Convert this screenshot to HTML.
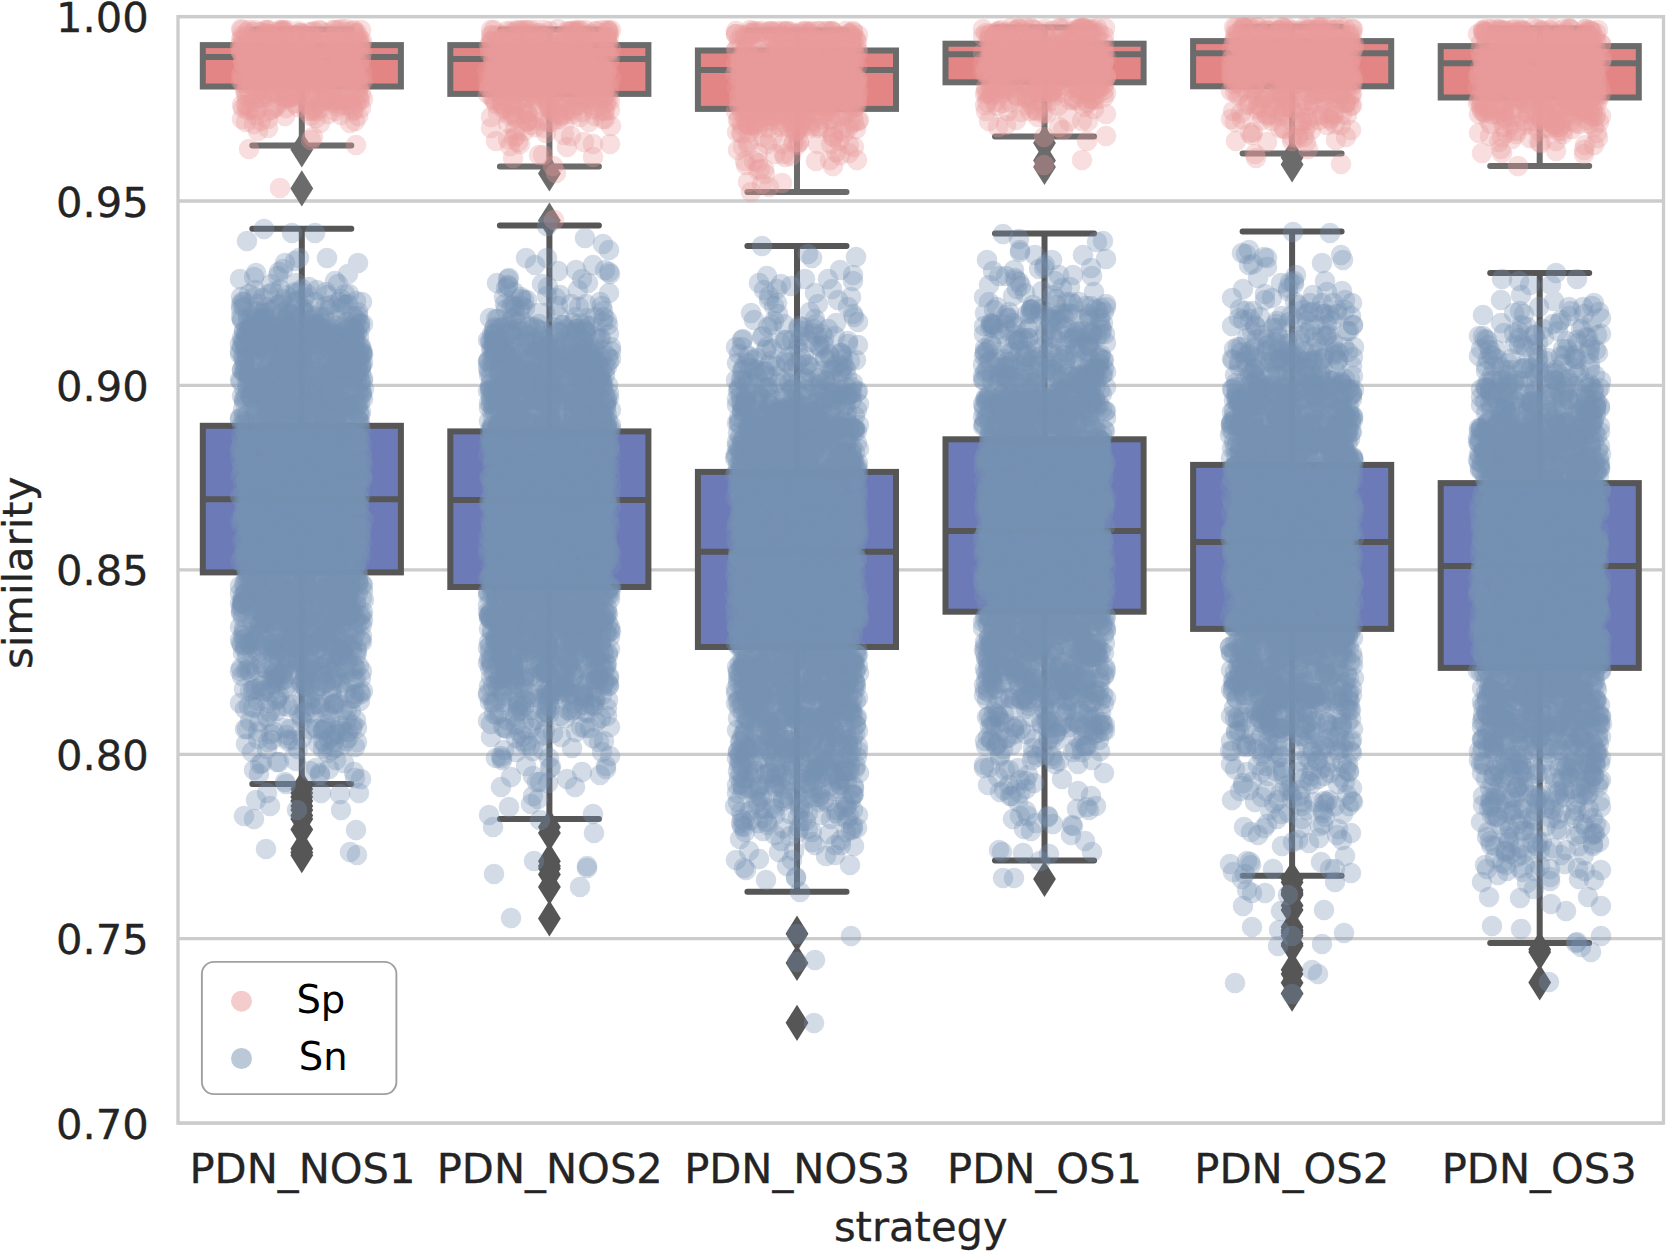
<!DOCTYPE html>
<html><head><meta charset="utf-8"><title>similarity by strategy</title>
<style>html,body{margin:0;padding:0;background:#fff;overflow:hidden}svg{display:block}text{font-family:"DejaVu Sans","Liberation Sans",sans-serif;stroke-width:.3px}</style></head><body>
<svg width="1666" height="1251" viewBox="0 0 1666 1251">
<rect width="1666" height="1251" fill="#fff"/>
<path d="M178.0 16.6H1663.5M178.0 201.0H1663.5M178.0 385.4H1663.5M178.0 569.9H1663.5M178.0 754.3H1663.5M178.0 938.7H1663.5M178.0 1123.1H1663.5" stroke="#cccccc" stroke-width="3.3" fill="none"/>
<rect x="178.0" y="16.6" width="1485.5" height="1106.5" fill="none" stroke="#cccccc" stroke-width="3.3"/>
<g stroke="#6b6b6b" stroke-width="6.00" fill="none" stroke-linecap="round"><path d="M301.8 45.1V29.4M301.8 86.5V145.6" stroke-linecap="butt"/><path d="M252.3 29.4H351.3M252.3 145.6H351.3"/><rect x="202.8" y="45.1" width="198.1" height="41.4" fill="#e38585" stroke-linejoin="miter"/><path d="M202.8 57.0H400.8" stroke-linecap="butt"/></g><path d="M301.8 131.4l11.4 18.1l-11.4 18.1l-11.4 -18.1z" fill="#6b6b6b"/><path d="M301.8 170.3l11.4 18.1l-11.4 18.1l-11.4 -18.1z" fill="#6b6b6b"/>
<g stroke="#6b6b6b" stroke-width="6.00" fill="none" stroke-linecap="round"><path d="M549.4 45.1V29.4M549.4 93.9V166.4" stroke-linecap="butt"/><path d="M499.9 29.4H598.9M499.9 166.4H598.9"/><rect x="450.3" y="45.1" width="198.1" height="48.8" fill="#e38585" stroke-linejoin="miter"/><path d="M450.3 59.0H648.4" stroke-linecap="butt"/></g><path d="M549.4 155.4l11.4 18.1l-11.4 18.1l-11.4 -18.1z" fill="#6b6b6b"/><path d="M549.4 202.4l11.4 18.1l-11.4 18.1l-11.4 -18.1z" fill="#6b6b6b"/>
<g stroke="#6b6b6b" stroke-width="6.00" fill="none" stroke-linecap="round"><path d="M797.0 50.5V30.4M797.0 108.9V192.0" stroke-linecap="butt"/><path d="M747.4 30.4H846.5M747.4 192.0H846.5"/><rect x="697.9" y="50.5" width="198.1" height="58.4" fill="#e38585" stroke-linejoin="miter"/><path d="M697.9 70.0H896.0" stroke-linecap="butt"/></g>
<g stroke="#6b6b6b" stroke-width="6.00" fill="none" stroke-linecap="round"><path d="M1044.5 43.7V27.4M1044.5 82.3V136.4" stroke-linecap="butt"/><path d="M995.0 27.4H1094.1M995.0 136.4H1094.1"/><rect x="945.5" y="43.7" width="198.1" height="38.6" fill="#e38585" stroke-linejoin="miter"/><path d="M945.5 54.2H1143.6" stroke-linecap="butt"/></g><path d="M1044.5 124.9l11.4 18.1l-11.4 18.1l-11.4 -18.1z" fill="#6b6b6b"/><path d="M1044.5 142.3l11.4 18.1l-11.4 18.1l-11.4 -18.1z" fill="#6b6b6b"/><path d="M1044.5 148.9l11.4 18.1l-11.4 18.1l-11.4 -18.1z" fill="#6b6b6b"/>
<g stroke="#6b6b6b" stroke-width="6.00" fill="none" stroke-linecap="round"><path d="M1292.1 41.1V26.8M1292.1 86.3V153.6" stroke-linecap="butt"/><path d="M1242.6 26.8H1341.6M1242.6 153.6H1341.6"/><rect x="1193.1" y="41.1" width="198.1" height="45.2" fill="#e38585" stroke-linejoin="miter"/><path d="M1193.1 53.2H1391.2" stroke-linecap="butt"/></g><path d="M1292.1 139.4l11.4 18.1l-11.4 18.1l-11.4 -18.1z" fill="#6b6b6b"/><path d="M1292.1 146.4l11.4 18.1l-11.4 18.1l-11.4 -18.1z" fill="#6b6b6b"/>
<g stroke="#6b6b6b" stroke-width="6.00" fill="none" stroke-linecap="round"><path d="M1539.7 46.1V28.4M1539.7 97.5V166.0" stroke-linecap="butt"/><path d="M1490.2 28.4H1589.2M1490.2 166.0H1589.2"/><rect x="1440.7" y="46.1" width="198.1" height="51.4" fill="#e38585" stroke-linejoin="miter"/><path d="M1440.7 63.2H1638.7" stroke-linecap="butt"/></g>
<g stroke="#565656" stroke-width="6.00" fill="none" stroke-linecap="round"><path d="M301.8 425.8V228.8M301.8 572.4V784.0" stroke-linecap="butt"/><path d="M252.3 228.8H351.3M252.3 784.0H351.3"/><rect x="202.8" y="425.8" width="198.1" height="146.6" fill="#6c7ab8" stroke-linejoin="miter"/><path d="M202.8 499.2H400.8" stroke-linecap="butt"/></g><path d="M301.8 770.9l11.4 18.1l-11.4 18.1l-11.4 -18.1z" fill="#565656"/><path d="M301.8 774.9l11.4 18.1l-11.4 18.1l-11.4 -18.1z" fill="#565656"/><path d="M301.8 778.9l11.4 18.1l-11.4 18.1l-11.4 -18.1z" fill="#565656"/><path d="M301.8 782.9l11.4 18.1l-11.4 18.1l-11.4 -18.1z" fill="#565656"/><path d="M301.8 787.9l11.4 18.1l-11.4 18.1l-11.4 -18.1z" fill="#565656"/><path d="M301.8 791.9l11.4 18.1l-11.4 18.1l-11.4 -18.1z" fill="#565656"/><path d="M301.8 797.5l11.4 18.1l-11.4 18.1l-11.4 -18.1z" fill="#565656"/><path d="M301.8 800.9l11.4 18.1l-11.4 18.1l-11.4 -18.1z" fill="#565656"/><path d="M301.8 811.4l11.4 18.1l-11.4 18.1l-11.4 -18.1z" fill="#565656"/><path d="M301.8 830.7l11.4 18.1l-11.4 18.1l-11.4 -18.1z" fill="#565656"/><path d="M301.8 834.3l11.4 18.1l-11.4 18.1l-11.4 -18.1z" fill="#565656"/><path d="M301.8 837.1l11.4 18.1l-11.4 18.1l-11.4 -18.1z" fill="#565656"/>
<g stroke="#565656" stroke-width="6.00" fill="none" stroke-linecap="round"><path d="M549.4 431.4V225.5M549.4 587.0V819.0" stroke-linecap="butt"/><path d="M499.9 225.5H598.9M499.9 819.0H598.9"/><rect x="450.3" y="431.4" width="198.1" height="155.6" fill="#6c7ab8" stroke-linejoin="miter"/><path d="M450.3 500.1H648.4" stroke-linecap="butt"/></g><path d="M549.4 809.0l11.4 18.1l-11.4 18.1l-11.4 -18.1z" fill="#565656"/><path d="M549.4 814.8l11.4 18.1l-11.4 18.1l-11.4 -18.1z" fill="#565656"/><path d="M549.4 843.1l11.4 18.1l-11.4 18.1l-11.4 -18.1z" fill="#565656"/><path d="M549.4 847.9l11.4 18.1l-11.4 18.1l-11.4 -18.1z" fill="#565656"/><path d="M549.4 850.4l11.4 18.1l-11.4 18.1l-11.4 -18.1z" fill="#565656"/><path d="M549.4 856.3l11.4 18.1l-11.4 18.1l-11.4 -18.1z" fill="#565656"/><path d="M549.4 868.8l11.4 18.1l-11.4 18.1l-11.4 -18.1z" fill="#565656"/><path d="M549.4 900.3l11.4 18.1l-11.4 18.1l-11.4 -18.1z" fill="#565656"/>
<g stroke="#565656" stroke-width="6.00" fill="none" stroke-linecap="round"><path d="M797.0 471.9V245.9M797.0 647.0V891.7" stroke-linecap="butt"/><path d="M747.4 245.9H846.5M747.4 891.7H846.5"/><rect x="697.9" y="471.9" width="198.1" height="175.1" fill="#6c7ab8" stroke-linejoin="miter"/><path d="M697.9 551.7H896.0" stroke-linecap="butt"/></g><path d="M797.0 915.6l11.4 18.1l-11.4 18.1l-11.4 -18.1z" fill="#565656"/><path d="M797.0 944.8l11.4 18.1l-11.4 18.1l-11.4 -18.1z" fill="#565656"/><path d="M797.0 1004.7l11.4 18.1l-11.4 18.1l-11.4 -18.1z" fill="#565656"/>
<g stroke="#565656" stroke-width="6.00" fill="none" stroke-linecap="round"><path d="M1044.5 439.3V233.6M1044.5 611.7V860.6" stroke-linecap="butt"/><path d="M995.0 233.6H1094.1M995.0 860.6H1094.1"/><rect x="945.5" y="439.3" width="198.1" height="172.4" fill="#6c7ab8" stroke-linejoin="miter"/><path d="M945.5 531.0H1143.6" stroke-linecap="butt"/></g><path d="M1044.5 860.9l11.4 18.1l-11.4 18.1l-11.4 -18.1z" fill="#565656"/>
<g stroke="#565656" stroke-width="6.00" fill="none" stroke-linecap="round"><path d="M1292.1 464.9V231.5M1292.1 628.9V875.7" stroke-linecap="butt"/><path d="M1242.6 231.5H1341.6M1242.6 875.7H1341.6"/><rect x="1193.1" y="464.9" width="198.1" height="164.0" fill="#6c7ab8" stroke-linejoin="miter"/><path d="M1193.1 542.1H1391.2" stroke-linecap="butt"/></g><path d="M1292.1 860.9l11.4 18.1l-11.4 18.1l-11.4 -18.1z" fill="#565656"/><path d="M1292.1 864.2l11.4 18.1l-11.4 18.1l-11.4 -18.1z" fill="#565656"/><path d="M1292.1 872.2l11.4 18.1l-11.4 18.1l-11.4 -18.1z" fill="#565656"/><path d="M1292.1 874.8l11.4 18.1l-11.4 18.1l-11.4 -18.1z" fill="#565656"/><path d="M1292.1 876.8l11.4 18.1l-11.4 18.1l-11.4 -18.1z" fill="#565656"/><path d="M1292.1 887.4l11.4 18.1l-11.4 18.1l-11.4 -18.1z" fill="#565656"/><path d="M1292.1 891.9l11.4 18.1l-11.4 18.1l-11.4 -18.1z" fill="#565656"/><path d="M1292.1 908.8l11.4 18.1l-11.4 18.1l-11.4 -18.1z" fill="#565656"/><path d="M1292.1 912.1l11.4 18.1l-11.4 18.1l-11.4 -18.1z" fill="#565656"/><path d="M1292.1 914.6l11.4 18.1l-11.4 18.1l-11.4 -18.1z" fill="#565656"/><path d="M1292.1 917.6l11.4 18.1l-11.4 18.1l-11.4 -18.1z" fill="#565656"/><path d="M1292.1 925.7l11.4 18.1l-11.4 18.1l-11.4 -18.1z" fill="#565656"/><path d="M1292.1 927.7l11.4 18.1l-11.4 18.1l-11.4 -18.1z" fill="#565656"/><path d="M1292.1 951.6l11.4 18.1l-11.4 18.1l-11.4 -18.1z" fill="#565656"/><path d="M1292.1 955.9l11.4 18.1l-11.4 18.1l-11.4 -18.1z" fill="#565656"/><path d="M1292.1 964.7l11.4 18.1l-11.4 18.1l-11.4 -18.1z" fill="#565656"/><path d="M1292.1 975.5l11.4 18.1l-11.4 18.1l-11.4 -18.1z" fill="#565656"/>
<g stroke="#565656" stroke-width="6.00" fill="none" stroke-linecap="round"><path d="M1539.7 483.1V273.0M1539.7 667.9V943.0" stroke-linecap="butt"/><path d="M1490.2 273.0H1589.2M1490.2 943.0H1589.2"/><rect x="1440.7" y="483.1" width="198.1" height="184.8" fill="#6c7ab8" stroke-linejoin="miter"/><path d="M1440.7 566.1H1638.7" stroke-linecap="butt"/></g><path d="M1539.7 931.4l11.4 18.1l-11.4 18.1l-11.4 -18.1z" fill="#565656"/><path d="M1539.7 934.0l11.4 18.1l-11.4 18.1l-11.4 -18.1z" fill="#565656"/><path d="M1539.7 964.3l11.4 18.1l-11.4 18.1l-11.4 -18.1z" fill="#565656"/>
<g fill="none" stroke-linecap="round" stroke-width="20.6" stroke="#e99a9a" stroke-opacity="0.33">
<path d="M350 123h0M283 87h0M246 105h0M335 101h0M353 68h0M292 46h0M362 52h0M516 118h0M552 97h0M510 93h0M592 90h0M604 90h0M543 57h0M590 62h0M531 45h0M770 140h0M773 136h0M756 76h0M770 88h0M806 55h0M842 67h0M839 71h0M790 53h0M839 88h0M837 99h0M1053 90h0M1008 111h0M1001 95h0M1094 89h0M1044 54h0M1068 73h0M1039 65h0M1072 51h0M1022 47h0M1061 81h0M997 32h0M1236 141h0M1281 112h0M1294 79h0M1279 64h0M1303 75h0M1247 74h0M1353 78h0M1351 43h0M1329 40h0M1341 46h0M1324 51h0M1317 63h0M1276 61h0M1250 60h0M1331 49h0M1543 111h0M1562 118h0M1517 101h0M1520 115h0M1505 85h0M1532 41h0M1493 38h0M1553 57h0M1601 44h0M1530 78h0M1497 83h0M1500 65h0M1542 30h0M1497 59h0"/>
<path d="M283 87h0M316 118h0M353 83h0M242 105h0M273 57h0M242 36h0M272 62h0M267 67h0M361 61h0M540 87h0M561 89h0M528 90h0M569 84h0M548 106h0M572 64h0M585 53h0M537 33h0M578 83h0M536 65h0M571 31h0M498 55h0M506 82h0M788 127h0M835 114h0M747 124h0M797 104h0M788 73h0M823 54h0M839 82h0M840 93h0M806 57h0M854 103h0M763 99h0M799 64h0M770 36h0M753 103h0M1089 86h0M1041 94h0M998 31h0M1000 41h0M999 46h0M1090 31h0M1000 43h0M1022 37h0M1311 95h0M1296 83h0M1327 71h0M1311 130h0M1280 128h0M1325 38h0M1341 36h0M1340 27h0M1245 59h0M1236 53h0M1557 120h0M1548 115h0M1568 102h0M1523 66h0M1571 35h0M1585 29h0M1573 62h0M1546 48h0M1578 88h0"/>
<path d="M264 90h0M325 89h0M314 81h0M350 81h0M353 99h0M285 67h0M349 67h0M265 58h0M350 46h0M520 98h0M506 108h0M504 96h0M515 75h0M567 31h0M542 67h0M581 63h0M607 37h0M806 111h0M750 125h0M831 89h0M791 59h0M754 71h0M854 43h0M778 45h0M803 50h0M799 45h0M824 41h0M785 64h0M856 39h0M833 70h0M761 31h0M1031 104h0M1043 113h0M1047 92h0M1081 30h0M1021 57h0M1074 37h0M1084 28h0M1041 62h0M1322 115h0M1240 77h0M1295 82h0M1305 130h0M1231 72h0M1333 79h0M1251 45h0M1337 39h0M1575 101h0M1512 125h0M1586 90h0M1508 93h0M1549 66h0M1505 30h0M1573 54h0M1492 68h0M1537 53h0M1531 53h0M1504 62h0M1533 82h0"/>
<path d="M254 102h0M265 86h0M286 99h0M303 47h0M316 58h0M241 52h0M258 79h0M288 38h0M288 68h0M362 72h0M610 101h0M549 100h0M512 86h0M550 101h0M543 39h0M537 54h0M555 54h0M494 82h0M583 71h0M532 79h0M498 34h0M588 78h0M501 38h0M511 64h0M491 30h0M756 126h0M833 136h0M787 113h0M808 112h0M768 128h0M807 60h0M761 66h0M760 55h0M820 75h0M829 72h0M771 86h0M1092 85h0M1041 102h0M1092 75h0M1042 46h0M1035 30h0M1036 39h0M1001 30h0M1083 78h0M1075 56h0M999 74h0M1016 81h0M1079 29h0M1323 68h0M1334 72h0M1341 93h0M1315 50h0M1324 40h0M1341 56h0M1279 57h0M1340 61h0M1324 54h0M1312 57h0M1250 27h0M1570 103h0M1535 94h0M1562 76h0M1534 49h0M1554 38h0M1596 93h0M1522 89h0M1502 52h0M1479 78h0M1508 93h0M1503 92h0M1522 72h0M1527 87h0"/>
<path d="M343 101h0M334 103h0M363 81h0M262 53h0M344 72h0M360 48h0M265 36h0M295 35h0M286 39h0M276 58h0M275 66h0M502 104h0M563 115h0M593 102h0M507 71h0M514 54h0M508 36h0M609 37h0M517 78h0M570 76h0M527 30h0M826 109h0M851 63h0M749 64h0M759 64h0M748 69h0M789 50h0M792 55h0M771 61h0M759 59h0M803 89h0M749 36h0M750 30h0M737 49h0M774 40h0M800 58h0M813 41h0M1030 96h0M1094 100h0M1076 60h0M1096 80h0M1032 54h0M1074 65h0M1022 62h0M983 53h0M1094 58h0M1079 56h0M1086 32h0M1096 35h0M1274 70h0M1328 74h0M1315 77h0M1307 55h0M1329 58h0M1335 47h0M1308 47h0M1315 37h0M1256 158h0M1554 124h0M1516 131h0M1558 74h0M1559 61h0M1602 58h0M1583 68h0M1560 55h0M1596 89h0M1589 89h0M1519 76h0M1529 49h0M1523 63h0M1564 46h0M1509 64h0M1513 40h0M1566 87h0M1512 71h0"/>
<path d="M312 81h0M247 57h0M253 54h0M322 42h0M294 50h0M315 52h0M262 44h0M361 46h0M309 32h0M280 188h0M356 145h0M538 86h0M495 100h0M569 53h0M556 38h0M574 75h0M576 33h0M514 80h0M509 72h0M522 42h0M516 69h0M546 60h0M763 137h0M756 123h0M832 105h0M746 107h0M771 121h0M834 82h0M756 31h0M777 69h0M754 68h0M1047 89h0M998 64h0M1051 59h0M1010 53h0M1008 50h0M1071 54h0M1027 72h0M989 64h0M1019 28h0M1309 106h0M1289 81h0M1297 63h0M1247 65h0M1249 55h0M1315 50h0M1597 96h0M1572 121h0M1501 109h0M1538 87h0M1529 65h0M1569 90h0M1562 71h0M1567 60h0M1539 91h0M1482 88h0M1538 29h0"/>
<path d="M338 107h0M277 46h0M243 63h0M308 45h0M306 59h0M502 105h0M534 100h0M516 136h0M526 90h0M551 97h0M605 111h0M499 43h0M522 31h0M581 44h0M591 74h0M555 64h0M538 57h0M589 57h0M606 72h0M540 33h0M814 106h0M789 117h0M786 115h0M844 114h0M849 36h0M767 101h0M778 94h0M798 90h0M807 53h0M757 69h0M802 69h0M739 97h0M780 69h0M783 75h0M814 97h0M755 101h0M766 85h0M840 155h0M1006 125h0M1025 87h0M1053 94h0M990 43h0M1075 40h0M992 56h0M1047 59h0M1017 47h0M1051 68h0M1087 42h0M1106 76h0M994 62h0M1254 85h0M1247 105h0M1277 98h0M1327 125h0M1297 71h0M1261 32h0M1270 53h0M1484 108h0M1515 109h0M1570 101h0M1568 104h0M1547 112h0M1547 53h0M1570 29h0M1501 71h0M1574 76h0M1525 89h0M1601 44h0M1509 51h0M1481 43h0M1582 52h0M1540 60h0M1555 58h0M1544 72h0M1545 61h0"/>
<path d="M295 87h0M324 81h0M333 52h0M257 48h0M259 72h0M489 88h0M578 84h0M533 120h0M503 70h0M501 55h0M511 31h0M509 82h0M523 39h0M583 43h0M495 75h0M589 76h0M513 158h0M737 132h0M755 109h0M799 142h0M742 35h0M845 43h0M854 83h0M774 56h0M852 73h0M802 59h0M836 60h0M781 35h0M742 62h0M1050 89h0M1051 92h0M1027 99h0M1100 86h0M1103 55h0M1016 51h0M1031 69h0M1000 76h0M1086 47h0M1081 28h0M1011 28h0M1298 138h0M1272 121h0M1329 81h0M1345 103h0M1252 66h0M1237 81h0M1319 49h0M1482 104h0M1593 111h0M1493 85h0M1516 80h0M1483 31h0"/>
<path d="M313 137h0M327 99h0M358 116h0M242 30h0M253 57h0M266 33h0M282 40h0M263 47h0M280 30h0M586 100h0M552 54h0M606 53h0M492 71h0M499 57h0M497 60h0M525 80h0M830 119h0M791 119h0M799 126h0M788 106h0M767 144h0M757 96h0M829 86h0M773 100h0M858 80h0M776 100h0M787 73h0M857 79h0M1037 111h0M1039 43h0M1078 42h0M1045 48h0M1099 77h0M1098 40h0M1060 78h0M997 56h0M1255 84h0M1266 65h0M1351 130h0M1319 120h0M1289 40h0M1332 48h0M1282 56h0M1253 44h0M1275 34h0M1336 49h0M1512 109h0M1516 134h0M1498 71h0M1500 40h0M1502 37h0M1495 68h0M1533 73h0M1513 48h0M1583 39h0M1592 41h0"/>
<path d="M273 90h0M294 82h0M260 86h0M354 110h0M293 54h0M293 60h0M338 70h0M281 61h0M249 56h0M298 31h0M246 33h0M272 44h0M287 72h0M287 30h0M587 85h0M600 111h0M600 37h0M493 75h0M536 53h0M609 63h0M562 79h0M850 124h0M797 145h0M853 115h0M857 42h0M753 33h0M741 89h0M765 98h0M1058 82h0M1038 117h0M1013 52h0M1073 36h0M1088 60h0M994 51h0M1030 39h0M1008 70h0M1012 46h0M997 34h0M998 127h0M1288 72h0M1334 114h0M1300 70h0M1243 78h0M1333 105h0M1292 81h0M1286 59h0M1331 30h0M1258 31h0M1265 46h0M1235 34h0M1537 113h0M1542 100h0M1554 125h0M1552 32h0M1520 67h0M1481 56h0M1573 65h0M1528 91h0M1546 66h0M1544 56h0M1518 45h0M1491 29h0"/>
<path d="M318 94h0M246 122h0M277 44h0M244 50h0M300 59h0M274 80h0M356 71h0M304 52h0M299 39h0M489 87h0M535 86h0M562 85h0M513 91h0M548 38h0M549 68h0M585 35h0M542 35h0M527 74h0M523 34h0M527 48h0M793 144h0M785 157h0M836 105h0M759 87h0M845 65h0M747 48h0M852 36h0M796 86h0M842 48h0M787 64h0M793 78h0M797 103h0M782 183h0M1078 101h0M1034 100h0M1051 92h0M1003 85h0M1097 58h0M1033 72h0M1009 70h0M1103 66h0M1330 120h0M1292 72h0M1341 94h0M1308 66h0M1286 100h0M1562 119h0M1572 103h0M1556 151h0M1575 123h0M1566 73h0M1601 60h0M1556 44h0M1550 58h0M1523 37h0M1487 43h0M1485 49h0"/>
<path d="M286 79h0M301 66h0M283 30h0M287 50h0M341 29h0M295 35h0M248 36h0M301 61h0M245 63h0M544 96h0M515 130h0M544 128h0M551 110h0M502 101h0M516 75h0M566 48h0M523 82h0M598 65h0M542 52h0M770 111h0M810 114h0M818 109h0M789 38h0M748 78h0M819 67h0M792 70h0M855 82h0M770 31h0M1006 63h0M1012 61h0M1104 43h0M991 69h0M1007 44h0M1314 104h0M1263 98h0M1243 80h0M1336 104h0M1352 94h0M1262 120h0M1232 76h0M1262 42h0M1307 43h0M1351 46h0M1347 50h0M1231 60h0M1592 116h0M1480 97h0M1566 35h0M1523 31h0"/>
<path d="M281 96h0M322 86h0M358 89h0M270 42h0M284 80h0M248 61h0M359 38h0M332 57h0M355 49h0M313 75h0M321 31h0M266 57h0M580 117h0M579 98h0M527 122h0M565 35h0M517 46h0M597 31h0M524 46h0M571 53h0M760 112h0M750 114h0M818 144h0M757 67h0M740 65h0M746 49h0M759 33h0M777 60h0M792 34h0M813 103h0M786 55h0M757 34h0M825 97h0M854 51h0M745 36h0M826 31h0M782 31h0M1063 130h0M1094 82h0M1022 82h0M1063 41h0M1084 79h0M1057 74h0M997 33h0M1096 48h0M1018 33h0M996 63h0M1342 72h0M1325 77h0M1238 95h0M1235 41h0M1298 49h0M1508 127h0M1506 133h0M1541 120h0M1515 98h0M1487 107h0M1547 45h0M1559 84h0M1554 79h0M1528 36h0M1562 75h0M1559 63h0M1594 86h0M1555 75h0M1512 30h0M1570 29h0M1584 154h0"/>
<path d="M330 80h0M300 59h0M254 32h0M317 58h0M270 34h0M269 38h0M266 30h0M346 60h0M542 84h0M510 116h0M600 87h0M608 43h0M608 31h0M526 40h0M502 79h0M556 76h0M577 32h0M551 66h0M828 106h0M856 129h0M751 106h0M804 103h0M767 83h0M762 101h0M777 98h0M796 35h0M799 73h0M796 34h0M747 48h0M851 49h0M811 37h0M849 69h0M1072 84h0M1039 89h0M1044 92h0M1081 86h0M1074 34h0M1071 74h0M1076 60h0M1289 101h0M1260 107h0M1261 105h0M1308 149h0M1259 78h0M1308 30h0M1249 37h0M1594 103h0M1504 110h0M1518 96h0M1567 108h0M1520 85h0M1596 87h0M1595 76h0M1549 81h0M1552 82h0"/>
<path d="M275 92h0M289 95h0M266 94h0M251 84h0M244 63h0M348 60h0M331 44h0M516 94h0M568 106h0M585 30h0M578 31h0M541 82h0M586 39h0M760 107h0M758 163h0M833 133h0M838 80h0M853 51h0M801 32h0M850 54h0M742 41h0M815 94h0M739 40h0M831 50h0M802 56h0M848 84h0M821 81h0M771 31h0M784 154h0M1093 86h0M988 93h0M1087 92h0M1021 38h0M1015 34h0M1080 45h0M1004 42h0M1018 29h0M996 39h0M1031 28h0M1290 107h0M1295 66h0M1270 115h0M1341 95h0M1288 38h0M1255 47h0M1564 92h0M1562 37h0M1525 71h0M1511 55h0M1507 38h0M1514 71h0"/>
<path d="M243 108h0M264 93h0M327 97h0M285 98h0M358 82h0M284 40h0M304 75h0M314 40h0M257 41h0M289 61h0M550 110h0M521 88h0M595 94h0M587 96h0M497 35h0M526 48h0M532 76h0M761 107h0M742 112h0M818 53h0M774 55h0M784 42h0M806 92h0M804 58h0M804 31h0M746 165h0M1005 34h0M1089 32h0M1070 41h0M1042 57h0M1049 49h0M1098 81h0M1104 36h0M1041 50h0M1011 51h0M1242 73h0M1346 102h0M1324 66h0M1253 70h0M1256 74h0M1301 60h0M1335 48h0M1291 51h0M1324 43h0M1349 35h0M1308 40h0M1519 97h0M1539 142h0M1553 58h0M1557 62h0M1567 33h0M1571 93h0M1504 40h0M1508 85h0M1572 83h0"/>
<path d="M325 100h0M254 124h0M332 81h0M281 68h0M312 36h0M353 53h0M280 32h0M328 49h0M299 53h0M350 40h0M523 104h0M602 97h0M589 122h0M599 72h0M514 80h0M558 53h0M522 46h0M577 52h0M769 187h0M740 107h0M839 141h0M815 89h0M1074 100h0M1000 55h0M1068 62h0M1023 36h0M1101 49h0M1307 117h0M1264 99h0M1231 91h0M1280 92h0M1308 120h0M1343 40h0M1339 30h0M1317 33h0M1258 36h0M1341 164h0M1528 96h0M1586 100h0M1536 36h0M1581 81h0M1589 57h0M1514 88h0M1502 153h0"/>
<path d="M268 90h0M252 85h0M307 84h0M344 42h0M331 76h0M281 75h0M358 42h0M315 66h0M346 29h0M586 85h0M508 139h0M537 87h0M497 71h0M561 47h0M534 81h0M541 36h0M499 75h0M602 82h0M584 81h0M549 78h0M545 48h0M816 161h0M781 105h0M763 97h0M793 82h0M745 39h0M810 60h0M840 48h0M801 56h0M773 93h0M751 60h0M791 156h0M1099 99h0M1070 100h0M1021 112h0M1104 97h0M1088 60h0M990 68h0M1059 28h0M1019 60h0M1056 58h0M1009 76h0M1029 57h0M1284 93h0M1325 79h0M1269 68h0M1317 89h0M1241 78h0M1234 84h0M1293 52h0M1554 98h0M1479 133h0M1492 114h0M1558 131h0M1479 100h0M1587 39h0M1480 68h0M1594 62h0M1600 87h0M1559 43h0M1523 41h0M1484 32h0"/>
<path d="M248 110h0M291 94h0M267 43h0M287 58h0M298 49h0M287 42h0M248 80h0M602 87h0M513 113h0M518 86h0M554 106h0M543 155h0M598 70h0M595 31h0M738 120h0M780 127h0M760 169h0M827 111h0M740 73h0M753 55h0M760 99h0M737 88h0M736 34h0M759 63h0M829 86h0M846 65h0M826 81h0M811 48h0M804 103h0M836 42h0M1069 121h0M991 88h0M1089 93h0M1067 113h0M994 63h0M999 78h0M1056 45h0M1026 49h0M1044 53h0M1267 142h0M1338 87h0M1265 64h0M1353 29h0M1297 31h0M1277 57h0M1584 111h0M1592 50h0M1550 42h0M1555 34h0M1487 55h0M1503 53h0"/>
<path d="M360 100h0M265 83h0M268 119h0M332 101h0M348 81h0M313 62h0M340 63h0M298 61h0M308 77h0M272 34h0M281 30h0M314 31h0M249 30h0M504 109h0M508 85h0M524 34h0M545 79h0M576 57h0M567 83h0M577 60h0M488 81h0M544 38h0M747 108h0M775 154h0M858 121h0M841 131h0M841 36h0M852 41h0M804 50h0M820 67h0M814 43h0M825 48h0M838 44h0M807 44h0M820 86h0M1078 88h0M1049 56h0M1082 36h0M996 48h0M1048 47h0M1041 53h0M1044 137h0M1268 71h0M1311 80h0M1263 76h0M1309 65h0M1262 69h0M1303 75h0M1281 70h0M1241 74h0M1260 67h0M1258 105h0M1266 83h0M1255 154h0M1290 44h0M1278 57h0M1246 28h0M1556 124h0M1556 141h0M1501 30h0M1573 65h0M1560 37h0M1506 94h0M1583 34h0M1540 37h0M1490 86h0M1573 61h0M1571 61h0M1509 55h0M1530 50h0M1569 28h0M1550 30h0M1589 87h0M1533 28h0M1500 29h0M1539 30h0"/>
<path d="M325 84h0M248 89h0M257 98h0M321 81h0M361 93h0M335 87h0M277 68h0M271 76h0M336 54h0M593 94h0M497 79h0M567 64h0M567 42h0M568 32h0M536 50h0M781 108h0M854 108h0M766 71h0M806 58h0M847 90h0M745 95h0M777 101h0M753 31h0M803 57h0M1052 91h0M1087 102h0M1061 37h0M992 63h0M1091 37h0M1029 56h0M1087 48h0M998 47h0M1056 45h0M1002 76h0M1041 59h0M1000 39h0M1301 121h0M1300 74h0M1305 101h0M1284 129h0M1313 86h0M1278 90h0M1263 76h0M1320 44h0M1315 59h0M1344 47h0M1286 59h0M1268 51h0M1334 48h0M1504 105h0M1541 97h0M1526 104h0M1482 111h0M1571 62h0M1547 72h0M1507 62h0M1587 39h0M1484 34h0M1553 28h0"/>
<path d="M307 95h0M311 100h0M313 97h0M299 82h0M347 78h0M321 75h0M347 55h0M557 91h0M543 74h0M541 34h0M521 80h0M589 67h0M550 77h0M565 59h0M549 42h0M544 30h0M536 30h0M803 104h0M799 142h0M769 120h0M838 65h0M813 100h0M765 74h0M1015 93h0M1039 34h0M1002 54h0M983 63h0M1044 42h0M990 35h0M1016 37h0M1036 42h0M1333 116h0M1307 70h0M1307 77h0M1281 55h0M1258 46h0M1282 38h0M1305 27h0M1478 103h0M1484 113h0M1566 96h0M1539 99h0M1518 166h0M1595 38h0M1510 66h0M1541 82h0M1495 60h0M1562 83h0M1595 59h0M1555 67h0M1541 35h0"/>
<path d="M273 92h0M241 81h0M255 67h0M272 52h0M300 33h0M275 77h0M341 51h0M539 90h0M610 110h0M593 91h0M572 114h0M520 64h0M568 76h0M490 53h0M500 71h0M523 38h0M739 105h0M782 144h0M775 109h0M764 117h0M749 119h0M757 88h0M824 57h0M783 93h0M745 87h0M741 58h0M816 61h0M851 49h0M833 166h0M1043 51h0M996 74h0M1062 45h0M1078 54h0M993 38h0M1105 28h0M1087 141h0M1336 140h0M1289 119h0M1345 41h0M1269 54h0M1322 53h0M1341 44h0M1236 36h0M1240 35h0M1534 101h0M1594 127h0M1542 105h0M1571 94h0M1525 102h0M1562 72h0M1541 81h0M1587 72h0M1492 90h0M1517 33h0M1584 54h0M1542 32h0"/>
<path d="M283 93h0M330 92h0M330 98h0M339 98h0M266 30h0M277 65h0M267 43h0M249 41h0M272 49h0M241 52h0M492 97h0M587 40h0M520 62h0M566 57h0M547 70h0M541 83h0M531 54h0M738 150h0M812 50h0M741 65h0M995 102h0M1014 59h0M1005 47h0M1029 33h0M1095 60h0M1063 49h0M1086 65h0M1104 53h0M1084 29h0M1310 67h0M1290 65h0M1322 83h0M1331 66h0M1337 46h0M1245 60h0M1302 44h0M1272 46h0M1239 46h0M1540 98h0M1588 110h0M1505 118h0M1571 85h0M1579 42h0M1586 68h0M1500 52h0M1566 42h0M1561 55h0M1542 91h0M1508 75h0M1517 38h0M1568 50h0M1478 88h0M1584 82h0M1574 39h0"/>
<path d="M313 111h0M260 94h0M318 74h0M314 44h0M359 44h0M300 48h0M350 67h0M539 92h0M553 88h0M535 111h0M544 84h0M525 113h0M579 105h0M575 32h0M502 62h0M555 55h0M511 60h0M609 31h0M506 76h0M509 70h0M574 58h0M490 48h0M556 173h0M748 142h0M742 125h0M817 112h0M768 116h0M831 120h0M767 77h0M736 64h0M781 49h0M790 80h0M821 80h0M832 31h0M854 38h0M853 92h0M777 99h0M1023 82h0M1064 93h0M1090 30h0M1098 54h0M1046 51h0M1038 62h0M1082 61h0M991 52h0M1025 51h0M986 68h0M1068 40h0M1293 89h0M1288 28h0M1246 51h0M1312 43h0M1244 28h0M1584 115h0M1587 120h0M1481 107h0M1515 91h0M1572 49h0M1483 65h0M1521 72h0M1553 80h0M1516 81h0"/>
<path d="M256 111h0M306 83h0M356 103h0M243 83h0M273 38h0M361 43h0M267 37h0M311 58h0M267 69h0M346 38h0M348 78h0M262 38h0M301 53h0M311 37h0M551 86h0M606 103h0M600 93h0M520 67h0M545 37h0M489 45h0M564 69h0M522 60h0M607 30h0M588 82h0M604 72h0M537 47h0M593 144h0M802 125h0M819 128h0M768 64h0M835 103h0M830 34h0M796 55h0M849 34h0M806 97h0M828 31h0M1097 86h0M998 85h0M1104 62h0M1085 30h0M1094 53h0M989 61h0M1081 73h0M1077 29h0M1082 160h0M1231 65h0M1281 87h0M1302 122h0M1351 73h0M1298 91h0M1338 68h0M1312 56h0M1555 97h0M1595 117h0M1578 92h0M1518 51h0M1566 89h0M1562 34h0M1541 143h0"/>
<path d="M321 108h0M332 81h0M337 90h0M247 105h0M340 97h0M284 95h0M254 65h0M277 60h0M338 67h0M335 37h0M292 56h0M358 78h0M260 32h0M539 155h0M572 111h0M610 144h0M538 65h0M586 65h0M502 39h0M525 74h0M521 30h0M749 133h0M801 120h0M760 80h0M784 54h0M820 56h0M776 67h0M757 101h0M820 62h0M840 83h0M1079 94h0M1072 69h0M1052 71h0M1044 50h0M1095 79h0M1059 127h0M1246 81h0M1300 113h0M1292 71h0M1298 69h0M1235 92h0M1257 27h0M1352 56h0M1282 60h0M1280 46h0M1273 46h0M1260 54h0M1565 94h0M1596 115h0M1548 120h0M1485 112h0M1483 100h0M1490 45h0M1520 58h0M1593 68h0M1515 72h0M1502 80h0M1570 94h0M1557 58h0"/>
<path d="M266 97h0M287 88h0M287 84h0M288 52h0M302 34h0M292 43h0M320 71h0M241 75h0M358 76h0M335 50h0M569 91h0M604 110h0M517 31h0M581 67h0M495 81h0M562 56h0M579 40h0M501 42h0M491 41h0M579 30h0M554 220h0M803 110h0M745 118h0M758 153h0M797 131h0M842 117h0M792 93h0M752 67h0M804 53h0M844 60h0M854 100h0M798 84h0M826 64h0M783 35h0M768 104h0M803 41h0M770 96h0M830 160h0M743 147h0M1082 87h0M1089 39h0M1021 72h0M1087 40h0M1026 56h0M1240 69h0M1283 72h0M1328 66h0M1342 114h0M1258 66h0M1322 87h0M1327 66h0M1267 97h0M1348 42h0M1281 31h0M1294 42h0M1336 29h0M1281 32h0M1489 121h0M1489 97h0M1490 136h0M1575 106h0M1524 56h0M1596 70h0M1509 57h0M1550 66h0M1559 46h0M1478 76h0M1587 74h0M1497 39h0"/>
<path d="M289 97h0M270 82h0M302 80h0M273 54h0M361 58h0M249 56h0M258 75h0M243 39h0M549 108h0M503 88h0M611 126h0M524 131h0M563 84h0M587 103h0M544 99h0M567 110h0M591 81h0M595 73h0M567 39h0M603 50h0M595 68h0M601 66h0M565 60h0M575 41h0M545 52h0M519 53h0M611 78h0M494 78h0M795 132h0M804 118h0M848 112h0M787 79h0M823 49h0M826 65h0M813 73h0M844 60h0M839 75h0M849 96h0M787 50h0M749 82h0M793 45h0M801 59h0M1048 84h0M1017 96h0M1106 77h0M1084 54h0M1014 72h0M1074 81h0M1062 70h0M1025 62h0M1057 60h0M1059 48h0M1080 28h0M1106 136h0M1331 86h0M1304 87h0M1233 111h0M1329 28h0M1289 59h0M1352 29h0M1253 55h0M1271 38h0M1291 32h0M1561 125h0M1533 47h0M1581 43h0M1526 59h0M1494 74h0M1525 32h0M1553 36h0M1548 70h0M1548 37h0M1505 40h0"/>
<path d="M249 92h0M341 100h0M341 86h0M317 111h0M334 53h0M265 75h0M350 80h0M303 36h0M288 59h0M268 73h0M353 31h0M558 115h0M550 48h0M553 166h0M752 111h0M797 69h0M749 84h0M762 88h0M755 92h0M830 93h0M762 83h0M760 71h0M784 88h0M774 97h0M790 62h0M757 60h0M835 36h0M741 63h0M796 94h0M776 51h0M853 31h0M836 152h0M762 184h0M1028 88h0M1005 75h0M1035 75h0M1073 64h0M1037 65h0M1014 31h0M1249 64h0M1351 95h0M1258 75h0M1268 62h0M1232 48h0M1264 52h0M1336 57h0M1547 118h0M1589 68h0M1587 91h0M1549 79h0M1584 150h0"/>
<path d="M310 97h0M329 43h0M286 60h0M296 37h0M514 138h0M526 97h0M531 125h0M503 63h0M560 68h0M592 63h0M492 41h0M527 76h0M849 153h0M848 128h0M793 121h0M761 105h0M739 78h0M748 80h0M751 100h0M758 81h0M789 52h0M856 81h0M737 72h0M797 103h0M756 47h0M1042 105h0M1078 38h0M1081 33h0M1077 40h0M1085 72h0M1071 77h0M1060 50h0M1283 83h0M1233 66h0M1250 133h0M1268 30h0M1293 33h0M1533 125h0M1546 108h0M1599 122h0M1492 107h0M1497 114h0M1519 66h0M1488 88h0M1538 86h0M1484 62h0M1498 81h0M1504 36h0M1568 39h0M1511 70h0M1520 29h0"/>
<path d="M361 108h0M323 101h0M319 87h0M261 44h0M270 67h0M342 67h0M292 45h0M240 46h0M335 52h0M318 63h0M347 52h0M534 104h0M573 97h0M545 61h0M507 75h0M596 70h0M526 82h0M839 116h0M773 115h0M840 113h0M756 122h0M855 88h0M845 54h0M850 81h0M775 60h0M788 84h0M810 37h0M809 79h0M804 96h0M845 93h0M795 38h0M842 40h0M824 59h0M1035 110h0M1086 84h0M997 87h0M996 70h0M1071 32h0M1347 88h0M1263 40h0M1558 111h0M1479 74h0M1541 57h0M1521 59h0M1486 74h0M1557 74h0M1593 75h0"/>
<path d="M309 77h0M317 73h0M333 37h0M242 73h0M315 56h0M269 34h0M259 72h0M488 94h0M510 92h0M584 98h0M524 107h0M494 89h0M501 51h0M583 50h0M548 50h0M495 79h0M600 80h0M577 72h0M496 60h0M560 63h0M772 116h0M825 106h0M792 106h0M798 109h0M844 57h0M857 103h0M756 96h0M757 93h0M805 79h0M1001 85h0M1014 88h0M1002 74h0M1070 45h0M996 40h0M1014 44h0M1007 32h0M1082 35h0M1032 29h0M1303 83h0M1339 92h0M1249 104h0M1279 63h0M1326 62h0M1242 51h0M1298 51h0M1334 62h0M1261 44h0M1571 103h0M1545 127h0M1524 121h0M1562 131h0M1565 107h0M1601 94h0M1597 77h0M1530 57h0M1486 91h0M1582 93h0M1592 42h0M1522 91h0M1525 67h0M1570 50h0M1524 79h0M1590 30h0"/>
<path d="M251 109h0M295 85h0M320 123h0M341 105h0M307 67h0M260 57h0M295 77h0M278 32h0M308 54h0M269 30h0M580 95h0M551 85h0M575 33h0M496 74h0M567 53h0M513 60h0M501 72h0M779 125h0M748 111h0M794 113h0M763 122h0M858 92h0M798 69h0M793 91h0M792 104h0M825 90h0M803 34h0M799 86h0M742 72h0M735 74h0M850 39h0M1026 94h0M996 63h0M1005 65h0M1316 94h0M1275 65h0M1238 83h0M1257 109h0M1241 80h0M1298 135h0M1329 113h0M1314 59h0M1287 31h0M1317 57h0M1288 35h0M1591 105h0M1549 116h0M1532 121h0M1581 95h0M1532 105h0M1500 83h0M1541 78h0M1562 51h0M1559 50h0M1581 92h0M1496 93h0"/>
<path d="M305 82h0M302 89h0M269 49h0M351 64h0M356 61h0M259 51h0M269 45h0M338 30h0M584 93h0M603 98h0M591 97h0M546 133h0M531 92h0M569 95h0M533 40h0M543 42h0M549 49h0M526 59h0M608 44h0M548 35h0M551 75h0M611 30h0M774 116h0M748 145h0M741 133h0M759 113h0M851 84h0M843 62h0M769 79h0M847 73h0M750 33h0M834 100h0M802 51h0M824 96h0M836 72h0M761 85h0M820 40h0M996 84h0M1082 51h0M1016 45h0M1097 28h0M1062 74h0M991 68h0M1005 58h0M1047 57h0M983 36h0M1068 40h0M1353 81h0M1295 85h0M1275 81h0M1293 50h0M1274 41h0M1257 57h0M1328 57h0M1294 59h0M1595 95h0M1540 102h0M1553 111h0M1588 111h0M1583 112h0M1541 108h0M1513 32h0M1567 62h0M1547 84h0M1567 58h0M1495 89h0M1504 60h0M1579 64h0M1587 36h0"/>
<path d="M259 88h0M325 96h0M357 33h0M349 51h0M334 48h0M296 79h0M491 86h0M539 85h0M520 144h0M527 113h0M523 52h0M573 83h0M501 39h0M515 77h0M516 43h0M548 64h0M753 111h0M844 133h0M819 65h0M835 98h0M794 89h0M752 76h0M774 52h0M794 75h0M821 86h0M752 102h0M740 61h0M793 101h0M992 93h0M992 54h0M1052 31h0M1001 74h0M1061 42h0M1049 44h0M1099 33h0M997 37h0M1245 89h0M1329 118h0M1278 31h0M1244 27h0M1323 40h0M1272 57h0M1323 60h0M1548 70h0M1560 69h0M1541 47h0M1552 54h0M1493 72h0M1526 36h0"/>
<path d="M277 48h0M300 66h0M309 60h0M313 74h0M354 34h0M339 74h0M285 31h0M584 87h0M512 103h0M505 93h0M491 35h0M592 41h0M584 77h0M543 82h0M608 33h0M516 58h0M497 67h0M745 161h0M849 145h0M806 123h0M809 125h0M736 34h0M777 44h0M779 37h0M768 98h0M786 81h0M741 72h0M744 68h0M745 57h0M798 100h0M987 102h0M1106 93h0M1100 68h0M1104 59h0M1023 68h0M1062 45h0M1059 70h0M997 52h0M1300 125h0M1241 93h0M1352 79h0M1243 47h0M1234 41h0M1337 53h0M1259 55h0M1269 31h0M1320 27h0M1539 131h0M1590 105h0M1527 113h0M1599 98h0M1568 116h0M1588 108h0M1601 116h0M1496 104h0M1497 106h0M1570 62h0M1591 31h0M1556 90h0M1486 39h0"/>
<path d="M310 86h0M287 86h0M302 89h0M268 128h0M276 107h0M285 76h0M255 50h0M244 44h0M339 75h0M246 59h0M310 55h0M300 33h0M277 49h0M241 29h0M244 30h0M588 90h0M582 112h0M570 85h0M567 35h0M509 83h0M542 63h0M500 79h0M602 30h0M746 117h0M788 113h0M782 110h0M800 129h0M853 66h0M849 80h0M856 79h0M767 82h0M773 51h0M777 31h0M746 71h0M819 82h0M816 40h0M782 94h0M828 88h0M799 65h0M997 90h0M1104 84h0M992 95h0M989 40h0M1079 30h0M995 62h0M1041 46h0M1038 49h0M989 53h0M1056 46h0M1104 74h0M1067 60h0M1026 51h0M1065 50h0M1032 38h0M1084 31h0M1352 85h0M1310 116h0M1250 101h0M1348 79h0M1278 109h0M1351 106h0M1341 80h0M1232 70h0M1272 58h0M1249 46h0M1504 127h0M1582 107h0M1547 73h0M1579 86h0M1585 145h0"/>
<path d="M299 94h0M278 82h0M361 30h0M274 69h0M292 77h0M339 42h0M252 78h0M353 62h0M267 35h0M299 60h0M253 65h0M530 91h0M528 86h0M538 88h0M549 122h0M609 84h0M500 45h0M577 78h0M492 43h0M819 126h0M823 107h0M739 97h0M834 97h0M819 31h0M765 53h0M810 32h0M809 101h0M853 77h0M1092 87h0M1015 95h0M992 82h0M1027 97h0M1026 35h0M991 50h0M1083 38h0M1021 58h0M1044 165h0M1284 79h0M1341 71h0M1286 72h0M1326 105h0M1284 106h0M1324 27h0M1318 27h0M1555 122h0M1498 109h0M1549 128h0M1494 106h0M1483 67h0M1541 57h0M1511 85h0M1589 35h0M1497 29h0"/>
<path d="M258 110h0M308 105h0M301 35h0M242 51h0M263 67h0M359 63h0M296 67h0M285 68h0M353 43h0M331 68h0M514 94h0M572 109h0M497 54h0M606 72h0M507 75h0M811 121h0M750 112h0M760 107h0M804 117h0M825 68h0M846 102h0M797 74h0M767 41h0M804 49h0M776 99h0M802 71h0M769 35h0M837 37h0M854 78h0M749 91h0M793 69h0M814 58h0M768 65h0M754 161h0M857 160h0M1029 82h0M1003 103h0M1029 86h0M1008 60h0M1101 70h0M1034 74h0M991 50h0M1021 32h0M1054 56h0M989 34h0M1009 66h0M1079 53h0M1267 116h0M1304 137h0M1318 115h0M1302 105h0M1313 88h0M1265 95h0M1316 51h0M1327 33h0M1242 43h0M1354 47h0M1301 61h0M1241 60h0M1320 30h0M1298 56h0M1564 96h0M1503 112h0M1584 103h0M1491 124h0M1485 69h0M1554 46h0M1523 93h0M1596 33h0"/>
<path d="M277 104h0M266 112h0M328 86h0M256 115h0M328 81h0M259 78h0M335 79h0M256 72h0M329 60h0M276 77h0M259 47h0M249 45h0M501 85h0M547 101h0M542 47h0M606 52h0M487 71h0M601 44h0M538 56h0M517 30h0M783 113h0M775 108h0M744 105h0M751 192h0M742 103h0M809 46h0M854 85h0M765 68h0M812 31h0M831 100h0M745 82h0M1016 120h0M1069 69h0M1044 65h0M986 73h0M1070 47h0M1030 39h0M1084 55h0M1284 107h0M1266 114h0M1340 68h0M1273 74h0M1278 67h0M1250 44h0M1343 57h0M1317 41h0M1291 60h0M1315 30h0M1282 27h0M1546 116h0M1541 100h0M1579 109h0M1524 42h0M1596 61h0M1500 68h0M1590 36h0M1551 43h0M1504 62h0M1486 29h0M1496 36h0M1518 34h0M1488 29h0M1494 55h0"/>
<path d="M332 87h0M319 30h0M274 50h0M264 75h0M291 55h0M607 94h0M609 90h0M553 112h0M511 91h0M508 102h0M582 80h0M548 45h0M588 66h0M573 35h0M512 36h0M584 71h0M854 122h0M801 71h0M759 93h0M822 91h0M771 74h0M796 50h0M745 80h0M848 59h0M759 94h0M1082 121h0M1083 81h0M1081 91h0M1016 50h0M1106 57h0M1090 29h0M1250 64h0M1309 123h0M1330 90h0M1238 46h0M1349 61h0M1315 33h0M1279 30h0M1575 96h0M1533 98h0M1589 96h0M1529 115h0M1513 76h0M1550 50h0M1582 51h0M1566 54h0M1545 86h0M1532 73h0"/>
<path d="M338 86h0M350 104h0M245 90h0M257 84h0M298 107h0M318 85h0M322 82h0M315 58h0M535 96h0M508 123h0M603 97h0M501 95h0M525 30h0M577 42h0M541 42h0M511 62h0M512 42h0M596 44h0M580 81h0M552 70h0M797 110h0M831 144h0M790 122h0M772 84h0M783 55h0M810 101h0M746 64h0M846 102h0M785 36h0M821 75h0M997 106h0M1011 86h0M1106 114h0M1047 113h0M1007 83h0M1019 40h0M1049 44h0M1343 73h0M1328 85h0M1253 132h0M1256 72h0M1296 45h0M1264 62h0M1302 32h0M1253 51h0M1572 129h0M1576 102h0M1589 124h0M1576 58h0M1586 73h0M1588 45h0M1557 86h0M1506 55h0"/>
<path d="M307 111h0M337 73h0M534 87h0M559 88h0M570 95h0M600 88h0M527 121h0M604 91h0M537 93h0M603 119h0M503 67h0M564 47h0M854 147h0M831 87h0M858 52h0M850 33h0M787 70h0M748 182h0M1072 84h0M1072 88h0M1058 86h0M1103 86h0M1084 107h0M1010 40h0M990 38h0M1023 57h0M1038 65h0M1347 86h0M1296 65h0M1298 107h0M1292 109h0M1330 93h0M1245 48h0M1354 44h0M1252 61h0M1235 61h0M1518 100h0M1541 117h0M1486 91h0M1540 85h0M1499 72h0M1507 53h0M1488 43h0M1494 34h0M1491 84h0"/>
<path d="M262 98h0M264 82h0M299 88h0M297 95h0M290 72h0M347 80h0M272 45h0M344 35h0M310 60h0M297 59h0M344 68h0M255 61h0M329 49h0M242 78h0M535 43h0M586 80h0M568 51h0M570 72h0M521 83h0M607 70h0M758 124h0M769 76h0M840 39h0M749 79h0M851 82h0M765 69h0M823 39h0M826 100h0M819 31h0M818 92h0M832 32h0M1030 111h0M1086 92h0M1058 106h0M1097 95h0M1088 73h0M1100 74h0M1104 50h0M1067 75h0M1051 36h0M1065 28h0M989 121h0M1288 95h0M1232 78h0M1320 91h0M1272 107h0M1350 64h0M1258 72h0M1257 96h0M1246 66h0M1331 35h0M1529 105h0M1597 80h0M1505 31h0M1510 33h0M1490 65h0M1586 29h0"/>
<path d="M361 82h0M294 103h0M283 31h0M275 65h0M345 50h0M287 68h0M338 67h0M313 32h0M313 67h0M347 68h0M535 127h0M593 109h0M528 115h0M605 84h0M517 92h0M584 95h0M553 78h0M512 33h0M503 58h0M510 56h0M574 76h0M561 50h0M534 55h0M549 67h0M558 29h0M765 108h0M742 133h0M822 119h0M850 104h0M763 116h0M812 97h0M831 65h0M788 31h0M857 84h0M849 62h0M841 63h0M758 170h0M764 169h0M1055 96h0M1063 83h0M1017 62h0M1046 34h0M1072 60h0M1026 64h0M986 33h0M1004 33h0M1306 142h0M1231 119h0M1325 72h0M1316 82h0M1569 105h0M1573 91h0M1496 93h0M1520 43h0M1515 82h0M1566 38h0M1587 31h0M1502 79h0M1553 45h0M1598 30h0"/>
<path d="M286 108h0M328 85h0M320 103h0M297 103h0M326 33h0M254 45h0M337 59h0M347 65h0M305 54h0M584 142h0M531 87h0M500 86h0M605 119h0M598 58h0M493 58h0M588 35h0M516 42h0M605 82h0M583 41h0M556 55h0M798 108h0M790 59h0M808 44h0M755 33h0M789 78h0M853 32h0M787 67h0M767 32h0M1095 89h0M1026 49h0M1020 66h0M1094 48h0M1042 34h0M993 53h0M1095 69h0M1045 53h0M1044 81h0M1045 29h0M1084 28h0M1252 135h0M1277 65h0M1300 53h0M1297 45h0M1283 63h0M1285 55h0M1542 96h0M1597 133h0M1597 103h0M1553 103h0M1594 72h0M1494 38h0M1541 88h0M1574 62h0M1507 50h0M1576 54h0M1584 43h0M1504 75h0M1523 30h0"/>
<path d="M247 97h0M271 110h0M246 91h0M355 121h0M318 42h0M283 62h0M243 61h0M321 50h0M282 59h0M351 73h0M302 67h0M346 59h0M494 90h0M608 99h0M607 100h0M496 141h0M559 108h0M588 86h0M511 45h0M572 71h0M558 71h0M516 42h0M824 114h0M821 104h0M802 113h0M830 40h0M774 103h0M821 100h0M764 37h0M800 81h0M741 73h0M765 64h0M759 86h0M846 62h0M842 62h0M1038 91h0M1053 84h0M1091 99h0M1004 89h0M1099 88h0M1010 56h0M1020 29h0M1083 28h0M1253 90h0M1324 101h0M1282 96h0M1353 49h0M1326 33h0M1331 44h0M1279 61h0M1310 34h0M1556 127h0M1574 107h0M1574 96h0M1506 33h0M1500 30h0M1495 63h0M1487 62h0M1520 49h0M1592 32h0"/>
<path d="M335 111h0M258 131h0M287 89h0M242 45h0M362 41h0M310 36h0M270 77h0M335 30h0M552 86h0M565 103h0M529 47h0M514 64h0M566 79h0M494 30h0M754 125h0M798 123h0M811 126h0M836 70h0M811 94h0M986 92h0M1092 99h0M1095 91h0M1046 63h0M1057 79h0M1070 72h0M1020 42h0M983 72h0M1044 66h0M1312 70h0M1292 137h0M1264 68h0M1343 86h0M1306 81h0M1285 88h0M1502 120h0M1589 100h0M1596 50h0M1558 85h0M1547 66h0M1542 67h0"/>
<path d="M320 82h0M341 115h0M308 50h0M576 97h0M590 105h0M606 37h0M602 69h0M517 74h0M497 42h0M493 63h0M589 69h0M859 120h0M803 122h0M846 31h0M776 68h0M830 35h0M744 90h0M842 68h0M784 72h0M842 83h0M827 102h0M985 94h0M1102 82h0M997 82h0M1104 90h0M1091 90h0M1051 101h0M997 66h0M1089 58h0M1061 28h0M1277 64h0M1288 81h0M1264 78h0M1323 68h0M1292 141h0M1245 33h0M1351 60h0M1344 42h0M1326 47h0M1315 48h0M1257 59h0M1273 61h0M1249 28h0M1269 27h0M1579 124h0M1533 78h0M1527 63h0M1487 84h0M1509 81h0M1587 90h0M1535 65h0M1589 41h0M1499 142h0"/>
<path d="M246 94h0M363 99h0M348 86h0M254 94h0M263 76h0M336 34h0M346 32h0M301 40h0M355 33h0M283 46h0M509 95h0M595 116h0M525 66h0M562 63h0M557 44h0M544 82h0M810 128h0M791 127h0M785 123h0M752 111h0M757 57h0M846 102h0M776 89h0M808 76h0M789 77h0M785 32h0M814 67h0M811 34h0M787 101h0M857 49h0M825 49h0M804 56h0M751 76h0M776 63h0M765 73h0M736 31h0M1003 87h0M1088 121h0M1048 64h0M1090 77h0M1032 66h0M1040 79h0M995 37h0M1000 61h0M1346 103h0M1315 95h0M1244 79h0M1341 84h0M1323 55h0M1285 61h0M1237 40h0M1238 62h0M1337 57h0M1258 27h0M1586 100h0M1557 107h0M1551 76h0M1523 53h0M1506 60h0M1501 75h0M1493 56h0M1513 91h0M1564 29h0"/>
<path d="M290 98h0M345 105h0M316 84h0M359 88h0M271 58h0M265 33h0M496 104h0M516 116h0M567 147h0M527 86h0M518 142h0M502 54h0M587 62h0M602 83h0M592 78h0M587 58h0M532 60h0M575 63h0M593 157h0M758 128h0M857 99h0M750 85h0M746 59h0M763 69h0M748 46h0M748 58h0M783 71h0M779 73h0M858 92h0M810 100h0M831 82h0M801 86h0M1002 41h0M1076 75h0M1034 76h0M1008 49h0M1012 44h0M1257 73h0M1318 90h0M1283 72h0M1335 124h0M1285 83h0M1256 64h0M1304 71h0M1261 37h0M1310 55h0M1340 47h0M1317 62h0M1243 28h0M1292 62h0M1527 95h0M1598 138h0M1567 113h0M1541 115h0M1505 117h0M1538 74h0M1584 51h0M1587 78h0M1497 37h0M1525 92h0"/>
<path d="M344 97h0M358 95h0M307 101h0M312 110h0M242 119h0M293 43h0M335 68h0M258 61h0M249 61h0M298 53h0M306 41h0M335 71h0M255 30h0M498 113h0M552 122h0M491 128h0M550 105h0M555 80h0M508 69h0M561 75h0M546 58h0M585 80h0M558 69h0M501 55h0M549 74h0M754 114h0M791 124h0M783 112h0M803 40h0M857 67h0M782 61h0M1003 93h0M1035 91h0M1041 84h0M1094 109h0M989 99h0M1027 105h0M986 111h0M1080 84h0M1020 38h0M1037 55h0M1103 63h0M1078 52h0M995 35h0M1022 39h0M1333 64h0M1254 88h0M1241 113h0M1325 43h0M1233 57h0M1340 51h0M1234 27h0M1268 31h0M1566 97h0M1495 72h0M1524 49h0M1575 42h0M1526 83h0"/>
<path d="M359 99h0M309 92h0M353 111h0M289 48h0M320 45h0M292 61h0M352 54h0M241 40h0M538 88h0M544 121h0M571 136h0M608 54h0M519 56h0M579 58h0M539 74h0M550 31h0M524 51h0M540 35h0M576 30h0M794 142h0M749 125h0M817 105h0M806 31h0M852 44h0M741 78h0M801 43h0M801 65h0M744 52h0M806 95h0M857 79h0M1074 98h0M1023 97h0M1036 90h0M1000 83h0M1037 87h0M1013 56h0M1030 39h0M1284 128h0M1279 119h0M1343 80h0M1245 65h0M1232 80h0M1346 137h0M1326 72h0M1282 99h0M1347 115h0M1328 95h0M1320 31h0M1305 31h0M1260 37h0M1251 59h0M1329 43h0M1283 28h0M1548 103h0M1577 115h0M1494 110h0M1502 137h0M1499 31h0M1522 53h0M1521 74h0M1482 58h0M1514 29h0M1530 78h0M1483 30h0M1592 61h0M1525 73h0"/>
<path d="M273 109h0M346 98h0M257 92h0M290 97h0M333 30h0M311 47h0M290 35h0M293 44h0M261 63h0M320 38h0M580 86h0M560 116h0M542 91h0M607 40h0M593 77h0M584 47h0M570 38h0M526 59h0M579 69h0M518 50h0M503 37h0M507 31h0M587 74h0M592 57h0M837 50h0M745 90h0M797 57h0M787 48h0M765 174h0M990 82h0M1043 72h0M1041 41h0M1076 64h0M1019 48h0M1077 77h0M1093 46h0M1290 72h0M1268 71h0M1263 68h0M1320 69h0M1292 101h0M1282 89h0M1269 93h0M1331 71h0M1286 74h0M1262 52h0M1280 37h0M1321 28h0M1338 38h0M1267 51h0M1345 28h0M1236 28h0M1531 100h0M1563 134h0M1512 139h0M1568 97h0M1525 125h0M1510 97h0M1479 114h0M1541 32h0M1578 64h0M1591 87h0M1478 34h0M1520 41h0M1510 64h0M1568 53h0M1527 88h0M1501 149h0"/>
<path d="M309 107h0M311 116h0M299 87h0M261 121h0M328 114h0M266 54h0M275 38h0M277 42h0M319 58h0M331 43h0M248 43h0M605 97h0M528 121h0M591 98h0M559 80h0M532 34h0M497 48h0M495 80h0M510 70h0M519 83h0M514 38h0M796 131h0M807 72h0M843 100h0M856 57h0M778 60h0M832 31h0M1007 89h0M985 105h0M983 29h0M1105 78h0M1043 55h0M1038 35h0M1025 40h0M1060 47h0M1004 54h0M1334 69h0M1343 75h0M1333 70h0M1352 105h0M1278 72h0M1323 92h0M1284 32h0M1284 28h0M1262 54h0M1241 41h0M1295 43h0M1350 36h0M1530 138h0M1552 97h0M1579 49h0M1592 79h0M1593 74h0M1561 68h0M1495 65h0M1480 51h0"/>
<path d="M314 108h0M253 74h0M274 77h0M351 80h0M342 68h0M335 67h0M354 75h0M515 106h0M559 119h0M581 96h0M589 51h0M578 78h0M504 67h0M611 49h0M577 36h0M529 42h0M510 80h0M492 36h0M535 64h0M533 71h0M540 73h0M572 31h0M790 105h0M846 77h0M834 77h0M758 85h0M779 55h0M797 103h0M790 76h0M786 31h0M809 32h0M1040 92h0M1063 85h0M1014 83h0M1072 60h0M1040 50h0M1036 72h0M1056 62h0M1256 81h0M1286 66h0M1327 83h0M1306 29h0M1295 47h0M1293 30h0M1350 40h0M1488 108h0M1543 107h0M1544 122h0M1485 32h0M1536 49h0M1587 51h0M1495 64h0M1560 71h0M1596 41h0M1572 72h0M1524 80h0M1544 59h0M1548 89h0M1483 75h0M1588 44h0M1521 31h0M1556 38h0M1578 52h0"/>
<path d="M285 116h0M292 97h0M311 140h0M350 59h0M349 57h0M252 40h0M494 100h0M515 89h0M564 125h0M577 105h0M562 107h0M564 135h0M567 84h0M543 89h0M531 59h0M588 44h0M494 57h0M595 52h0M546 53h0M513 52h0M794 108h0M827 127h0M792 110h0M838 48h0M854 65h0M853 61h0M857 96h0M779 97h0M796 55h0M835 46h0M792 32h0M1088 103h0M1070 59h0M1035 48h0M1003 44h0M1050 49h0M1035 44h0M1011 36h0M1045 32h0M1019 69h0M1082 63h0M1332 98h0M1235 122h0M1281 116h0M1346 65h0M1285 108h0M1313 101h0M1277 35h0M1281 50h0M1262 62h0M1342 61h0M1256 38h0M1286 45h0M1261 39h0M1280 42h0M1319 28h0M1512 116h0M1482 153h0M1514 100h0M1500 78h0M1549 90h0M1506 54h0M1582 37h0M1555 41h0M1563 65h0M1559 74h0M1536 47h0M1594 145h0"/>
<path d="M289 82h0M281 58h0M295 45h0M352 43h0M340 59h0M293 53h0M343 78h0M240 49h0M249 149h0M491 117h0M565 84h0M500 94h0M515 105h0M510 146h0M592 34h0M515 81h0M856 106h0M736 111h0M833 137h0M799 117h0M736 50h0M791 55h0M849 70h0M823 85h0M786 87h0M832 68h0M773 32h0M842 36h0M816 67h0M1089 82h0M1029 54h0M1093 29h0M1076 57h0M986 72h0M1106 76h0M1100 61h0M1260 113h0M1341 125h0M1351 80h0M1273 101h0M1351 88h0M1349 102h0M1242 119h0M1295 84h0M1313 47h0M1242 27h0M1328 35h0M1337 60h0M1310 29h0M1594 95h0M1493 81h0M1503 90h0M1557 67h0M1587 83h0M1579 44h0M1497 93h0M1595 92h0M1542 93h0M1531 41h0M1547 84h0M1596 57h0M1595 71h0M1524 45h0M1553 43h0M1539 90h0M1499 43h0M1538 79h0M1547 67h0M1551 69h0"/>
<path d="M321 81h0M305 82h0M352 107h0M247 58h0M304 44h0M271 38h0M354 30h0M516 93h0M600 92h0M512 115h0M532 94h0M552 95h0M557 113h0M610 58h0M569 57h0M568 49h0M530 30h0M581 31h0M739 119h0M848 98h0M858 35h0M837 50h0M749 66h0M841 43h0M831 42h0M799 46h0M986 87h0M1045 90h0M1010 102h0M1030 40h0M1070 77h0M1041 79h0M1103 63h0M1037 46h0M1002 43h0M1058 63h0M1073 71h0M1026 28h0M1295 85h0M1310 95h0M1327 86h0M1292 111h0M1338 98h0M1350 74h0M1287 53h0M1352 34h0M1302 50h0M1343 48h0M1283 42h0M1238 33h0M1590 114h0M1560 127h0M1487 32h0M1517 83h0M1496 78h0M1601 63h0M1513 78h0M1564 66h0M1504 43h0M1586 33h0M1512 69h0M1532 37h0"/>
</g>
<g fill="none" stroke-linecap="round" stroke-width="20.6" stroke="#7692b2" stroke-opacity="0.33">
<path d="M278 324h0M326 292h0M295 292h0M353 329h0M355 336h0M345 670h0M261 663h0M336 647h0M259 722h0M288 739h0M310 647h0M347 660h0M323 617h0M269 602h0M264 592h0M316 533h0M311 399h0M308 549h0M280 390h0M285 559h0M349 375h0M363 353h0M360 440h0M327 536h0M307 497h0M278 477h0M312 404h0M317 458h0M277 352h0M285 532h0M251 472h0M245 466h0M363 463h0M346 521h0M274 449h0M342 579h0M316 546h0M254 493h0M286 363h0M328 464h0M577 329h0M518 329h0M509 278h0M591 612h0M533 648h0M552 693h0M522 741h0M567 660h0M505 728h0M502 702h0M606 615h0M582 772h0M527 741h0M488 693h0M515 681h0M533 697h0M548 651h0M501 507h0M496 512h0M512 562h0M520 520h0M597 505h0M515 591h0M606 408h0M610 599h0M536 504h0M559 549h0M536 549h0M504 416h0M546 391h0M603 423h0M543 571h0M551 408h0M497 563h0M594 587h0M493 417h0M539 512h0M596 603h0M492 430h0M520 501h0M494 421h0M489 503h0M568 539h0M792 478h0M765 414h0M754 446h0M800 404h0M782 466h0M784 429h0M744 421h0M796 467h0M832 401h0M851 462h0M739 418h0M756 800h0M745 672h0M774 784h0M837 706h0M830 761h0M828 698h0M823 732h0M847 676h0M857 828h0M822 777h0M738 683h0M806 672h0M761 809h0M769 728h0M803 567h0M841 635h0M816 597h0M762 523h0M820 579h0M817 513h0M782 658h0M833 505h0M800 654h0M793 572h0M767 654h0M806 626h0M816 547h0M839 575h0M1016 434h0M1105 334h0M1021 286h0M1088 390h0M1060 447h0M1029 328h0M1097 242h0M1018 378h0M1036 411h0M1053 366h0M1022 377h0M996 689h0M1095 694h0M1041 723h0M1025 683h0M1032 663h0M1028 662h0M1054 616h0M1068 691h0M1084 666h0M1009 785h0M1096 579h0M1012 586h0M1026 550h0M1103 491h0M986 548h0M1055 478h0M1021 458h0M1075 530h0M1075 566h0M992 523h0M1040 537h0M1068 459h0M1079 486h0M1103 562h0M1075 566h0M1291 413h0M1311 387h0M1283 386h0M1239 398h0M1284 397h0M1261 388h0M1261 440h0M1258 278h0M1244 406h0M1334 426h0M1335 355h0M1267 267h0M1274 618h0M1244 646h0M1342 763h0M1307 647h0M1285 665h0M1324 628h0M1303 632h0M1295 636h0M1269 679h0M1285 614h0M1311 618h0M1326 615h0M1247 634h0M1256 686h0M1255 624h0M1324 746h0M1276 655h0M1249 670h0M1300 601h0M1256 595h0M1251 615h0M1329 623h0M1350 576h0M1255 482h0M1344 487h0M1251 593h0M1271 525h0M1271 539h0M1322 501h0M1290 556h0M1239 452h0M1275 506h0M1276 450h0M1347 560h0M1324 542h0M1263 521h0M1346 455h0M1270 463h0M1480 456h0M1553 443h0M1491 394h0M1539 447h0M1563 435h0M1501 430h0M1503 455h0M1517 669h0M1597 643h0M1533 686h0M1541 794h0M1513 727h0M1491 690h0M1563 647h0M1586 789h0M1518 744h0M1596 653h0M1571 727h0M1496 795h0M1505 655h0M1525 693h0M1481 822h0M1500 785h0M1516 616h0M1574 503h0M1512 478h0M1556 500h0M1519 550h0M1489 478h0M1568 582h0M1526 593h0M1488 461h0M1502 482h0M1498 506h0M1506 509h0"/>
<path d="M305 297h0M275 337h0M334 335h0M328 338h0M290 324h0M344 763h0M347 720h0M306 598h0M326 724h0M356 669h0M295 623h0M309 627h0M360 426h0M328 488h0M334 488h0M316 385h0M278 526h0M360 559h0M291 551h0M328 430h0M256 581h0M246 552h0M302 511h0M270 468h0M307 449h0M351 367h0M305 539h0M357 370h0M328 583h0M285 380h0M283 395h0M311 406h0M335 383h0M511 345h0M576 352h0M488 368h0M607 356h0M609 361h0M488 340h0M520 372h0M571 712h0M540 699h0M567 668h0M540 626h0M597 615h0M575 628h0M528 651h0M601 718h0M593 656h0M550 707h0M572 644h0M550 673h0M566 630h0M603 430h0M513 449h0M541 539h0M524 522h0M585 565h0M522 450h0M597 455h0M516 593h0M538 449h0M492 476h0M597 458h0M589 469h0M496 608h0M580 398h0M555 394h0M528 489h0M539 431h0M554 463h0M566 513h0M516 512h0M604 575h0M494 404h0M540 820h0M767 276h0M769 441h0M742 449h0M817 401h0M799 408h0M789 424h0M776 429h0M846 405h0M806 439h0M770 468h0M784 469h0M778 314h0M804 379h0M839 701h0M754 680h0M816 757h0M777 689h0M831 722h0M832 687h0M772 755h0M738 718h0M835 855h0M807 571h0M790 637h0M790 586h0M757 630h0M800 651h0M816 540h0M836 519h0M851 620h0M810 631h0M849 636h0M756 661h0M786 602h0M811 508h0M834 520h0M844 544h0M1052 370h0M1106 259h0M1003 435h0M1020 252h0M1063 416h0M998 381h0M988 350h0M1007 344h0M1011 376h0M1071 435h0M987 401h0M1082 592h0M1093 627h0M1016 605h0M1074 658h0M1092 719h0M1092 852h0M1045 576h0M1031 665h0M1021 699h0M1003 598h0M1016 586h0M1029 584h0M1040 688h0M1071 593h0M1032 760h0M1105 595h0M996 595h0M1002 634h0M1046 660h0M1073 667h0M1002 514h0M1079 481h0M1081 556h0M989 537h0M1046 458h0M1019 533h0M1248 400h0M1353 357h0M1257 339h0M1286 417h0M1257 439h0M1329 401h0M1283 362h0M1271 439h0M1239 366h0M1302 432h0M1237 620h0M1351 719h0M1327 624h0M1295 720h0M1328 725h0M1295 639h0M1331 701h0M1298 661h0M1278 727h0M1274 803h0M1302 623h0M1234 680h0M1318 779h0M1256 458h0M1308 576h0M1347 531h0M1263 526h0M1348 465h0M1265 493h0M1282 493h0M1339 558h0M1353 459h0M1300 593h0M1299 456h0M1324 515h0M1308 520h0M1329 512h0M1259 576h0M1332 529h0M1278 561h0M1278 946h0M1566 423h0M1587 443h0M1583 307h0M1566 387h0M1591 449h0M1559 674h0M1582 729h0M1565 665h0M1551 904h0M1516 656h0M1567 646h0M1590 784h0M1582 644h0M1559 726h0M1535 670h0M1528 727h0M1556 678h0M1594 676h0M1600 705h0M1510 663h0M1548 484h0M1536 625h0M1593 540h0M1519 470h0M1596 589h0M1521 520h0M1515 539h0M1565 589h0M1554 508h0M1533 522h0M1497 593h0M1557 611h0M1597 555h0M1520 530h0"/>
<path d="M242 302h0M303 310h0M291 299h0M296 283h0M323 328h0M295 312h0M313 697h0M350 592h0M328 628h0M273 648h0M264 602h0M303 643h0M300 625h0M276 711h0M303 592h0M285 598h0M334 678h0M364 389h0M347 509h0M248 574h0M359 505h0M334 417h0M303 486h0M289 371h0M259 450h0M301 434h0M255 469h0M255 379h0M267 446h0M303 350h0M311 394h0M283 486h0M344 461h0M324 537h0M259 509h0M275 463h0M345 552h0M356 357h0M296 450h0M244 365h0M332 428h0M264 388h0M268 407h0M363 585h0M291 455h0M340 480h0M317 494h0M341 514h0M273 388h0M290 564h0M270 526h0M310 562h0M280 565h0M255 573h0M297 810h0M495 337h0M525 359h0M528 327h0M498 319h0M509 807h0M491 663h0M514 666h0M589 679h0M489 618h0M526 766h0M588 630h0M609 686h0M549 659h0M529 628h0M548 701h0M526 652h0M500 618h0M528 529h0M524 515h0M491 400h0M599 537h0M561 547h0M579 519h0M537 413h0M535 405h0M590 468h0M555 588h0M599 523h0M504 470h0M495 389h0M538 458h0M513 505h0M548 383h0M537 473h0M580 487h0M490 430h0M579 575h0M578 517h0M565 423h0M513 585h0M489 552h0M532 562h0M529 485h0M598 546h0M533 463h0M555 539h0M838 432h0M814 403h0M793 398h0M818 475h0M800 450h0M750 432h0M796 436h0M743 370h0M772 468h0M744 410h0M805 444h0M819 770h0M742 819h0M767 672h0M856 725h0M801 773h0M847 678h0M847 782h0M741 496h0M782 666h0M737 564h0M764 491h0M737 525h0M757 637h0M857 480h0M815 629h0M803 551h0M759 647h0M838 484h0M817 572h0M745 590h0M833 523h0M764 527h0M740 558h0M824 480h0M816 599h0M774 604h0M777 528h0M840 538h0M850 590h0M794 534h0M1010 435h0M1104 360h0M999 367h0M1036 385h0M1044 337h0M1014 447h0M1039 314h0M1039 426h0M1049 325h0M1026 444h0M988 362h0M1059 358h0M1002 399h0M1068 333h0M1012 406h0M1034 684h0M987 606h0M1020 597h0M1035 649h0M1086 597h0M991 640h0M1066 689h0M1068 588h0M1046 576h0M997 714h0M1013 579h0M1055 592h0M1087 625h0M991 673h0M1087 689h0M1102 722h0M1054 650h0M992 465h0M1001 550h0M1021 501h0M1086 537h0M1020 486h0M1104 503h0M1047 507h0M1069 482h0M1009 550h0M1017 517h0M1038 477h0M1022 567h0M1026 464h0M984 482h0M1093 460h0M998 545h0M1103 467h0M1032 533h0M1083 559h0M991 507h0M1026 504h0M1312 437h0M1313 430h0M1345 310h0M1306 433h0M1345 379h0M1241 431h0M1309 312h0M1240 662h0M1250 691h0M1277 661h0M1263 753h0M1336 686h0M1285 786h0M1353 802h0M1339 675h0M1282 618h0M1295 692h0M1292 593h0M1279 700h0M1256 711h0M1308 622h0M1261 508h0M1324 494h0M1282 542h0M1238 583h0M1255 461h0M1354 511h0M1278 578h0M1345 451h0M1289 506h0M1327 507h0M1293 571h0M1295 529h0M1242 560h0M1233 481h0M1337 536h0M1242 879h0M1562 437h0M1487 340h0M1532 422h0M1508 446h0M1511 412h0M1556 370h0M1510 422h0M1529 402h0M1482 702h0M1571 722h0M1587 763h0M1495 683h0M1495 798h0M1598 739h0M1492 815h0M1579 690h0M1571 723h0M1522 855h0M1518 723h0M1564 793h0M1503 728h0M1553 635h0M1491 845h0M1592 654h0M1558 750h0M1511 732h0M1598 584h0M1573 570h0M1501 573h0M1563 586h0M1560 611h0M1556 489h0M1551 611h0M1503 462h0M1507 533h0M1565 617h0M1559 582h0M1554 478h0M1590 545h0M1556 489h0M1576 477h0M1517 502h0M1569 548h0M1588 553h0M1599 544h0M1581 947h0"/>
<path d="M330 327h0M337 319h0M338 284h0M241 297h0M337 332h0M256 331h0M352 614h0M346 607h0M277 679h0M314 655h0M289 625h0M314 634h0M245 593h0M345 615h0M306 700h0M292 705h0M247 729h0M301 598h0M326 615h0M330 596h0M321 425h0M309 507h0M341 491h0M274 575h0M292 521h0M336 569h0M324 390h0M248 496h0M251 557h0M320 339h0M245 344h0M260 360h0M348 512h0M349 578h0M300 407h0M360 415h0M342 504h0M278 555h0M349 353h0M286 531h0M264 537h0M290 385h0M303 475h0M320 459h0M294 579h0M309 491h0M311 432h0M358 582h0M291 350h0M282 407h0M303 540h0M267 380h0M293 493h0M315 233h0M535 327h0M596 373h0M527 370h0M562 655h0M564 621h0M523 700h0M513 652h0M545 641h0M600 679h0M546 674h0M602 640h0M498 562h0M553 447h0M507 406h0M510 578h0M515 425h0M550 483h0M600 486h0M576 588h0M587 385h0M609 398h0M592 398h0M548 574h0M560 447h0M520 541h0M491 529h0M516 432h0M554 486h0M531 496h0M546 438h0M542 395h0M536 600h0M835 424h0M852 447h0M737 442h0M830 356h0M737 472h0M770 453h0M793 428h0M833 400h0M738 391h0M825 729h0M802 747h0M817 757h0M814 691h0M777 784h0M779 678h0M771 738h0M771 722h0M798 713h0M759 653h0M824 618h0M838 492h0M736 627h0M778 508h0M858 666h0M812 567h0M851 598h0M801 614h0M772 615h0M857 649h0M835 570h0M743 497h0M738 598h0M832 499h0M797 561h0M806 571h0M851 591h0M742 627h0M808 509h0M813 530h0M1034 448h0M989 454h0M1011 394h0M1075 336h0M1090 423h0M1005 376h0M1096 429h0M1090 365h0M1056 305h0M1038 451h0M1012 450h0M1060 405h0M992 646h0M1005 600h0M1028 702h0M998 670h0M1031 690h0M1077 631h0M1040 603h0M1053 594h0M1069 588h0M1105 615h0M1043 657h0M997 578h0M1054 618h0M1029 618h0M1068 579h0M1087 717h0M1004 671h0M1097 649h0M1066 605h0M1090 657h0M1014 699h0M1006 652h0M999 460h0M1050 541h0M1035 541h0M1039 524h0M1080 566h0M1025 553h0M1085 564h0M1014 557h0M1032 465h0M992 534h0M1072 565h0M1101 553h0M988 496h0M1046 547h0M1268 428h0M1238 426h0M1276 436h0M1305 415h0M1277 333h0M1265 294h0M1253 413h0M1324 444h0M1277 328h0M1342 403h0M1275 423h0M1332 386h0M1323 358h0M1319 627h0M1312 692h0M1330 762h0M1302 802h0M1259 617h0M1325 817h0M1281 612h0M1308 645h0M1346 634h0M1247 861h0M1242 665h0M1325 665h0M1244 827h0M1266 766h0M1330 521h0M1335 516h0M1342 471h0M1248 565h0M1291 509h0M1264 478h0M1353 505h0M1256 554h0M1277 526h0M1241 591h0M1259 506h0M1291 574h0M1325 557h0M1256 518h0M1306 558h0M1286 460h0M1267 579h0M1255 537h0M1354 583h0M1350 578h0M1513 442h0M1601 381h0M1548 455h0M1493 450h0M1580 431h0M1574 415h0M1598 390h0M1573 445h0M1557 385h0M1535 436h0M1563 424h0M1547 749h0M1578 787h0M1484 658h0M1547 686h0M1575 780h0M1572 789h0M1561 750h0M1563 639h0M1503 720h0M1506 635h0M1511 690h0M1560 653h0M1570 673h0M1580 580h0M1510 517h0M1525 627h0M1490 501h0M1522 615h0M1517 580h0M1596 615h0M1565 590h0M1490 537h0M1566 524h0M1495 559h0M1566 629h0M1511 474h0M1551 534h0M1562 610h0M1591 571h0M1498 500h0M1536 499h0M1544 595h0M1486 495h0M1568 533h0M1481 524h0M1518 527h0M1486 501h0M1529 610h0M1514 548h0M1524 556h0M1541 479h0M1550 601h0"/>
<path d="M313 319h0M363 591h0M278 653h0M337 635h0M362 598h0M352 605h0M336 621h0M313 643h0M241 668h0M348 599h0M338 656h0M299 617h0M323 741h0M293 647h0M293 740h0M301 499h0M281 429h0M265 586h0M297 555h0M331 565h0M249 494h0M255 548h0M329 401h0M337 399h0M360 547h0M362 350h0M308 511h0M291 430h0M301 446h0M307 449h0M262 376h0M332 505h0M269 540h0M351 543h0M310 388h0M246 578h0M300 519h0M278 462h0M268 513h0M334 454h0M271 562h0M333 514h0M362 453h0M344 411h0M317 411h0M344 402h0M271 540h0M323 507h0M307 426h0M354 482h0M341 810h0M556 298h0M559 316h0M504 371h0M559 370h0M501 367h0M590 648h0M499 619h0M591 658h0M514 675h0M585 648h0M516 639h0M502 758h0M506 616h0M577 709h0M530 596h0M503 536h0M515 582h0M535 400h0M580 392h0M532 503h0M559 541h0M538 533h0M581 516h0M572 538h0M501 421h0M576 520h0M594 578h0M526 604h0M538 399h0M573 420h0M493 465h0M549 574h0M592 499h0M583 422h0M505 393h0M572 521h0M582 606h0M607 470h0M511 486h0M515 543h0M587 433h0M565 498h0M512 506h0M551 605h0M554 529h0M606 444h0M558 473h0M835 398h0M824 471h0M801 456h0M766 350h0M849 395h0M832 385h0M846 682h0M843 704h0M744 821h0M781 702h0M784 669h0M756 726h0M742 668h0M760 743h0M803 762h0M792 717h0M831 720h0M767 721h0M837 520h0M745 507h0M807 592h0M804 660h0M789 483h0M792 489h0M809 638h0M821 599h0M829 489h0M793 500h0M834 522h0M799 549h0M824 548h0M794 627h0M823 654h0M796 520h0M851 564h0M754 625h0M792 552h0M1106 418h0M1076 423h0M993 328h0M1030 396h0M1029 434h0M1092 403h0M1045 397h0M1089 334h0M1018 403h0M1035 383h0M1084 410h0M1062 437h0M1014 455h0M1053 587h0M1034 596h0M1061 726h0M1007 615h0M1105 580h0M1016 676h0M1065 603h0M1007 625h0M1099 740h0M1044 710h0M1066 713h0M994 712h0M1060 627h0M986 673h0M1083 609h0M1028 635h0M999 603h0M987 465h0M1084 489h0M1051 559h0M1091 465h0M1029 466h0M1069 464h0M1104 540h0M1058 504h0M1059 476h0M988 510h0M987 489h0M1030 518h0M1071 575h0M985 573h0M1343 441h0M1353 325h0M1289 443h0M1290 362h0M1240 400h0M1259 447h0M1312 385h0M1305 367h0M1318 696h0M1258 693h0M1245 680h0M1263 724h0M1353 665h0M1352 788h0M1342 671h0M1310 740h0M1341 727h0M1327 744h0M1258 835h0M1336 740h0M1319 692h0M1240 573h0M1255 453h0M1268 582h0M1238 569h0M1353 458h0M1270 481h0M1311 529h0M1351 591h0M1308 452h0M1324 910h0M1508 416h0M1580 446h0M1548 358h0M1526 364h0M1508 397h0M1555 426h0M1576 648h0M1601 671h0M1535 770h0M1502 639h0M1505 758h0M1509 776h0M1533 804h0M1551 809h0M1479 760h0M1582 649h0M1521 655h0M1482 752h0M1501 528h0M1491 616h0M1551 630h0M1577 486h0M1509 587h0M1502 494h0M1508 591h0M1489 490h0M1540 590h0M1523 622h0M1544 572h0M1591 542h0M1543 616h0M1560 597h0M1482 463h0M1535 577h0M1593 545h0M1532 563h0M1554 579h0M1556 501h0"/>
<path d="M263 298h0M265 328h0M354 337h0M360 323h0M350 609h0M274 597h0M284 728h0M339 657h0M270 722h0M279 696h0M295 599h0M257 618h0M302 683h0M332 736h0M293 611h0M357 649h0M312 607h0M282 674h0M283 604h0M258 582h0M331 471h0M312 452h0M346 442h0M340 475h0M258 481h0M315 494h0M305 531h0M305 542h0M352 560h0M311 360h0M353 378h0M361 528h0M327 394h0M349 438h0M356 390h0M260 489h0M295 502h0M324 471h0M317 445h0M251 514h0M310 391h0M273 435h0M248 486h0M310 453h0M297 487h0M310 500h0M285 457h0M242 346h0M335 484h0M353 371h0M357 556h0M262 471h0M575 339h0M576 375h0M579 342h0M596 379h0M538 346h0M497 341h0M586 332h0M502 647h0M573 659h0M531 728h0M599 742h0M498 687h0M513 636h0M563 624h0M525 729h0M524 649h0M514 386h0M508 414h0M576 403h0M581 604h0M493 494h0M509 443h0M540 386h0M597 380h0M489 593h0M581 500h0M535 574h0M521 420h0M557 492h0M586 424h0M574 414h0M572 446h0M492 426h0M500 476h0M611 425h0M506 451h0M592 462h0M567 474h0M594 520h0M609 588h0M572 455h0M757 432h0M766 450h0M793 368h0M850 426h0M759 418h0M779 454h0M779 411h0M807 441h0M742 411h0M857 717h0M786 688h0M785 680h0M754 704h0M816 716h0M811 760h0M827 745h0M855 682h0M789 496h0M756 488h0M747 665h0M770 603h0M738 579h0M786 483h0M825 565h0M764 570h0M795 621h0M855 511h0M773 530h0M741 539h0M818 550h0M837 547h0M828 613h0M752 586h0M855 513h0M844 663h0M839 619h0M836 570h0M827 638h0M837 593h0M1018 395h0M1069 383h0M1031 430h0M1001 410h0M1015 340h0M1036 436h0M1098 311h0M1039 356h0M1025 403h0M1061 586h0M1098 656h0M1088 623h0M1041 629h0M1033 598h0M1014 667h0M1054 650h0M1008 640h0M1078 791h0M1057 522h0M1077 537h0M988 494h0M1035 483h0M1071 531h0M1016 458h0M1058 569h0M1091 549h0M1101 488h0M1065 550h0M1040 566h0M1070 545h0M1032 475h0M991 521h0M1008 475h0M1043 556h0M1055 530h0M1092 473h0M1288 291h0M1250 437h0M1262 400h0M1255 429h0M1231 425h0M1268 344h0M1334 380h0M1311 399h0M1294 281h0M1255 653h0M1248 618h0M1262 797h0M1282 624h0M1264 639h0M1336 629h0M1242 648h0M1235 626h0M1253 636h0M1297 687h0M1302 736h0M1280 472h0M1241 591h0M1251 554h0M1312 493h0M1260 574h0M1322 527h0M1243 522h0M1325 525h0M1286 540h0M1245 474h0M1346 529h0M1311 490h0M1261 503h0M1334 557h0M1546 395h0M1523 381h0M1496 350h0M1578 398h0M1560 443h0M1600 388h0M1594 393h0M1556 397h0M1601 454h0M1583 794h0M1593 818h0M1583 695h0M1595 715h0M1478 671h0M1536 678h0M1506 678h0M1555 748h0M1594 641h0M1539 661h0M1601 870h0M1558 706h0M1551 631h0M1482 665h0M1592 514h0M1525 620h0M1483 529h0M1581 491h0M1513 606h0M1533 497h0M1488 614h0M1574 591h0M1484 614h0M1479 594h0M1594 584h0M1537 469h0M1529 587h0M1540 531h0M1510 603h0M1573 489h0M1487 535h0M1515 630h0M1549 496h0M1478 590h0M1545 518h0M1541 479h0M1495 465h0M1519 512h0M1571 311h0M1515 344h0"/>
<path d="M251 334h0M290 594h0M343 650h0M252 599h0M323 730h0M317 649h0M264 692h0M249 643h0M339 734h0M272 740h0M280 659h0M334 705h0M271 506h0M318 398h0M274 491h0M257 550h0M262 552h0M337 445h0M276 374h0M338 560h0M290 412h0M277 356h0M266 515h0M325 442h0M335 538h0M355 539h0M315 339h0M275 398h0M357 538h0M248 439h0M271 344h0M560 295h0M592 368h0M494 334h0M504 750h0M554 691h0M590 728h0M557 694h0M568 629h0M503 727h0M519 669h0M581 639h0M574 504h0M610 476h0M510 517h0M549 479h0M499 430h0M541 568h0M579 537h0M568 402h0M599 548h0M585 405h0M512 421h0M523 504h0M595 453h0M517 411h0M580 444h0M533 464h0M603 543h0M591 441h0M507 405h0M493 569h0M609 449h0M528 475h0M568 489h0M556 546h0M597 410h0M568 508h0M578 581h0M515 577h0M579 571h0M501 549h0M535 499h0M520 552h0M549 592h0M588 399h0M804 356h0M784 472h0M771 361h0M784 410h0M810 469h0M790 471h0M743 407h0M796 465h0M808 254h0M842 453h0M800 352h0M768 455h0M761 677h0M776 676h0M850 713h0M840 668h0M841 840h0M782 745h0M802 779h0M742 700h0M804 736h0M760 785h0M799 692h0M796 752h0M778 669h0M822 697h0M790 762h0M797 541h0M779 646h0M820 546h0M842 610h0M818 660h0M800 606h0M746 479h0M805 545h0M785 523h0M786 505h0M843 622h0M803 509h0M844 591h0M817 616h0M843 524h0M804 600h0M743 535h0M822 602h0M775 579h0M819 652h0M786 658h0M852 659h0M830 655h0M836 582h0M759 629h0M830 594h0M1062 397h0M1106 343h0M1068 405h0M1032 422h0M1032 441h0M1045 265h0M1059 407h0M1018 341h0M1105 431h0M1061 428h0M1011 597h0M1036 635h0M1040 692h0M1041 608h0M1048 590h0M1064 627h0M1042 585h0M1086 579h0M1031 653h0M1039 618h0M1066 704h0M1088 714h0M986 746h0M1075 722h0M1013 599h0M986 578h0M1002 507h0M1088 539h0M1046 543h0M1013 560h0M1077 513h0M1027 478h0M1071 488h0M1012 570h0M1031 523h0M1061 522h0M1074 499h0M1249 439h0M1280 423h0M1337 310h0M1296 275h0M1351 419h0M1292 419h0M1335 431h0M1250 351h0M1254 436h0M1322 303h0M1234 410h0M1327 335h0M1300 379h0M1320 380h0M1261 404h0M1282 316h0M1313 423h0M1295 302h0M1306 426h0M1283 768h0M1321 710h0M1315 699h0M1243 717h0M1268 723h0M1348 636h0M1289 677h0M1328 648h0M1250 657h0M1281 647h0M1350 710h0M1344 580h0M1340 476h0M1353 467h0M1300 555h0M1281 461h0M1307 559h0M1321 511h0M1319 460h0M1307 493h0M1274 541h0M1342 510h0M1249 509h0M1352 552h0M1283 532h0M1240 452h0M1348 481h0M1508 375h0M1512 430h0M1590 364h0M1509 438h0M1584 314h0M1546 453h0M1525 429h0M1528 411h0M1591 697h0M1581 646h0M1575 682h0M1563 710h0M1520 695h0M1581 682h0M1601 661h0M1525 771h0M1558 728h0M1572 676h0M1595 680h0M1483 635h0M1594 670h0M1600 645h0M1494 712h0M1565 677h0M1501 729h0M1535 651h0M1516 548h0M1559 605h0M1587 490h0M1585 481h0M1485 478h0M1546 472h0M1540 597h0M1541 603h0M1501 544h0M1574 543h0M1553 586h0M1504 511h0M1525 572h0M1560 574h0M1564 575h0M1510 606h0M1495 505h0M1593 607h0M1501 300h0"/>
<path d="M327 332h0M289 333h0M269 319h0M343 324h0M297 293h0M284 338h0M246 592h0M316 690h0M250 644h0M241 613h0M357 728h0M336 615h0M347 616h0M325 609h0M272 684h0M347 666h0M309 619h0M255 603h0M301 684h0M346 673h0M282 538h0M294 580h0M363 399h0M316 389h0M341 540h0M308 395h0M339 488h0M346 583h0M290 421h0M358 572h0M261 421h0M299 523h0M289 484h0M303 382h0M242 425h0M260 373h0M325 486h0M327 466h0M343 440h0M506 324h0M555 365h0M521 297h0M533 357h0M507 644h0M584 699h0M539 624h0M509 525h0M590 421h0M560 396h0M573 483h0M508 415h0M547 461h0M572 435h0M605 529h0M555 517h0M515 541h0M506 573h0M567 544h0M557 494h0M544 602h0M586 415h0M500 543h0M546 551h0M593 385h0M575 585h0M562 553h0M608 464h0M510 466h0M540 506h0M581 402h0M580 481h0M583 456h0M503 590h0M607 415h0M591 562h0M575 493h0M548 521h0M825 359h0M773 400h0M835 336h0M799 465h0M754 435h0M760 461h0M820 428h0M788 458h0M823 420h0M736 454h0M829 367h0M836 693h0M845 714h0M814 719h0M831 819h0M781 680h0M788 707h0M769 738h0M787 671h0M836 711h0M839 696h0M753 641h0M782 559h0M797 480h0M816 533h0M735 608h0M828 512h0M763 554h0M782 540h0M808 525h0M776 608h0M773 493h0M772 553h0M793 487h0M813 665h0M809 497h0M854 517h0M837 599h0M1078 425h0M1031 414h0M1023 406h0M1028 329h0M994 430h0M986 681h0M1049 603h0M1085 688h0M1033 678h0M1010 653h0M989 617h0M1079 677h0M1029 617h0M1071 835h0M1049 698h0M1106 670h0M1002 683h0M1087 682h0M990 646h0M1106 617h0M1047 585h0M1069 488h0M1025 502h0M1040 479h0M1067 575h0M1070 574h0M1101 501h0M1019 501h0M1087 532h0M1059 562h0M1059 481h0M1040 499h0M1017 548h0M1083 562h0M1102 491h0M1337 314h0M1330 398h0M1240 403h0M1313 348h0M1348 417h0M1316 401h0M1298 618h0M1295 713h0M1281 733h0M1270 668h0M1270 628h0M1253 633h0M1271 700h0M1281 647h0M1321 750h0M1235 628h0M1248 596h0M1281 695h0M1325 662h0M1282 726h0M1235 581h0M1242 569h0M1263 533h0M1300 582h0M1344 549h0M1273 535h0M1327 521h0M1260 540h0M1265 478h0M1311 573h0M1315 571h0M1332 481h0M1285 564h0M1243 593h0M1336 505h0M1243 552h0M1291 473h0M1348 519h0M1354 538h0M1335 882h0M1600 426h0M1508 460h0M1571 440h0M1567 349h0M1534 452h0M1585 457h0M1533 345h0M1575 678h0M1564 692h0M1483 762h0M1565 864h0M1554 703h0M1516 755h0M1509 842h0M1530 700h0M1487 732h0M1525 667h0M1589 564h0M1599 605h0M1558 585h0M1546 480h0M1570 567h0M1589 602h0M1482 597h0M1491 520h0M1500 495h0M1483 541h0M1592 519h0M1508 592h0M1510 487h0M1523 555h0M1503 571h0M1581 486h0M1590 557h0M1578 590h0M1498 574h0M1541 480h0"/>
<path d="M279 272h0M328 605h0M271 600h0M329 631h0M292 632h0M289 621h0M320 588h0M286 610h0M298 612h0M248 669h0M305 534h0M246 482h0M311 464h0M269 366h0M281 374h0M339 340h0M292 445h0M261 350h0M257 441h0M295 422h0M262 375h0M298 444h0M274 349h0M267 510h0M341 380h0M294 408h0M270 479h0M264 582h0M298 423h0M357 378h0M273 578h0M264 518h0M362 584h0M274 412h0M314 366h0M240 459h0M334 526h0M572 364h0M527 346h0M504 347h0M545 630h0M577 645h0M519 652h0M548 654h0M505 661h0M585 628h0M496 636h0M525 623h0M545 730h0M498 674h0M608 623h0M492 666h0M533 610h0M499 433h0M489 421h0M567 435h0M565 505h0M512 385h0M520 565h0M558 407h0M550 592h0M546 419h0M594 556h0M492 413h0M591 476h0M502 607h0M559 397h0M541 560h0M598 464h0M597 518h0M545 474h0M560 592h0M611 554h0M502 599h0M546 560h0M538 554h0M841 416h0M823 424h0M808 364h0M816 430h0M776 458h0M747 405h0M842 373h0M803 405h0M739 387h0M838 388h0M808 459h0M851 710h0M763 684h0M744 745h0M829 709h0M765 680h0M770 698h0M737 730h0M836 737h0M821 795h0M810 672h0M805 728h0M841 629h0M793 652h0M848 607h0M798 545h0M735 576h0M738 486h0M741 483h0M757 532h0M848 543h0M850 664h0M742 649h0M840 637h0M782 572h0M845 551h0M808 535h0M755 607h0M774 635h0M752 593h0M791 610h0M810 620h0M835 516h0M736 619h0M747 511h0M812 614h0M821 551h0M796 578h0M814 576h0M746 597h0M813 664h0M786 556h0M852 538h0M797 934h0M1102 409h0M985 348h0M1073 275h0M1015 442h0M1088 395h0M1098 404h0M999 329h0M1073 338h0M1098 438h0M1077 434h0M1034 446h0M1016 335h0M988 351h0M1100 411h0M1079 438h0M1038 592h0M1053 588h0M1053 605h0M1043 684h0M1005 632h0M1074 583h0M1025 696h0M1034 622h0M1102 626h0M1063 613h0M1057 740h0M1057 635h0M1062 532h0M1002 506h0M1004 507h0M1015 564h0M1064 458h0M1021 536h0M1043 507h0M1052 459h0M1106 502h0M987 465h0M1031 530h0M1072 471h0M1031 550h0M1015 481h0M1056 570h0M988 460h0M1053 572h0M1313 295h0M1352 399h0M1323 419h0M1283 392h0M1281 446h0M1307 361h0M1252 695h0M1345 856h0M1346 658h0M1290 616h0M1278 704h0M1240 600h0M1337 597h0M1312 599h0M1252 648h0M1325 602h0M1300 683h0M1245 695h0M1242 618h0M1260 485h0M1316 501h0M1346 525h0M1283 487h0M1294 532h0M1259 560h0M1339 539h0M1290 501h0M1290 487h0M1313 451h0M1299 516h0M1251 545h0M1295 452h0M1241 467h0M1240 459h0M1307 490h0M1599 458h0M1495 425h0M1513 424h0M1552 393h0M1481 349h0M1572 434h0M1592 421h0M1505 406h0M1559 434h0M1481 428h0M1565 456h0M1560 421h0M1590 457h0M1556 441h0M1537 352h0M1514 836h0M1554 735h0M1578 868h0M1601 716h0M1584 655h0M1500 774h0M1502 638h0M1554 810h0M1523 675h0M1535 697h0M1527 832h0M1596 663h0M1592 715h0M1545 747h0M1523 679h0M1538 841h0M1498 715h0M1561 660h0M1571 710h0M1547 760h0M1594 708h0M1521 667h0M1503 508h0M1581 538h0M1581 585h0M1488 515h0M1579 547h0M1532 615h0M1503 557h0M1560 534h0M1549 580h0M1490 521h0M1498 517h0M1521 513h0M1549 567h0M1545 500h0M1516 548h0M1601 615h0M1594 573h0M1499 524h0M1567 494h0M1490 490h0M1597 335h0"/>
<path d="M287 317h0M360 324h0M248 316h0M257 318h0M244 302h0M331 629h0M243 653h0M360 623h0M329 668h0M250 665h0M327 598h0M262 624h0M245 594h0M334 742h0M297 430h0M299 348h0M286 456h0M318 461h0M257 512h0M339 348h0M287 457h0M255 437h0M310 424h0M362 474h0M305 355h0M329 373h0M291 535h0M277 397h0M266 529h0M260 526h0M269 527h0M286 433h0M348 342h0M337 349h0M306 514h0M274 535h0M320 343h0M329 584h0M271 554h0M342 478h0M270 401h0M314 533h0M266 461h0M335 432h0M247 241h0M609 272h0M556 355h0M528 340h0M495 334h0M549 347h0M543 332h0M538 375h0M589 636h0M491 724h0M544 626h0M555 630h0M502 681h0M505 660h0M533 614h0M515 698h0M594 706h0M551 767h0M593 672h0M502 645h0M543 735h0M494 704h0M508 696h0M548 583h0M535 412h0M584 581h0M577 562h0M493 505h0M606 403h0M597 405h0M493 407h0M514 459h0M501 524h0M573 589h0M577 580h0M533 590h0M511 594h0M491 525h0M600 596h0M535 500h0M575 460h0M536 563h0M516 422h0M565 563h0M552 393h0M542 426h0M552 544h0M578 587h0M530 386h0M546 579h0M547 544h0M542 587h0M752 455h0M791 389h0M770 475h0M852 453h0M793 456h0M829 434h0M748 356h0M741 396h0M846 469h0M809 457h0M801 738h0M850 765h0M764 712h0M845 779h0M839 816h0M841 711h0M808 747h0M750 811h0M783 667h0M831 544h0M813 597h0M799 656h0M792 666h0M834 544h0M814 546h0M791 641h0M783 655h0M765 640h0M792 621h0M775 614h0M805 632h0M780 526h0M744 665h0M817 573h0M752 612h0M761 640h0M762 612h0M837 592h0M845 648h0M740 598h0M817 506h0M825 629h0M1048 405h0M1053 439h0M1061 406h0M1033 452h0M990 361h0M1007 426h0M1080 451h0M1034 446h0M1091 404h0M1010 411h0M1071 376h0M1023 338h0M1064 314h0M984 425h0M1061 387h0M1031 309h0M1106 387h0M1088 745h0M984 765h0M1083 641h0M1104 653h0M1058 698h0M1041 591h0M999 660h0M1098 598h0M1090 603h0M995 717h0M1040 634h0M1018 681h0M1077 682h0M989 716h0M998 618h0M1059 761h0M997 522h0M1021 546h0M1075 536h0M998 462h0M1006 550h0M1025 475h0M1089 503h0M1098 496h0M1036 570h0M1032 482h0M1008 562h0M1065 547h0M1106 497h0M1036 484h0M1065 525h0M1278 384h0M1257 397h0M1246 356h0M1276 416h0M1270 376h0M1232 421h0M1267 383h0M1353 417h0M1315 391h0M1292 379h0M1334 673h0M1332 608h0M1257 596h0M1294 597h0M1283 669h0M1295 626h0M1289 813h0M1275 638h0M1271 701h0M1261 712h0M1264 610h0M1305 730h0M1235 623h0M1338 697h0M1295 679h0M1277 745h0M1316 671h0M1350 605h0M1295 522h0M1336 558h0M1257 451h0M1341 535h0M1278 547h0M1351 573h0M1276 497h0M1252 537h0M1306 584h0M1347 485h0M1334 593h0M1351 533h0M1323 531h0M1292 592h0M1325 566h0M1277 529h0M1325 473h0M1324 529h0M1301 516h0M1524 457h0M1523 345h0M1528 441h0M1524 427h0M1594 303h0M1499 746h0M1531 697h0M1506 865h0M1500 657h0M1543 681h0M1535 650h0M1507 651h0M1540 866h0M1500 693h0M1582 681h0M1528 782h0M1513 802h0M1576 804h0M1601 758h0M1499 795h0M1486 680h0M1485 865h0M1515 487h0M1581 490h0M1510 527h0M1526 584h0M1534 570h0M1551 497h0M1521 508h0M1542 618h0"/>
<path d="M320 317h0M283 269h0M306 309h0M297 335h0M341 726h0M299 714h0M255 591h0M289 642h0M306 635h0M269 607h0M344 615h0M344 655h0M330 624h0M309 385h0M254 504h0M295 569h0M354 410h0M252 584h0M353 444h0M297 347h0M356 374h0M337 461h0M257 465h0M246 438h0M320 343h0M250 396h0M297 458h0M343 456h0M289 580h0M361 554h0M269 555h0M295 372h0M330 431h0M315 476h0M326 437h0M301 403h0M244 511h0M347 558h0M604 317h0M494 329h0M558 306h0M546 668h0M580 653h0M611 631h0M498 632h0M533 619h0M511 679h0M603 653h0M610 727h0M540 664h0M502 636h0M606 668h0M605 619h0M542 444h0M609 560h0M520 506h0M524 594h0M523 475h0M570 574h0M493 518h0M547 537h0M597 463h0M489 408h0M577 499h0M584 422h0M591 460h0M556 441h0M496 449h0M513 404h0M540 511h0M553 571h0M809 430h0M763 440h0M768 327h0M846 450h0M846 454h0M816 391h0M847 476h0M787 408h0M806 378h0M829 435h0M757 414h0M790 430h0M821 668h0M813 695h0M761 746h0M846 771h0M741 765h0M840 689h0M741 812h0M834 685h0M855 734h0M838 714h0M788 615h0M818 566h0M795 617h0M736 572h0M850 583h0M768 571h0M857 478h0M811 615h0M792 522h0M780 616h0M852 517h0M767 486h0M818 566h0M781 653h0M810 559h0M788 631h0M817 533h0M838 581h0M757 567h0M791 572h0M757 481h0M1017 425h0M1090 394h0M1013 424h0M1063 394h0M1042 453h0M1005 367h0M1026 351h0M1056 413h0M1069 378h0M1017 382h0M1051 352h0M1067 374h0M1093 377h0M1031 310h0M1006 635h0M1072 613h0M1050 724h0M1055 685h0M1050 620h0M1011 618h0M1046 632h0M1041 641h0M988 656h0M1012 658h0M1075 564h0M1037 512h0M1076 534h0M1077 543h0M1005 553h0M1024 568h0M1096 478h0M1059 549h0M1058 554h0M1091 554h0M1260 402h0M1275 419h0M1345 300h0M1320 439h0M1261 388h0M1341 397h0M1252 630h0M1267 824h0M1271 727h0M1316 646h0M1265 654h0M1259 649h0M1284 603h0M1339 647h0M1276 687h0M1245 655h0M1268 776h0M1312 771h0M1303 623h0M1305 528h0M1272 574h0M1347 518h0M1260 450h0M1322 592h0M1327 569h0M1249 518h0M1340 516h0M1334 593h0M1294 513h0M1301 582h0M1345 510h0M1287 573h0M1254 471h0M1326 575h0M1284 589h0M1284 525h0M1231 499h0M1307 492h0M1251 478h0M1282 460h0M1325 465h0M1499 442h0M1540 451h0M1600 406h0M1519 345h0M1564 407h0M1538 401h0M1542 842h0M1517 764h0M1520 868h0M1596 699h0M1509 760h0M1598 722h0M1523 723h0M1554 726h0M1591 729h0M1531 672h0M1525 865h0M1532 728h0M1494 650h0M1541 657h0M1505 768h0M1505 778h0M1562 720h0M1500 680h0M1504 731h0M1512 758h0M1497 723h0M1506 698h0M1599 476h0M1499 590h0M1504 622h0M1552 523h0M1534 506h0M1565 594h0M1560 501h0M1593 559h0M1504 519h0M1502 543h0M1499 616h0M1595 507h0M1586 486h0M1575 468h0"/>
<path d="M317 290h0M256 318h0M273 643h0M354 666h0M360 599h0M285 782h0M253 594h0M296 761h0M338 615h0M245 589h0M364 600h0M240 703h0M240 593h0M288 632h0M294 757h0M351 592h0M318 744h0M312 671h0M276 595h0M293 595h0M363 381h0M252 572h0M341 469h0M258 540h0M270 493h0M353 525h0M302 492h0M266 443h0M300 416h0M348 356h0M295 408h0M299 412h0M352 555h0M286 418h0M298 451h0M285 519h0M288 476h0M275 521h0M261 504h0M283 587h0M278 488h0M265 472h0M269 566h0M312 484h0M247 384h0M347 342h0M302 445h0M300 515h0M320 491h0M301 567h0M336 534h0M260 343h0M602 371h0M563 355h0M505 361h0M595 317h0M495 342h0M507 346h0M543 630h0M489 815h0M497 715h0M553 621h0M602 665h0M564 644h0M565 691h0M490 702h0M600 614h0M535 667h0M598 678h0M561 737h0M575 630h0M599 665h0M592 641h0M505 619h0M611 586h0M537 472h0M601 550h0M552 506h0M551 427h0M540 525h0M591 579h0M561 469h0M596 498h0M536 424h0M499 473h0M607 547h0M548 547h0M571 471h0M520 591h0M580 421h0M565 456h0M556 594h0M515 471h0M594 573h0M547 408h0M610 431h0M535 392h0M590 414h0M510 422h0M570 469h0M539 466h0M571 438h0M564 600h0M767 387h0M757 382h0M815 293h0M762 433h0M769 300h0M793 403h0M808 473h0M786 340h0M811 414h0M854 689h0M787 765h0M856 670h0M857 757h0M787 740h0M796 877h0M738 673h0M754 748h0M740 742h0M826 675h0M773 749h0M774 804h0M765 809h0M756 791h0M791 633h0M780 553h0M809 478h0M763 555h0M763 499h0M742 488h0M754 601h0M738 568h0M811 545h0M787 552h0M771 628h0M802 533h0M790 495h0M770 615h0M793 607h0M817 650h0M770 603h0M772 526h0M827 562h0M817 666h0M820 592h0M777 602h0M1042 402h0M993 325h0M1069 452h0M1005 413h0M1011 396h0M1060 333h0M984 356h0M1104 312h0M1008 446h0M993 435h0M1022 435h0M1093 378h0M1095 650h0M1103 695h0M1055 667h0M1000 757h0M1076 587h0M1058 579h0M1097 690h0M1012 745h0M992 677h0M1083 735h0M1087 695h0M1017 510h0M983 465h0M1055 476h0M1009 496h0M1039 538h0M1060 528h0M1093 571h0M1032 569h0M1034 494h0M1079 568h0M1085 551h0M998 552h0M1027 498h0M1008 539h0M1006 550h0M1250 375h0M1292 376h0M1286 386h0M1342 291h0M1280 359h0M1279 424h0M1329 436h0M1276 324h0M1299 441h0M1271 436h0M1296 358h0M1305 688h0M1251 655h0M1339 658h0M1320 741h0M1312 695h0M1354 678h0M1254 707h0M1275 702h0M1304 680h0M1254 610h0M1339 627h0M1330 553h0M1286 554h0M1349 555h0M1295 572h0M1330 528h0M1249 518h0M1353 457h0M1303 556h0M1307 528h0M1240 524h0M1298 465h0M1256 527h0M1283 515h0M1344 526h0M1490 403h0M1575 368h0M1502 441h0M1558 430h0M1487 423h0M1496 456h0M1514 447h0M1546 361h0M1585 414h0M1556 452h0M1524 386h0M1581 688h0M1528 698h0M1490 788h0M1499 741h0M1553 687h0M1597 657h0M1505 671h0M1526 661h0M1530 714h0M1572 649h0M1599 842h0M1562 779h0M1485 704h0M1495 704h0M1531 672h0M1500 825h0M1491 654h0M1483 748h0M1542 581h0M1533 461h0M1525 460h0M1507 546h0M1513 479h0M1519 541h0M1585 477h0M1557 485h0M1559 535h0M1506 609h0M1579 544h0M1580 573h0M1525 527h0M1520 531h0M1536 461h0M1493 515h0M1597 611h0M1532 609h0M1482 629h0M1488 615h0M1545 588h0"/>
<path d="M265 313h0M259 336h0M316 324h0M249 337h0M305 331h0M330 305h0M271 623h0M339 592h0M306 686h0M304 595h0M317 729h0M287 735h0M347 644h0M247 657h0M303 651h0M362 393h0M257 386h0M345 482h0M329 572h0M326 464h0M314 507h0M319 389h0M262 432h0M332 479h0M336 431h0M307 496h0M256 482h0M308 546h0M332 477h0M310 493h0M348 521h0M321 399h0M264 386h0M259 580h0M296 575h0M271 459h0M242 370h0M285 263h0M603 366h0M528 335h0M494 341h0M611 359h0M502 692h0M489 615h0M585 728h0M584 685h0M517 712h0M501 756h0M488 663h0M491 677h0M564 610h0M494 653h0M572 625h0M567 489h0M536 465h0M534 597h0M544 542h0M559 554h0M601 382h0M522 395h0M526 461h0M575 415h0M521 479h0M609 443h0M493 550h0M557 574h0M499 447h0M529 409h0M601 413h0M564 510h0M563 483h0M541 498h0M567 539h0M488 391h0M592 581h0M529 394h0M568 517h0M607 428h0M537 384h0M796 458h0M828 329h0M845 463h0M742 445h0M819 467h0M785 424h0M820 424h0M776 422h0M735 458h0M814 333h0M818 441h0M774 306h0M753 445h0M810 744h0M808 682h0M833 702h0M794 742h0M795 719h0M775 746h0M746 697h0M793 665h0M846 579h0M846 481h0M811 533h0M801 554h0M806 617h0M791 557h0M853 635h0M756 478h0M821 556h0M824 504h0M853 663h0M799 506h0M775 600h0M735 497h0M784 649h0M754 498h0M834 480h0M849 615h0M818 597h0M778 537h0M827 653h0M984 380h0M1013 361h0M984 406h0M1001 408h0M1048 330h0M1001 437h0M1094 292h0M1032 412h0M1080 454h0M1020 453h0M999 424h0M1103 323h0M998 421h0M1088 346h0M998 645h0M1095 717h0M1051 589h0M1019 583h0M1076 592h0M1091 613h0M1039 634h0M1032 651h0M1048 721h0M1093 657h0M1010 634h0M1031 691h0M1077 809h0M990 581h0M990 767h0M1099 599h0M1011 470h0M1057 501h0M989 530h0M1091 478h0M1044 546h0M1102 501h0M1057 561h0M1073 569h0M1105 508h0M1021 525h0M994 528h0M1045 560h0M1098 552h0M1007 475h0M1101 530h0M1022 555h0M1255 369h0M1252 434h0M1296 389h0M1267 401h0M1315 442h0M1305 384h0M1251 643h0M1270 705h0M1277 669h0M1330 614h0M1247 666h0M1307 810h0M1329 600h0M1281 622h0M1326 683h0M1245 599h0M1244 640h0M1340 743h0M1341 449h0M1256 477h0M1335 486h0M1294 533h0M1318 466h0M1289 555h0M1265 563h0M1314 528h0M1281 541h0M1292 574h0M1312 473h0M1351 590h0M1259 540h0M1310 522h0M1348 527h0M1331 536h0M1268 539h0M1328 524h0M1234 584h0M1312 544h0M1321 514h0M1277 481h0M1336 458h0M1501 454h0M1505 443h0M1497 449h0M1549 413h0M1560 440h0M1512 450h0M1526 347h0M1485 387h0M1530 636h0M1525 653h0M1515 668h0M1496 708h0M1495 858h0M1534 706h0M1541 713h0M1550 881h0M1540 739h0M1592 763h0M1594 650h0M1505 726h0M1548 683h0M1516 631h0M1514 810h0M1496 643h0M1515 636h0M1536 725h0M1507 720h0M1533 668h0M1579 613h0M1516 573h0M1492 499h0M1528 617h0M1533 461h0M1514 491h0M1601 587h0M1529 494h0M1537 549h0M1508 604h0M1588 593h0M1561 612h0M1591 564h0M1537 584h0M1553 591h0M1506 619h0M1559 535h0M1559 466h0M1547 585h0M1483 626h0M1562 501h0M1486 482h0M1576 462h0M1577 279h0M1527 327h0"/>
<path d="M242 319h0M353 316h0M275 334h0M244 322h0M321 686h0M305 598h0M265 632h0M301 717h0M303 668h0M303 656h0M288 688h0M323 730h0M320 707h0M323 658h0M242 607h0M244 628h0M328 592h0M306 568h0M298 345h0M286 473h0M271 360h0M275 546h0M280 395h0M325 470h0M351 443h0M324 565h0M321 347h0M339 421h0M307 385h0M314 345h0M271 361h0M308 558h0M275 560h0M272 487h0M272 366h0M259 397h0M313 537h0M311 409h0M269 479h0M350 440h0M300 367h0M340 539h0M321 405h0M252 518h0M584 329h0M500 343h0M553 373h0M607 367h0M554 327h0M533 373h0M528 359h0M488 695h0M546 642h0M552 615h0M570 640h0M584 616h0M568 636h0M497 640h0M493 617h0M593 628h0M557 668h0M606 766h0M491 619h0M501 627h0M534 457h0M523 379h0M512 420h0M594 407h0M542 501h0M596 544h0M599 551h0M546 396h0M505 386h0M536 527h0M522 473h0M531 591h0M566 581h0M531 488h0M543 400h0M531 572h0M594 404h0M494 386h0M555 512h0M495 590h0M591 526h0M513 470h0M516 550h0M571 427h0M548 493h0M515 599h0M564 402h0M827 476h0M802 419h0M830 467h0M739 354h0M788 456h0M842 421h0M754 320h0M841 475h0M856 360h0M805 431h0M858 463h0M748 720h0M846 783h0M804 710h0M759 676h0M826 766h0M798 817h0M859 673h0M736 703h0M777 725h0M852 746h0M745 754h0M854 786h0M840 710h0M794 851h0M746 659h0M850 515h0M842 654h0M761 544h0M756 500h0M838 578h0M859 599h0M779 578h0M754 549h0M800 571h0M822 560h0M830 591h0M764 601h0M758 612h0M828 610h0M769 541h0M746 573h0M831 604h0M783 606h0M781 665h0M841 531h0M826 635h0M825 634h0M853 535h0M1048 457h0M1088 342h0M986 397h0M1037 380h0M1089 410h0M994 310h0M1099 363h0M1016 418h0M999 368h0M1030 410h0M1083 390h0M1055 418h0M1095 733h0M1033 579h0M1073 681h0M984 695h0M1101 700h0M1019 585h0M1083 714h0M997 606h0M1084 672h0M1092 760h0M1076 615h0M1085 682h0M1033 748h0M1105 578h0M988 625h0M1082 660h0M1091 627h0M1007 577h0M1078 723h0M1074 648h0M1018 595h0M1022 571h0M993 567h0M984 536h0M1079 458h0M1024 564h0M999 478h0M1076 475h0M1087 556h0M1012 548h0M1057 505h0M1017 521h0M992 509h0M1088 563h0M1046 469h0M1077 505h0M1015 523h0M1102 537h0M1298 305h0M1267 424h0M1296 433h0M1230 435h0M1297 399h0M1337 422h0M1296 391h0M1353 325h0M1245 446h0M1288 352h0M1316 390h0M1305 351h0M1338 661h0M1268 742h0M1347 624h0M1327 802h0M1309 781h0M1250 619h0M1344 623h0M1289 699h0M1317 687h0M1345 620h0M1279 627h0M1231 653h0M1308 647h0M1278 639h0M1292 732h0M1354 603h0M1349 458h0M1340 477h0M1334 552h0M1237 488h0M1303 525h0M1274 476h0M1260 555h0M1327 592h0M1302 528h0M1242 498h0M1323 582h0M1328 483h0M1246 590h0M1350 534h0M1317 552h0M1255 563h0M1267 548h0M1310 535h0M1353 474h0M1312 485h0M1563 349h0M1499 421h0M1506 451h0M1501 323h0M1596 408h0M1556 273h0M1506 744h0M1520 687h0M1490 802h0M1596 752h0M1493 807h0M1579 748h0M1549 724h0M1499 803h0M1490 731h0M1512 718h0M1559 634h0M1518 736h0M1511 675h0M1518 690h0M1585 740h0M1559 768h0M1509 485h0M1589 548h0M1538 497h0M1491 543h0M1486 513h0M1596 556h0M1578 551h0M1559 565h0M1545 495h0M1479 621h0M1520 587h0M1598 502h0M1517 603h0M1528 484h0M1561 518h0M1489 534h0M1598 592h0M1550 544h0M1527 587h0M1486 468h0M1482 573h0M1561 475h0M1519 603h0"/>
<path d="M358 263h0M242 338h0M363 324h0M348 274h0M338 646h0M245 709h0M316 630h0M245 604h0M250 672h0M243 601h0M255 708h0M348 622h0M347 599h0M285 688h0M281 651h0M306 628h0M311 522h0M328 451h0M255 472h0M361 412h0M321 499h0M342 375h0M361 394h0M291 373h0M306 523h0M345 462h0M341 386h0M305 351h0M330 354h0M293 537h0M293 478h0M286 534h0M335 565h0M247 478h0M243 514h0M263 380h0M352 463h0M280 343h0M302 542h0M245 583h0M273 399h0M302 523h0M338 413h0M344 485h0M255 508h0M314 484h0M506 309h0M562 364h0M514 292h0M572 331h0M547 226h0M547 711h0M503 695h0M503 657h0M537 676h0M595 680h0M499 637h0M489 642h0M503 631h0M542 635h0M583 426h0M578 494h0M572 580h0M546 425h0M561 505h0M566 578h0M610 550h0M529 422h0M607 399h0M516 582h0M609 523h0M517 423h0M532 452h0M516 467h0M605 463h0M524 580h0M511 446h0M513 397h0M595 560h0M592 487h0M563 582h0M493 457h0M607 454h0M601 458h0M600 411h0M579 517h0M492 496h0M528 572h0M824 338h0M749 390h0M769 466h0M808 426h0M812 438h0M750 429h0M785 340h0M833 370h0M807 452h0M753 707h0M783 801h0M792 766h0M789 780h0M805 736h0M770 717h0M768 721h0M833 670h0M737 785h0M742 826h0M856 604h0M788 504h0M813 517h0M777 547h0M795 544h0M796 564h0M739 636h0M813 482h0M738 557h0M769 553h0M780 491h0M748 518h0M851 522h0M848 620h0M757 626h0M787 508h0M825 651h0M797 640h0M857 505h0M753 501h0M765 618h0M840 659h0M829 562h0M1090 424h0M1046 370h0M1087 352h0M1092 338h0M990 457h0M1057 426h0M1045 439h0M1100 323h0M1028 357h0M1085 374h0M1082 438h0M1068 445h0M1045 456h0M1025 354h0M1060 592h0M1030 641h0M1080 642h0M1010 796h0M1071 586h0M1049 704h0M1060 621h0M1063 662h0M995 726h0M1062 587h0M1007 613h0M1070 596h0M1063 712h0M1046 592h0M1099 600h0M1012 480h0M1031 501h0M986 493h0M1037 539h0M1047 501h0M1051 476h0M1074 541h0M1032 574h0M1094 492h0M1316 386h0M1311 443h0M1235 448h0M1295 364h0M1258 428h0M1344 444h0M1323 359h0M1352 303h0M1343 430h0M1249 409h0M1257 388h0M1342 442h0M1282 408h0M1300 389h0M1288 372h0M1244 396h0M1279 661h0M1323 824h0M1313 751h0M1314 633h0M1238 717h0M1279 685h0M1242 620h0M1325 648h0M1347 795h0M1291 641h0M1248 746h0M1236 698h0M1254 600h0M1314 596h0M1277 604h0M1344 605h0M1281 635h0M1301 828h0M1330 616h0M1253 548h0M1313 556h0M1242 532h0M1311 532h0M1297 495h0M1246 508h0M1273 569h0M1344 532h0M1321 546h0M1267 499h0M1294 506h0M1278 494h0M1345 484h0M1269 479h0M1307 478h0M1310 505h0M1568 429h0M1502 416h0M1556 381h0M1574 448h0M1484 454h0M1553 417h0M1529 434h0M1501 367h0M1514 460h0M1486 452h0M1534 392h0M1492 452h0M1555 778h0M1483 654h0M1587 707h0M1565 797h0M1593 844h0M1561 649h0M1531 680h0M1531 708h0M1529 818h0M1516 734h0M1567 658h0M1514 764h0M1562 668h0M1523 660h0M1565 710h0M1577 942h0M1590 705h0M1498 637h0M1595 762h0M1585 754h0M1491 806h0M1482 727h0M1499 731h0M1566 850h0M1506 549h0M1548 465h0M1522 627h0M1573 572h0M1531 537h0M1552 571h0M1570 554h0M1577 572h0M1593 517h0M1583 609h0M1577 621h0M1553 523h0M1492 499h0M1594 566h0M1488 483h0M1480 557h0M1479 462h0M1549 579h0M1587 596h0M1493 575h0M1493 471h0M1586 576h0M1597 607h0M1528 465h0M1593 482h0M1561 534h0M1488 345h0"/>
<path d="M297 332h0M249 294h0M243 617h0M349 659h0M284 669h0M362 615h0M252 621h0M274 732h0M337 612h0M341 596h0M271 645h0M325 637h0M323 749h0M253 600h0M275 631h0M342 667h0M259 774h0M296 545h0M255 416h0M349 451h0M341 358h0M309 477h0M256 405h0M304 373h0M310 524h0M345 519h0M360 550h0M306 524h0M316 565h0M317 503h0M330 431h0M287 534h0M342 455h0M305 576h0M280 533h0M259 561h0M289 548h0M302 340h0M327 580h0M331 380h0M311 519h0M313 436h0M291 353h0M357 481h0M488 361h0M595 337h0M556 345h0M582 279h0M492 349h0M574 354h0M587 369h0M535 341h0M591 378h0M567 362h0M607 634h0M565 718h0M548 783h0M567 618h0M536 623h0M507 729h0M496 758h0M515 655h0M489 615h0M516 752h0M585 620h0M572 748h0M555 440h0M555 485h0M502 400h0M533 442h0M544 608h0M604 443h0M571 434h0M563 590h0M491 485h0M591 539h0M605 417h0M507 536h0M601 474h0M538 574h0M586 427h0M599 495h0M515 608h0M518 500h0M587 438h0M550 458h0M562 501h0M510 391h0M503 420h0M492 540h0M506 498h0M822 441h0M742 411h0M769 436h0M820 425h0M778 449h0M813 772h0M787 742h0M842 674h0M776 695h0M741 755h0M808 813h0M752 764h0M744 677h0M766 537h0M818 581h0M781 612h0M809 496h0M831 520h0M756 529h0M739 526h0M803 478h0M784 482h0M821 613h0M767 601h0M796 545h0M830 574h0M829 525h0M758 593h0M843 513h0M838 638h0M739 554h0M801 558h0M820 562h0M788 519h0M796 625h0M1097 368h0M1048 411h0M1006 399h0M990 434h0M1040 416h0M1037 376h0M1002 446h0M1045 410h0M983 376h0M1039 269h0M1062 670h0M1030 646h0M1067 710h0M1058 667h0M1002 630h0M1099 725h0M1005 723h0M1015 604h0M1073 630h0M1100 682h0M1003 603h0M1056 618h0M1067 689h0M988 785h0M1018 511h0M1070 491h0M1093 518h0M1057 513h0M1000 512h0M1031 487h0M1056 485h0M1061 507h0M1095 464h0M1068 458h0M1100 475h0M1084 492h0M1023 523h0M996 494h0M1069 479h0M1023 574h0M1064 552h0M985 495h0M1296 322h0M1326 439h0M1352 394h0M1350 414h0M1332 412h0M1245 419h0M1326 336h0M1287 430h0M1323 441h0M1348 352h0M1347 388h0M1284 410h0M1326 390h0M1339 407h0M1313 360h0M1230 616h0M1230 864h0M1324 632h0M1315 653h0M1310 687h0M1311 692h0M1303 683h0M1239 731h0M1313 660h0M1240 613h0M1339 670h0M1352 695h0M1295 692h0M1250 678h0M1348 511h0M1233 588h0M1249 483h0M1290 564h0M1241 568h0M1304 562h0M1231 576h0M1287 543h0M1297 578h0M1305 535h0M1331 552h0M1236 537h0M1264 505h0M1290 527h0M1260 458h0M1327 492h0M1247 525h0M1350 553h0M1335 499h0M1570 383h0M1479 454h0M1517 431h0M1504 449h0M1513 445h0M1520 311h0M1571 442h0M1509 839h0M1545 656h0M1547 697h0M1568 774h0M1526 673h0M1567 687h0M1512 631h0M1577 692h0M1553 664h0M1576 836h0M1595 703h0M1558 714h0M1574 815h0M1517 719h0M1525 678h0M1497 697h0M1502 509h0M1496 485h0M1578 461h0M1596 577h0M1523 475h0M1541 530h0M1551 572h0M1495 512h0M1599 541h0M1524 501h0M1560 574h0M1496 563h0M1534 570h0M1570 492h0M1514 506h0M1537 476h0M1511 589h0M1590 509h0"/>
<path d="M272 337h0M252 323h0M322 323h0M310 325h0M261 325h0M336 326h0M280 304h0M332 328h0M354 772h0M327 622h0M346 692h0M304 645h0M311 639h0M324 632h0M352 650h0M322 613h0M310 729h0M257 492h0M283 407h0M323 465h0M357 528h0M341 501h0M342 563h0M335 527h0M270 444h0M275 370h0M318 564h0M337 542h0M339 544h0M329 452h0M260 346h0M354 496h0M283 396h0M304 340h0M333 400h0M283 382h0M297 503h0M299 353h0M262 381h0M246 454h0M341 573h0M316 399h0M339 469h0M303 496h0M498 351h0M532 359h0M600 379h0M562 325h0M517 322h0M555 609h0M533 751h0M495 640h0M518 629h0M596 680h0M533 618h0M538 738h0M511 659h0M516 738h0M495 484h0M570 470h0M559 482h0M605 507h0M545 485h0M595 446h0M585 458h0M577 408h0M601 583h0M526 571h0M600 461h0M597 462h0M512 536h0M582 398h0M572 407h0M497 399h0M544 413h0M595 584h0M599 493h0M518 601h0M585 393h0M526 400h0M495 588h0M543 421h0M526 258h0M587 866h0M764 372h0M745 441h0M775 410h0M782 413h0M846 387h0M849 475h0M759 395h0M804 331h0M757 467h0M829 450h0M839 667h0M812 842h0M746 717h0M768 785h0M826 705h0M788 677h0M849 705h0M846 732h0M844 765h0M775 809h0M752 575h0M754 513h0M747 643h0M833 581h0M798 546h0M855 664h0M751 480h0M822 517h0M763 631h0M834 631h0M804 480h0M859 617h0M836 498h0M750 559h0M777 607h0M776 488h0M765 579h0M743 610h0M856 571h0M824 535h0M759 570h0M766 490h0M773 629h0M801 645h0M851 936h0M797 962h0M998 424h0M1039 454h0M1041 407h0M1005 452h0M1045 398h0M1052 417h0M1009 312h0M1066 389h0M1094 442h0M1042 442h0M1045 444h0M1104 458h0M1103 374h0M1060 364h0M1019 621h0M1048 630h0M1008 625h0M1062 779h0M1068 616h0M1104 773h0M1089 607h0M998 777h0M1069 671h0M1006 613h0M1051 604h0M1060 634h0M1006 593h0M1036 648h0M1059 682h0M1093 726h0M1017 620h0M1009 507h0M991 533h0M1076 536h0M989 569h0M1073 558h0M1014 559h0M999 566h0M1056 490h0M1036 507h0M1104 544h0M1087 461h0M1315 362h0M1297 417h0M1256 327h0M1309 376h0M1234 349h0M1319 362h0M1349 429h0M1327 292h0M1256 408h0M1345 626h0M1252 782h0M1240 791h0M1268 600h0M1278 800h0M1348 764h0M1314 641h0M1239 617h0M1336 628h0M1302 600h0M1277 631h0M1238 648h0M1297 693h0M1288 454h0M1245 463h0M1248 588h0M1283 463h0M1348 469h0M1332 497h0M1254 520h0M1287 465h0M1241 481h0M1257 510h0M1339 555h0M1349 468h0M1252 502h0M1522 446h0M1494 444h0M1596 408h0M1567 441h0M1492 456h0M1573 357h0M1600 432h0M1518 719h0M1589 693h0M1579 693h0M1523 755h0M1531 734h0M1572 721h0M1547 774h0M1564 787h0M1500 699h0M1491 731h0M1542 656h0M1550 869h0M1597 690h0M1599 634h0M1495 537h0M1572 540h0M1560 481h0M1509 556h0M1532 532h0M1524 620h0M1485 619h0M1485 561h0M1540 606h0M1493 621h0M1584 465h0M1555 607h0M1576 545h0M1500 579h0M1513 486h0M1554 620h0M1502 588h0M1537 580h0M1568 498h0M1551 551h0M1563 481h0M1480 611h0M1491 559h0M1531 469h0M1575 530h0M1482 496h0M1527 491h0M1581 463h0M1550 556h0M1524 314h0M1538 343h0"/>
<path d="M278 331h0M278 590h0M341 645h0M279 658h0M258 594h0M291 608h0M288 741h0M306 668h0M344 637h0M291 658h0M348 738h0M277 648h0M269 612h0M264 592h0M290 601h0M262 631h0M338 677h0M281 533h0M265 470h0M305 498h0M276 516h0M328 512h0M247 456h0M275 471h0M314 523h0M321 435h0M300 571h0M315 578h0M306 501h0M276 431h0M249 556h0M261 396h0M273 503h0M317 346h0M345 466h0M265 575h0M282 585h0M329 455h0M289 410h0M275 557h0M245 541h0M288 351h0M332 468h0M314 506h0M587 375h0M518 377h0M492 334h0M489 360h0M592 356h0M548 643h0M493 702h0M510 635h0M574 703h0M501 630h0M540 664h0M492 630h0M563 621h0M545 611h0M564 627h0M572 671h0M508 621h0M604 683h0M501 655h0M555 391h0M573 402h0M538 599h0M559 606h0M515 457h0M570 494h0M602 441h0M603 387h0M510 450h0M524 508h0M537 594h0M597 607h0M549 545h0M544 492h0M566 502h0M496 439h0M508 531h0M596 471h0M508 577h0M564 589h0M505 435h0M545 599h0M516 597h0M575 539h0M605 480h0M522 604h0M551 562h0M835 455h0M780 464h0M847 456h0M855 428h0M746 399h0M854 317h0M772 423h0M800 460h0M753 432h0M747 456h0M752 453h0M799 463h0M761 454h0M792 769h0M848 754h0M775 787h0M835 769h0M762 673h0M757 722h0M749 749h0M788 608h0M745 484h0M813 513h0M816 541h0M766 657h0M780 554h0M749 643h0M834 593h0M820 545h0M836 527h0M822 542h0M746 500h0M835 521h0M751 519h0M842 654h0M773 513h0M984 424h0M990 441h0M1054 457h0M1055 281h0M1067 302h0M1010 437h0M1103 360h0M1048 352h0M1025 372h0M1043 648h0M1073 626h0M1008 652h0M1106 587h0M1006 584h0M1025 594h0M1068 595h0M1028 637h0M1017 648h0M1080 655h0M1031 471h0M1084 489h0M1071 474h0M1084 516h0M1014 469h0M1085 514h0M1013 458h0M1014 526h0M1066 553h0M1010 508h0M1063 519h0M1094 568h0M1098 462h0M990 537h0M1080 513h0M1071 473h0M1074 573h0M1345 418h0M1342 383h0M1352 395h0M1288 425h0M1252 356h0M1308 435h0M1260 317h0M1253 424h0M1289 322h0M1254 383h0M1254 421h0M1309 382h0M1282 386h0M1264 362h0M1263 626h0M1250 638h0M1300 761h0M1331 603h0M1267 711h0M1280 652h0M1303 551h0M1248 560h0M1353 556h0M1347 478h0M1283 517h0M1322 545h0M1321 482h0M1267 526h0M1345 505h0M1316 535h0M1308 523h0M1263 533h0M1247 570h0M1346 576h0M1271 480h0M1237 476h0M1577 403h0M1542 460h0M1532 401h0M1594 389h0M1498 426h0M1499 408h0M1576 375h0M1486 371h0M1600 446h0M1523 431h0M1508 665h0M1568 697h0M1584 692h0M1575 756h0M1594 684h0M1570 744h0M1503 779h0M1534 889h0M1508 659h0M1552 672h0M1529 743h0M1569 743h0M1497 816h0M1579 666h0M1581 787h0M1578 697h0M1486 693h0M1526 473h0M1591 544h0M1588 589h0M1490 547h0M1479 512h0M1593 536h0M1600 592h0M1577 547h0M1533 523h0M1504 584h0M1551 595h0M1543 581h0M1532 619h0M1537 550h0M1593 560h0M1489 465h0M1483 602h0M1583 545h0M1526 505h0M1596 579h0M1594 463h0M1514 553h0M1549 520h0"/>
<path d="M259 311h0M309 330h0M259 329h0M282 301h0M343 304h0M280 289h0M263 648h0M301 613h0M249 601h0M294 670h0M330 710h0M360 692h0M261 612h0M283 593h0M326 663h0M323 635h0M345 589h0M262 763h0M298 611h0M263 600h0M303 608h0M343 710h0M339 617h0M325 672h0M312 628h0M258 732h0M275 468h0M310 487h0M280 436h0M346 368h0M334 472h0M332 347h0M274 444h0M317 485h0M314 407h0M277 395h0M289 522h0M356 529h0M295 401h0M259 466h0M295 455h0M330 564h0M346 404h0M243 485h0M306 554h0M247 572h0M335 340h0M337 431h0M305 410h0M294 395h0M598 363h0M520 337h0M535 371h0M549 339h0M610 756h0M550 635h0M506 669h0M561 654h0M546 712h0M601 645h0M565 642h0M553 637h0M586 683h0M532 381h0M542 420h0M499 388h0M591 517h0M504 392h0M593 487h0M518 416h0M607 543h0M559 541h0M606 500h0M521 432h0M557 433h0M588 396h0M610 449h0M506 552h0M602 419h0M566 556h0M585 467h0M596 591h0M597 491h0M551 457h0M536 471h0M519 555h0M556 415h0M600 589h0M604 503h0M590 547h0M590 404h0M778 383h0M767 445h0M858 391h0M765 427h0M814 425h0M826 438h0M825 438h0M750 368h0M788 363h0M853 314h0M829 354h0M786 457h0M802 396h0M846 442h0M854 429h0M783 414h0M798 477h0M841 745h0M835 700h0M849 676h0M843 770h0M848 771h0M740 839h0M811 769h0M799 715h0M785 551h0M750 529h0M774 490h0M786 522h0M812 562h0M767 584h0M823 550h0M757 524h0M775 492h0M822 578h0M840 625h0M859 534h0M793 511h0M752 543h0M834 481h0M829 633h0M760 543h0M842 513h0M829 638h0M785 499h0M847 609h0M816 491h0M736 530h0M846 566h0M854 503h0M811 652h0M1065 428h0M1066 418h0M1087 449h0M1099 369h0M1015 400h0M1052 418h0M1070 339h0M1083 331h0M1033 402h0M1022 366h0M1018 802h0M1028 816h0M999 607h0M1019 675h0M1069 699h0M1016 789h0M997 667h0M1036 627h0M999 582h0M1018 615h0M986 658h0M991 526h0M1080 544h0M1052 565h0M1079 478h0M1065 545h0M1094 539h0M992 521h0M1074 527h0M1079 544h0M1057 514h0M1080 564h0M1059 476h0M1262 392h0M1327 442h0M1254 375h0M1271 354h0M1257 435h0M1247 338h0M1304 426h0M1264 386h0M1285 388h0M1280 398h0M1328 607h0M1332 602h0M1294 634h0M1302 598h0M1330 650h0M1339 643h0M1300 613h0M1245 600h0M1326 767h0M1275 649h0M1293 645h0M1307 621h0M1294 625h0M1290 702h0M1339 581h0M1246 459h0M1260 568h0M1266 458h0M1296 506h0M1260 582h0M1283 482h0M1350 575h0M1327 501h0M1269 457h0M1263 547h0M1333 475h0M1233 471h0M1270 565h0M1290 449h0M1247 458h0M1331 526h0M1286 498h0M1556 409h0M1490 390h0M1541 385h0M1501 415h0M1583 427h0M1534 421h0M1521 405h0M1496 444h0M1547 674h0M1511 797h0M1545 725h0M1572 702h0M1561 687h0M1587 656h0M1543 655h0M1594 880h0M1595 671h0M1549 635h0M1498 817h0M1491 718h0M1569 678h0M1515 647h0M1535 871h0M1576 722h0M1572 761h0M1579 644h0M1583 824h0M1551 647h0M1535 595h0M1501 461h0M1534 612h0M1594 500h0M1553 610h0M1482 471h0M1510 586h0M1528 599h0M1593 523h0M1531 528h0M1586 627h0M1594 564h0M1559 550h0M1510 505h0M1598 563h0M1561 520h0M1521 295h0"/>
<path d="M325 302h0M349 294h0M325 319h0M282 327h0M327 295h0M326 592h0M265 616h0M274 684h0M293 635h0M342 640h0M356 604h0M262 681h0M310 687h0M288 582h0M252 381h0M313 396h0M245 351h0M324 464h0M362 529h0M339 520h0M311 415h0M241 446h0M267 405h0M348 452h0M305 414h0M248 507h0M306 430h0M240 418h0M351 575h0M325 368h0M293 448h0M258 506h0M360 355h0M315 566h0M320 366h0M302 358h0M331 366h0M276 505h0M312 568h0M244 401h0M526 342h0M557 348h0M579 353h0M609 334h0M515 307h0M541 372h0M535 349h0M579 352h0M570 342h0M498 624h0M583 696h0M530 746h0M584 695h0M549 649h0M576 639h0M494 549h0M580 575h0M564 496h0M566 489h0M560 426h0M590 578h0M585 517h0M490 446h0M511 467h0M499 387h0M536 460h0M537 471h0M604 548h0M525 537h0M607 542h0M603 416h0M511 398h0M492 509h0M562 400h0M569 577h0M514 565h0M536 443h0M517 550h0M557 455h0M492 483h0M520 439h0M582 602h0M815 446h0M763 388h0M832 289h0M852 387h0M818 304h0M848 307h0M765 448h0M762 446h0M850 674h0M742 689h0M820 778h0M781 719h0M812 787h0M793 775h0M858 731h0M768 825h0M795 694h0M801 770h0M789 682h0M845 802h0M827 740h0M846 832h0M812 677h0M787 753h0M802 762h0M745 779h0M806 672h0M790 628h0M845 563h0M747 628h0M757 650h0M800 658h0M776 638h0M844 509h0M859 529h0M750 501h0M776 553h0M768 611h0M834 484h0M818 486h0M753 530h0M774 600h0M750 488h0M851 589h0M782 545h0M744 484h0M737 628h0M824 479h0M814 534h0M792 646h0M786 540h0M800 892h0M1027 420h0M1062 288h0M1061 422h0M1056 339h0M1013 454h0M1100 445h0M1101 334h0M1069 382h0M1089 317h0M1031 445h0M1056 587h0M1085 746h0M1076 649h0M1066 632h0M1014 729h0M1006 738h0M989 637h0M1091 703h0M1061 620h0M1004 620h0M1089 701h0M1054 647h0M1026 700h0M1034 645h0M1012 796h0M1082 556h0M1041 497h0M993 528h0M1019 470h0M1068 574h0M989 484h0M1102 509h0M1035 470h0M1063 538h0M995 510h0M999 458h0M997 552h0M993 511h0M1031 478h0M1084 552h0M1049 496h0M1351 432h0M1325 281h0M1317 392h0M1267 351h0M1243 320h0M1310 303h0M1309 427h0M1256 380h0M1342 409h0M1258 390h0M1268 696h0M1251 735h0M1279 611h0M1313 656h0M1300 657h0M1307 699h0M1341 715h0M1296 616h0M1342 652h0M1275 684h0M1238 682h0M1345 741h0M1238 721h0M1303 716h0M1243 524h0M1265 454h0M1315 527h0M1259 489h0M1255 519h0M1246 535h0M1300 480h0M1287 535h0M1304 570h0M1287 579h0M1318 534h0M1301 551h0M1245 548h0M1522 369h0M1596 415h0M1521 435h0M1542 423h0M1581 444h0M1547 410h0M1517 446h0M1594 442h0M1486 413h0M1584 445h0M1577 413h0M1546 442h0M1507 690h0M1491 742h0M1543 680h0M1560 681h0M1559 799h0M1510 642h0M1502 726h0M1573 763h0M1516 643h0M1556 649h0M1570 688h0M1598 716h0M1566 911h0M1528 638h0M1548 665h0M1496 542h0M1521 509h0M1503 468h0M1557 546h0M1568 536h0M1597 543h0M1547 615h0M1521 605h0M1556 596h0M1513 486h0M1598 602h0M1531 538h0M1563 544h0M1508 481h0M1522 556h0M1580 489h0M1564 629h0M1562 560h0M1536 510h0M1499 522h0"/>
<path d="M285 335h0M294 322h0M288 321h0M341 308h0M317 329h0M358 316h0M271 310h0M331 658h0M267 717h0M320 604h0M306 674h0M356 656h0M261 599h0M257 588h0M350 610h0M347 591h0M355 634h0M248 487h0M257 484h0M303 522h0M289 517h0M277 478h0M300 574h0M292 384h0M316 464h0M285 399h0M294 522h0M321 501h0M328 493h0M341 517h0M268 397h0M319 388h0M319 582h0M254 556h0M292 443h0M314 553h0M323 402h0M285 535h0M245 363h0M269 471h0M286 784h0M585 347h0M493 368h0M536 378h0M504 678h0M498 623h0M566 676h0M518 702h0M607 708h0M575 617h0M580 620h0M526 700h0M570 611h0M574 631h0M590 609h0M523 736h0M525 634h0M531 710h0M609 676h0M590 485h0M517 419h0M594 553h0M549 472h0M488 455h0M575 504h0M598 414h0M502 568h0M520 532h0M525 591h0M510 608h0M537 526h0M603 388h0M600 505h0M572 397h0M551 594h0M517 500h0M569 380h0M513 455h0M493 519h0M587 477h0M519 593h0M595 500h0M547 258h0M776 366h0M769 392h0M837 442h0M752 464h0M765 455h0M737 405h0M830 433h0M772 325h0M755 702h0M779 679h0M853 810h0M810 687h0M801 696h0M806 700h0M834 748h0M812 778h0M859 773h0M778 728h0M843 753h0M794 705h0M850 865h0M757 761h0M737 583h0M751 548h0M736 606h0M858 497h0M854 660h0M757 540h0M843 511h0M832 504h0M855 566h0M749 524h0M820 560h0M797 494h0M757 576h0M809 616h0M760 581h0M837 508h0M838 487h0M768 528h0M782 624h0M761 632h0M767 554h0M820 657h0M776 551h0M1032 383h0M1013 323h0M1020 350h0M1054 415h0M1037 433h0M1026 362h0M1105 411h0M1001 395h0M1097 450h0M1023 457h0M1014 270h0M1010 606h0M1045 755h0M984 595h0M1053 585h0M1086 600h0M999 656h0M1075 700h0M1041 642h0M1067 701h0M1080 670h0M1049 630h0M1103 582h0M1069 648h0M1009 614h0M1063 507h0M1082 556h0M1012 492h0M1046 519h0M1070 547h0M1083 517h0M1094 531h0M1009 487h0M1092 502h0M1044 478h0M1041 474h0M1077 522h0M989 512h0M1287 422h0M1290 282h0M1249 354h0M1276 368h0M1285 351h0M1272 396h0M1317 342h0M1257 406h0M1321 373h0M1271 385h0M1294 405h0M1305 429h0M1280 448h0M1252 410h0M1326 438h0M1344 637h0M1321 624h0M1300 796h0M1321 666h0M1315 666h0M1288 691h0M1269 641h0M1249 628h0M1239 624h0M1343 695h0M1294 659h0M1346 682h0M1256 449h0M1244 460h0M1299 591h0M1316 533h0M1238 516h0M1335 577h0M1239 581h0M1259 574h0M1271 510h0M1343 469h0M1317 556h0M1317 482h0M1353 518h0M1231 458h0M1269 451h0M1315 481h0M1276 530h0M1341 562h0M1319 559h0M1309 568h0M1238 560h0M1295 551h0M1275 471h0M1283 452h0M1265 893h0M1235 983h0M1545 443h0M1551 423h0M1507 387h0M1488 359h0M1591 434h0M1542 457h0M1519 650h0M1511 752h0M1540 737h0M1521 765h0M1533 717h0M1546 826h0M1546 659h0M1517 671h0M1580 738h0M1541 644h0M1525 830h0M1515 530h0M1567 562h0M1590 503h0M1568 527h0M1499 585h0M1515 502h0M1512 463h0M1548 576h0M1587 553h0M1582 615h0M1498 478h0M1519 281h0"/>
<path d="M311 319h0M327 335h0M315 302h0M272 628h0M338 703h0M324 641h0M298 749h0M250 691h0M316 704h0M283 597h0M331 645h0M242 604h0M291 634h0M317 596h0M267 448h0M286 478h0M264 464h0M326 534h0M335 368h0M305 493h0M259 349h0M246 565h0M245 372h0M290 542h0M350 366h0M330 441h0M264 375h0M345 485h0M322 380h0M285 583h0M274 384h0M334 559h0M297 374h0M245 558h0M322 379h0M244 342h0M359 793h0M547 296h0M504 341h0M501 345h0M594 376h0M588 371h0M602 695h0M583 609h0M545 630h0M573 677h0M530 677h0M548 667h0M581 495h0M528 483h0M598 511h0M539 560h0M488 554h0M548 594h0M593 521h0M508 469h0M488 605h0M550 563h0M557 451h0M563 431h0M504 428h0M566 495h0M516 415h0M537 526h0M511 414h0M588 389h0M848 460h0M819 476h0M858 470h0M835 432h0M781 379h0M760 430h0M786 477h0M844 429h0M758 468h0M762 246h0M816 696h0M744 680h0M799 796h0M814 716h0M835 732h0M745 691h0M825 760h0M827 720h0M745 832h0M769 690h0M822 724h0M794 748h0M803 809h0M788 608h0M742 502h0M840 527h0M789 508h0M827 479h0M852 601h0M858 610h0M855 579h0M857 655h0M812 610h0M776 528h0M849 581h0M810 569h0M801 525h0M832 505h0M804 530h0M990 327h0M1091 388h0M1089 376h0M986 452h0M1102 330h0M1066 353h0M1055 424h0M1044 346h0M1054 458h0M994 609h0M1035 691h0M1059 609h0M1004 790h0M1101 620h0M1029 706h0M990 614h0M1086 679h0M1087 594h0M1009 597h0M1027 639h0M1049 612h0M1020 617h0M999 582h0M1092 600h0M1086 746h0M993 626h0M1005 543h0M1015 570h0M994 468h0M1041 484h0M1091 479h0M1006 461h0M1007 564h0M1071 550h0M1096 516h0M1051 524h0M1026 570h0M1048 560h0M994 561h0M1018 515h0M1021 500h0M1287 442h0M1286 430h0M1251 383h0M1272 298h0M1347 331h0M1273 328h0M1238 347h0M1329 403h0M1279 418h0M1324 776h0M1281 728h0M1285 627h0M1230 751h0M1243 786h0M1312 699h0M1300 638h0M1350 613h0M1337 835h0M1270 681h0M1340 643h0M1349 629h0M1311 776h0M1295 648h0M1249 790h0M1254 531h0M1332 515h0M1285 572h0M1326 510h0M1271 451h0M1267 509h0M1293 521h0M1320 571h0M1276 562h0M1242 468h0M1351 462h0M1259 508h0M1284 591h0M1257 473h0M1299 453h0M1230 485h0M1344 473h0M1279 553h0M1334 461h0M1315 565h0M1329 536h0M1297 496h0M1271 548h0M1284 508h0M1535 335h0M1583 422h0M1579 437h0M1590 406h0M1555 389h0M1518 452h0M1576 434h0M1496 665h0M1579 879h0M1494 744h0M1506 692h0M1602 656h0M1584 686h0M1520 716h0M1564 651h0M1492 804h0M1572 778h0M1601 670h0M1586 828h0M1516 711h0M1560 662h0M1522 700h0M1565 662h0M1506 559h0M1517 544h0M1534 514h0M1538 539h0M1490 504h0M1584 485h0M1590 517h0M1520 564h0M1599 544h0M1495 509h0M1516 618h0M1487 512h0M1600 469h0M1496 474h0M1488 545h0M1502 624h0M1495 521h0"/>
<path d="M269 294h0M299 633h0M289 645h0M254 635h0M305 675h0M277 699h0M321 589h0M265 612h0M308 432h0M324 378h0M331 521h0M311 370h0M302 540h0M308 453h0M269 438h0M302 362h0M338 580h0M360 347h0M317 422h0M263 540h0M266 342h0M344 498h0M327 496h0M338 341h0M344 547h0M347 522h0M297 512h0M246 502h0M303 345h0M359 478h0M320 386h0M602 306h0M608 357h0M518 372h0M603 350h0M503 351h0M587 366h0M521 299h0M554 687h0M521 638h0M553 664h0M566 625h0M545 687h0M498 646h0M610 627h0M575 609h0M573 693h0M518 397h0M591 401h0M532 393h0M529 435h0M568 496h0M544 567h0M547 507h0M548 573h0M498 459h0M542 600h0M500 587h0M582 607h0M521 555h0M603 569h0M577 513h0M539 504h0M579 391h0M523 403h0M589 507h0M555 482h0M535 542h0M552 424h0M557 563h0M548 469h0M531 493h0M561 574h0M558 559h0M494 461h0M529 555h0M569 416h0M554 599h0M837 451h0M830 444h0M809 467h0M825 476h0M798 410h0M741 677h0M754 744h0M783 729h0M845 674h0M843 674h0M748 772h0M809 798h0M738 751h0M853 795h0M848 740h0M837 687h0M836 813h0M737 667h0M810 720h0M848 562h0M787 484h0M796 570h0M808 594h0M761 487h0M785 479h0M762 632h0M847 652h0M740 501h0M804 535h0M819 485h0M789 649h0M798 647h0M796 666h0M749 641h0M828 501h0M826 659h0M800 560h0M821 517h0M776 522h0M747 528h0M794 641h0M810 481h0M814 547h0M1023 445h0M1024 443h0M1076 352h0M983 404h0M992 403h0M1027 357h0M1081 411h0M985 457h0M1040 598h0M1001 651h0M1096 644h0M1072 726h0M1077 738h0M1085 841h0M1070 687h0M1070 674h0M993 631h0M1016 607h0M1051 709h0M1061 691h0M999 699h0M1005 544h0M1094 510h0M1096 471h0M1047 551h0M998 534h0M1047 466h0M1028 531h0M1023 518h0M1103 541h0M1038 494h0M1010 484h0M1245 361h0M1240 446h0M1292 411h0M1313 408h0M1313 415h0M1287 340h0M1256 400h0M1333 399h0M1261 421h0M1273 440h0M1349 415h0M1336 409h0M1300 601h0M1317 697h0M1289 790h0M1302 692h0M1303 615h0M1242 666h0M1352 740h0M1236 733h0M1302 806h0M1256 604h0M1245 627h0M1264 611h0M1234 685h0M1285 629h0M1332 577h0M1249 456h0M1247 495h0M1341 500h0M1247 497h0M1271 589h0M1258 592h0M1309 593h0M1283 458h0M1294 579h0M1299 467h0M1313 484h0M1329 513h0M1320 549h0M1339 576h0M1322 493h0M1248 581h0M1518 380h0M1481 397h0M1499 459h0M1580 417h0M1506 370h0M1504 449h0M1560 375h0M1539 369h0M1480 439h0M1518 450h0M1486 713h0M1581 737h0M1537 676h0M1563 706h0M1523 831h0M1487 869h0M1512 665h0M1523 684h0M1513 689h0M1590 720h0M1598 666h0M1601 737h0M1600 763h0M1533 728h0M1595 647h0M1586 745h0M1547 699h0M1589 576h0M1590 559h0M1550 627h0M1507 528h0M1489 621h0M1599 563h0M1556 477h0M1522 461h0M1509 466h0M1535 593h0M1568 587h0M1546 565h0M1514 585h0M1547 517h0M1532 598h0M1581 573h0M1504 516h0M1492 541h0M1586 337h0M1559 323h0"/>
<path d="M305 335h0M255 640h0M277 762h0M297 661h0M333 680h0M335 703h0M295 621h0M346 600h0M250 592h0M325 640h0M341 614h0M362 671h0M267 646h0M342 617h0M275 673h0M354 698h0M301 662h0M296 495h0M296 401h0M244 515h0M300 393h0M311 563h0M278 495h0M289 559h0M268 482h0M332 399h0M350 546h0M300 449h0M320 555h0M304 505h0M344 516h0M282 352h0M284 459h0M362 518h0M297 456h0M346 344h0M291 420h0M256 495h0M292 413h0M337 463h0M276 369h0M359 359h0M345 478h0M322 515h0M611 351h0M603 311h0M491 376h0M490 341h0M581 365h0M602 752h0M496 619h0M518 622h0M522 616h0M512 631h0M569 685h0M525 686h0M585 614h0M552 657h0M577 659h0M578 547h0M518 410h0M550 590h0M500 582h0M552 423h0M561 576h0M496 488h0M511 409h0M591 574h0M539 381h0M605 561h0M593 569h0M492 588h0M510 553h0M520 460h0M529 551h0M598 556h0M583 434h0M527 502h0M599 478h0M494 405h0M560 608h0M504 544h0M509 495h0M497 428h0M537 607h0M547 386h0M519 565h0M504 583h0M563 393h0M853 383h0M796 406h0M854 465h0M805 436h0M826 381h0M745 416h0M737 423h0M763 336h0M792 446h0M767 449h0M851 800h0M820 667h0M856 766h0M751 820h0M845 717h0M828 743h0M766 880h0M853 698h0M838 689h0M776 752h0M826 856h0M758 689h0M837 810h0M840 514h0M748 504h0M736 541h0M808 632h0M737 599h0M834 615h0M821 629h0M752 506h0M792 496h0M845 569h0M845 547h0M743 538h0M858 536h0M793 537h0M777 569h0M827 620h0M797 488h0M759 540h0M755 479h0M838 606h0M826 557h0M814 590h0M791 514h0M853 619h0M779 517h0M992 375h0M993 271h0M1034 446h0M1010 453h0M1009 318h0M1092 334h0M1056 416h0M1003 234h0M1082 646h0M1073 618h0M1056 614h0M985 646h0M989 616h0M998 716h0M1008 674h0M1017 665h0M1087 807h0M1055 734h0M1079 624h0M1014 554h0M1087 465h0M1004 546h0M1001 490h0M1001 565h0M1010 568h0M1098 537h0M1093 526h0M1291 430h0M1344 347h0M1313 312h0M1287 444h0M1270 420h0M1335 345h0M1327 425h0M1277 321h0M1316 384h0M1272 439h0M1239 435h0M1343 748h0M1242 615h0M1283 686h0M1324 635h0M1249 658h0M1346 626h0M1295 714h0M1255 667h0M1270 728h0M1324 605h0M1254 644h0M1339 736h0M1345 638h0M1320 638h0M1314 732h0M1246 572h0M1264 505h0M1312 530h0M1259 455h0M1249 575h0M1348 454h0M1235 466h0M1328 471h0M1279 475h0M1268 511h0M1242 482h0M1292 448h0M1247 505h0M1298 457h0M1300 513h0M1292 936h0M1564 390h0M1554 380h0M1531 403h0M1500 381h0M1587 413h0M1575 359h0M1562 384h0M1486 366h0M1596 350h0M1567 631h0M1483 706h0M1526 664h0M1524 788h0M1600 725h0M1487 698h0M1575 690h0M1510 739h0M1592 685h0M1483 796h0M1539 796h0M1506 720h0M1535 694h0M1489 717h0M1493 749h0M1518 523h0M1554 520h0M1543 477h0M1486 550h0M1509 527h0M1550 614h0M1572 545h0M1532 611h0M1586 485h0M1535 566h0M1559 528h0M1495 598h0M1538 491h0M1482 537h0M1504 470h0M1600 507h0M1508 540h0M1569 316h0"/>
<path d="M320 327h0M284 336h0M309 588h0M273 678h0M241 608h0M340 729h0M346 741h0M269 446h0M285 528h0M357 418h0M354 373h0M304 367h0M348 580h0M355 340h0M302 569h0M250 533h0M248 388h0M348 446h0M254 587h0M246 482h0M286 493h0M275 432h0M349 574h0M276 489h0M281 564h0M244 453h0M357 505h0M343 544h0M269 527h0M265 527h0M312 495h0M489 371h0M576 358h0M493 341h0M495 327h0M506 378h0M597 619h0M559 687h0M518 676h0M575 787h0M508 666h0M550 676h0M564 640h0M540 782h0M595 701h0M606 632h0M511 623h0M502 657h0M526 559h0M525 477h0M579 427h0M587 448h0M492 587h0M493 486h0M604 402h0M526 599h0M513 486h0M490 386h0M500 454h0M585 487h0M605 463h0M594 568h0M562 434h0M592 421h0M502 546h0M607 504h0M521 512h0M609 250h0M805 460h0M853 459h0M741 452h0M824 477h0M822 410h0M859 404h0M819 394h0M827 466h0M812 460h0M848 344h0M761 450h0M779 463h0M819 378h0M831 433h0M811 439h0M796 781h0M812 744h0M792 682h0M815 708h0M741 741h0M788 707h0M833 756h0M765 730h0M758 787h0M766 736h0M773 694h0M835 737h0M852 706h0M742 795h0M813 793h0M738 802h0M844 695h0M756 804h0M787 780h0M847 819h0M793 594h0M829 631h0M773 597h0M819 665h0M807 515h0M741 527h0M802 512h0M831 636h0M754 578h0M849 553h0M786 631h0M781 632h0M827 593h0M799 593h0M855 502h0M835 650h0M815 563h0M744 558h0M991 343h0M1053 295h0M1023 445h0M1069 404h0M1102 452h0M989 285h0M1101 327h0M1033 415h0M1083 255h0M1010 352h0M1005 438h0M1102 375h0M1096 309h0M1007 318h0M1077 422h0M1019 239h0M1016 430h0M984 297h0M1098 621h0M1053 824h0M1038 607h0M1052 721h0M1042 630h0M1104 676h0M1068 701h0M1099 678h0M989 651h0M992 640h0M1021 641h0M1019 472h0M1026 573h0M1056 569h0M1007 508h0M1012 495h0M1074 508h0M985 503h0M1016 574h0M1105 555h0M1062 498h0M1093 575h0M1065 525h0M1046 533h0M1018 523h0M1278 349h0M1248 443h0M1242 408h0M1306 413h0M1233 431h0M1265 441h0M1298 424h0M1248 392h0M1231 424h0M1348 722h0M1337 639h0M1253 599h0M1277 758h0M1322 705h0M1249 702h0M1269 667h0M1246 704h0M1291 631h0M1239 685h0M1319 661h0M1269 722h0M1333 455h0M1331 486h0M1273 494h0M1263 548h0M1298 568h0M1308 552h0M1244 589h0M1345 459h0M1331 453h0M1340 571h0M1287 590h0M1291 500h0M1315 558h0M1282 462h0M1301 517h0M1264 484h0M1275 485h0M1312 970h0M1538 453h0M1578 434h0M1490 455h0M1504 443h0M1547 400h0M1587 795h0M1492 684h0M1526 694h0M1504 667h0M1592 835h0M1531 685h0M1551 694h0M1577 663h0M1562 689h0M1558 725h0M1551 668h0M1490 680h0M1570 665h0M1559 511h0M1529 476h0M1594 474h0M1520 463h0M1480 518h0M1498 475h0M1520 560h0M1535 565h0M1571 629h0M1574 537h0M1526 617h0M1534 528h0M1500 498h0M1580 477h0M1560 547h0M1509 602h0M1525 613h0M1570 517h0M1561 566h0M1556 611h0M1481 552h0M1504 333h0"/>
<path d="M248 320h0M274 338h0M328 598h0M292 647h0M331 688h0M274 605h0M256 650h0M307 603h0M260 574h0M352 527h0M342 496h0M279 452h0M315 398h0M304 464h0M313 544h0M269 574h0M347 358h0M262 393h0M361 538h0M339 413h0M262 402h0M306 466h0M287 464h0M347 485h0M361 431h0M257 531h0M351 469h0M271 429h0M256 532h0M311 517h0M257 449h0M328 487h0M352 359h0M305 509h0M250 396h0M281 354h0M276 555h0M338 428h0M246 546h0M335 407h0M299 258h0M254 819h0M598 364h0M533 350h0M585 358h0M544 369h0M491 349h0M605 375h0M515 316h0M563 378h0M534 371h0M533 796h0M494 714h0M513 692h0M568 710h0M531 641h0M571 633h0M576 732h0M568 661h0M504 678h0M496 702h0M597 432h0M543 445h0M510 389h0M607 452h0M493 577h0M499 596h0M577 583h0M498 557h0M568 559h0M509 381h0M532 398h0M593 513h0M548 594h0M605 551h0M553 599h0M496 557h0M545 396h0M601 440h0M561 444h0M494 562h0M544 459h0M520 447h0M565 590h0M561 510h0M503 533h0M736 347h0M807 365h0M792 440h0M784 448h0M759 409h0M815 319h0M760 397h0M766 469h0M822 403h0M845 440h0M841 353h0M818 448h0M828 740h0M755 708h0M811 680h0M824 742h0M770 778h0M761 696h0M788 670h0M750 712h0M852 672h0M841 845h0M796 878h0M779 719h0M815 736h0M833 728h0M766 775h0M829 717h0M762 798h0M794 685h0M739 699h0M848 706h0M841 685h0M823 750h0M838 780h0M822 760h0M763 491h0M837 587h0M735 595h0M777 570h0M798 583h0M770 544h0M770 647h0M760 629h0M829 534h0M772 530h0M759 574h0M821 489h0M795 612h0M778 520h0M817 636h0M824 486h0M808 503h0M770 523h0M1088 362h0M1100 390h0M1102 447h0M1003 394h0M1085 375h0M1065 346h0M1029 387h0M995 450h0M1011 390h0M1011 430h0M1100 452h0M1006 315h0M1015 378h0M1012 594h0M1073 752h0M1004 698h0M1096 598h0M1060 688h0M1048 697h0M1019 646h0M1025 681h0M1075 720h0M1053 625h0M1040 649h0M1057 678h0M995 546h0M1102 499h0M1085 518h0M1046 477h0M1094 568h0M1043 546h0M1055 571h0M994 479h0M1091 554h0M1068 491h0M1033 494h0M1025 556h0M1008 485h0M1062 471h0M997 470h0M1283 394h0M1323 314h0M1281 358h0M1342 406h0M1294 448h0M1277 413h0M1352 393h0M1318 430h0M1306 314h0M1271 384h0M1330 594h0M1254 599h0M1329 676h0M1282 611h0M1351 751h0M1243 695h0M1301 661h0M1242 722h0M1246 747h0M1306 449h0M1277 528h0M1250 452h0M1231 533h0M1352 499h0M1279 578h0M1324 583h0M1272 591h0M1317 585h0M1232 468h0M1289 532h0M1309 510h0M1292 545h0M1301 468h0M1341 459h0M1560 431h0M1568 379h0M1497 394h0M1515 400h0M1562 398h0M1547 439h0M1580 442h0M1548 457h0M1565 389h0M1517 433h0M1595 400h0M1535 373h0M1508 426h0M1495 452h0M1590 349h0M1527 699h0M1592 777h0M1506 750h0M1488 748h0M1556 655h0M1550 745h0M1587 702h0M1530 645h0M1562 644h0M1600 651h0M1545 805h0M1549 638h0M1568 726h0M1573 768h0M1563 766h0M1571 645h0M1588 668h0M1518 733h0M1563 724h0M1517 578h0M1497 526h0M1499 628h0M1561 552h0M1598 580h0M1567 472h0M1535 578h0M1559 507h0M1585 578h0M1591 534h0M1540 474h0"/>
<path d="M284 321h0M307 313h0M247 333h0M263 331h0M278 305h0M247 330h0M288 624h0M334 589h0M265 627h0M258 652h0M321 666h0M348 606h0M244 631h0M255 603h0M354 537h0M357 503h0M357 355h0M294 385h0M244 399h0M294 504h0M265 418h0M293 498h0M316 437h0M265 403h0M297 484h0M307 470h0M342 359h0M320 526h0M285 542h0M272 379h0M328 432h0M271 395h0M336 425h0M282 424h0M293 484h0M341 431h0M268 557h0M310 468h0M327 428h0M240 419h0M272 547h0M350 584h0M281 498h0M244 503h0M290 351h0M357 571h0M246 463h0M343 373h0M244 539h0M569 353h0M545 350h0M540 330h0M510 358h0M558 360h0M506 342h0M543 654h0M537 677h0M511 777h0M583 629h0M586 665h0M574 632h0M591 692h0M508 637h0M595 657h0M488 612h0M506 675h0M549 599h0M594 495h0M557 519h0M550 414h0M586 544h0M569 469h0M505 444h0M582 452h0M513 524h0M488 579h0M504 485h0M586 532h0M600 569h0M570 550h0M592 432h0M581 399h0M552 518h0M575 404h0M510 559h0M512 498h0M598 393h0M504 531h0M524 553h0M517 547h0M534 510h0M608 421h0M530 509h0M558 271h0M768 409h0M824 405h0M787 440h0M814 387h0M831 392h0M809 432h0M848 423h0M793 455h0M850 361h0M796 416h0M825 434h0M852 400h0M855 431h0M786 432h0M844 810h0M778 721h0M739 755h0M762 749h0M843 771h0M760 679h0M806 667h0M795 718h0M819 802h0M742 706h0M858 815h0M749 684h0M753 732h0M743 786h0M845 709h0M758 730h0M799 828h0M784 709h0M787 691h0M758 516h0M775 507h0M749 514h0M740 663h0M739 489h0M737 488h0M759 605h0M853 595h0M780 504h0M807 652h0M778 526h0M769 489h0M755 488h0M829 565h0M784 529h0M763 481h0M745 516h0M791 550h0M1001 375h0M1008 368h0M1066 359h0M1092 332h0M1100 358h0M1043 415h0M1030 455h0M1008 366h0M1053 411h0M1020 424h0M1051 363h0M999 276h0M1034 401h0M1078 332h0M1015 414h0M1023 853h0M1091 643h0M1080 627h0M1060 635h0M988 617h0M1036 579h0M1014 637h0M993 683h0M1060 585h0M1080 620h0M1085 697h0M1077 594h0M1006 591h0M1026 734h0M1037 596h0M1081 663h0M1057 679h0M1084 501h0M1000 510h0M1060 564h0M1080 529h0M1074 523h0M1041 518h0M1068 517h0M1103 498h0M1083 541h0M1034 491h0M997 567h0M1087 563h0M1023 462h0M994 542h0M988 516h0M1072 498h0M1074 522h0M1065 464h0M1070 492h0M1099 567h0M1241 347h0M1307 446h0M1256 378h0M1288 288h0M1249 265h0M1299 438h0M1237 401h0M1241 399h0M1270 362h0M1326 386h0M1257 396h0M1243 289h0M1251 431h0M1339 435h0M1276 429h0M1261 736h0M1345 782h0M1281 660h0M1295 695h0M1307 681h0M1327 644h0M1329 800h0M1243 683h0M1291 783h0M1236 731h0M1311 605h0M1235 672h0M1345 637h0M1269 615h0M1298 772h0M1237 575h0M1344 449h0M1280 572h0M1334 516h0M1301 450h0M1233 501h0M1235 466h0M1288 485h0M1299 512h0M1266 566h0M1339 540h0M1329 582h0M1236 551h0M1254 469h0M1325 544h0M1336 590h0M1337 564h0M1231 579h0M1323 499h0M1597 402h0M1505 456h0M1584 435h0M1577 359h0M1498 387h0M1554 373h0M1506 411h0M1496 438h0M1598 353h0M1599 657h0M1554 689h0M1515 684h0M1541 712h0M1533 750h0M1526 645h0M1534 697h0M1520 898h0M1561 514h0M1511 573h0M1583 464h0M1500 516h0M1514 541h0M1586 463h0M1530 502h0M1590 604h0M1553 589h0M1554 604h0M1592 551h0M1585 574h0M1506 570h0M1582 508h0M1579 574h0M1527 538h0M1585 516h0M1564 606h0"/>
<path d="M244 331h0M254 311h0M260 314h0M348 304h0M265 609h0M297 616h0M353 615h0M290 603h0M275 643h0M254 640h0M277 672h0M362 625h0M286 641h0M290 623h0M325 625h0M308 397h0M244 495h0M323 380h0M303 442h0M250 544h0M331 414h0M362 456h0M359 505h0M354 372h0M242 468h0M343 533h0M343 429h0M272 498h0M262 479h0M345 369h0M283 570h0M293 409h0M244 585h0M328 558h0M345 365h0M354 462h0M291 372h0M305 345h0M333 529h0M331 395h0M317 349h0M324 488h0M326 478h0M300 406h0M320 428h0M350 455h0M290 496h0M343 407h0M523 352h0M593 350h0M566 368h0M577 629h0M540 633h0M528 656h0M495 622h0M583 692h0M562 683h0M593 614h0M530 407h0M611 589h0M591 576h0M559 532h0M497 513h0M497 490h0M553 392h0M528 523h0M551 440h0M596 557h0M522 587h0M575 486h0M510 403h0M495 524h0M583 522h0M571 509h0M546 529h0M575 512h0M604 514h0M591 430h0M576 475h0M846 445h0M820 437h0M801 464h0M778 444h0M841 353h0M805 407h0M764 290h0M831 420h0M742 463h0M823 425h0M824 463h0M825 428h0M748 427h0M745 405h0M754 426h0M823 431h0M769 686h0M790 679h0M760 700h0M754 677h0M748 700h0M783 798h0M820 789h0M772 714h0M848 745h0M760 796h0M736 860h0M760 710h0M770 647h0M840 597h0M854 578h0M773 635h0M795 504h0M779 589h0M768 492h0M759 646h0M779 509h0M810 524h0M828 643h0M788 516h0M796 619h0M803 534h0M820 499h0M805 611h0M800 512h0M842 598h0M852 662h0M858 511h0M815 960h0M1075 415h0M1024 449h0M994 435h0M1030 365h0M1101 440h0M1101 355h0M1043 438h0M998 375h0M1065 366h0M1059 320h0M1087 424h0M1087 448h0M1100 615h0M1096 585h0M1099 580h0M1098 696h0M1056 732h0M1008 738h0M1038 577h0M1024 697h0M992 726h0M1059 680h0M1103 603h0M1078 651h0M1032 717h0M1000 652h0M1048 740h0M1036 823h0M1088 587h0M998 566h0M1032 472h0M1103 515h0M1104 508h0M1055 516h0M1076 468h0M1010 528h0M1102 563h0M1069 551h0M1069 572h0M1058 537h0M1012 480h0M1287 447h0M1237 444h0M1327 441h0M1347 439h0M1301 360h0M1314 444h0M1326 422h0M1328 430h0M1253 311h0M1294 342h0M1271 435h0M1332 381h0M1273 447h0M1287 427h0M1281 345h0M1283 445h0M1318 443h0M1350 661h0M1267 627h0M1310 760h0M1284 629h0M1306 724h0M1264 627h0M1283 615h0M1304 614h0M1246 744h0M1260 719h0M1266 718h0M1299 668h0M1267 677h0M1303 601h0M1337 600h0M1289 639h0M1327 655h0M1344 617h0M1294 728h0M1291 725h0M1304 590h0M1269 449h0M1291 502h0M1334 565h0M1241 526h0M1314 483h0M1290 548h0M1297 547h0M1287 589h0M1280 558h0M1291 450h0M1322 504h0M1246 550h0M1336 523h0M1338 552h0M1252 893h0M1546 446h0M1591 387h0M1508 416h0M1558 444h0M1586 402h0M1524 447h0M1514 333h0M1595 433h0M1586 781h0M1518 645h0M1560 672h0M1550 638h0M1496 702h0M1571 737h0M1583 697h0M1490 652h0M1571 698h0M1574 818h0M1589 793h0M1521 820h0M1498 641h0M1578 657h0M1491 689h0M1537 749h0M1589 767h0M1561 698h0M1482 739h0M1526 684h0M1497 666h0M1596 585h0M1599 505h0M1542 516h0M1553 477h0M1576 482h0M1560 537h0M1564 486h0M1599 547h0M1573 619h0M1579 462h0M1564 560h0M1576 582h0M1591 489h0M1531 591h0M1533 504h0M1591 952h0"/>
<path d="M250 328h0M298 317h0M359 337h0M303 330h0M316 672h0M289 664h0M304 666h0M312 672h0M302 720h0M297 617h0M302 701h0M343 623h0M283 602h0M278 614h0M332 644h0M311 597h0M323 598h0M308 646h0M242 557h0M296 400h0M313 580h0M328 528h0M289 411h0M251 501h0M316 354h0M304 553h0M329 349h0M320 540h0M349 487h0M343 527h0M302 398h0M361 366h0M298 414h0M310 343h0M244 416h0M258 547h0M321 446h0M309 461h0M262 432h0M273 540h0M268 528h0M307 466h0M317 471h0M298 478h0M358 437h0M250 382h0M309 477h0M336 440h0M265 442h0M330 577h0M243 516h0M346 410h0M359 442h0M301 504h0M269 342h0M350 852h0M595 348h0M544 346h0M563 360h0M514 379h0M499 374h0M541 378h0M604 612h0M491 620h0M585 712h0M565 520h0M512 579h0M490 507h0M550 417h0M598 555h0M570 605h0M544 541h0M554 496h0M592 608h0M534 432h0M536 496h0M524 536h0M499 399h0M573 443h0M542 467h0M579 406h0M580 572h0M610 526h0M490 477h0M538 477h0M528 540h0M507 586h0M588 483h0M572 542h0M780 468h0M842 427h0M821 371h0M841 464h0M810 372h0M853 281h0M784 393h0M858 474h0M782 441h0M763 414h0M803 712h0M792 860h0M809 692h0M824 745h0M796 717h0M770 767h0M776 770h0M788 676h0M809 735h0M817 765h0M858 751h0M839 779h0M808 711h0M853 714h0M771 555h0M836 553h0M804 648h0M773 567h0M761 575h0M758 543h0M851 496h0M793 541h0M755 567h0M821 604h0M840 665h0M760 603h0M741 510h0M754 606h0M831 505h0M775 642h0M807 519h0M748 614h0M840 508h0M1102 435h0M995 425h0M993 324h0M1013 454h0M1034 423h0M1016 280h0M1097 379h0M1059 408h0M1013 296h0M1007 379h0M986 400h0M1097 337h0M996 640h0M1080 630h0M991 739h0M1105 643h0M1061 630h0M1036 667h0M1087 693h0M1017 644h0M1091 796h0M1106 629h0M998 616h0M1021 729h0M1012 621h0M1080 680h0M1052 462h0M1036 462h0M1016 541h0M1104 478h0M1069 483h0M1065 462h0M1041 561h0M1065 502h0M987 505h0M1004 557h0M1087 469h0M1003 569h0M1042 532h0M1057 495h0M1080 459h0M1057 521h0M1301 400h0M1251 430h0M1253 431h0M1285 410h0M1309 358h0M1255 433h0M1255 368h0M1253 264h0M1249 435h0M1349 407h0M1348 635h0M1325 691h0M1232 800h0M1327 658h0M1335 869h0M1261 718h0M1300 653h0M1340 644h0M1243 783h0M1250 605h0M1340 689h0M1233 626h0M1315 698h0M1309 843h0M1298 632h0M1326 703h0M1287 519h0M1231 530h0M1318 459h0M1335 458h0M1246 548h0M1286 577h0M1300 452h0M1242 462h0M1237 562h0M1261 457h0M1256 470h0M1324 493h0M1315 467h0M1322 944h0M1526 419h0M1500 455h0M1505 407h0M1566 446h0M1493 440h0M1533 438h0M1553 848h0M1582 639h0M1491 798h0M1494 752h0M1578 770h0M1519 664h0M1518 664h0M1516 700h0M1519 685h0M1601 664h0M1514 686h0M1528 708h0M1574 743h0M1572 487h0M1582 555h0M1528 630h0M1527 548h0M1492 571h0M1515 464h0M1497 521h0M1553 507h0M1500 542h0M1544 572h0M1481 540h0M1600 512h0M1560 542h0M1482 582h0M1560 465h0M1592 629h0M1549 628h0M1480 528h0M1590 497h0"/>
<path d="M255 297h0M327 336h0M297 337h0M349 629h0M353 672h0M240 640h0M276 653h0M363 620h0M283 674h0M244 689h0M257 634h0M309 668h0M306 596h0M348 629h0M273 653h0M293 345h0M259 435h0M256 553h0M271 429h0M321 550h0M250 474h0M362 365h0M340 554h0M302 525h0M257 574h0M333 574h0M268 463h0M298 506h0M360 497h0M268 487h0M298 474h0M240 451h0M325 423h0M334 492h0M299 430h0M281 527h0M257 506h0M283 348h0M260 387h0M250 369h0M287 531h0M280 554h0M360 422h0M315 579h0M313 575h0M327 434h0M256 800h0M571 304h0M599 367h0M584 374h0M513 358h0M601 377h0M582 349h0M589 326h0M503 353h0M539 629h0M585 618h0M523 628h0M594 632h0M586 615h0M550 697h0M549 704h0M610 631h0M578 461h0M507 589h0M579 439h0M552 582h0M610 446h0M590 390h0M490 576h0M528 431h0M578 585h0M531 470h0M519 543h0M570 388h0M603 601h0M541 534h0M603 577h0M598 581h0M517 455h0M597 474h0M585 432h0M590 415h0M494 461h0M591 417h0M593 543h0M517 579h0M523 587h0M516 390h0M561 393h0M510 510h0M780 408h0M848 478h0M744 381h0M744 439h0M748 431h0M775 477h0M809 465h0M747 401h0M747 408h0M740 450h0M767 347h0M838 457h0M849 475h0M824 761h0M744 827h0M769 750h0M845 671h0M743 714h0M738 679h0M834 791h0M784 789h0M744 751h0M776 731h0M824 726h0M848 695h0M824 705h0M853 737h0M784 480h0M738 557h0M818 635h0M825 487h0M787 576h0M747 563h0M757 665h0M852 570h0M796 513h0M827 525h0M798 653h0M827 500h0M850 607h0M811 588h0M755 490h0M748 638h0M825 571h0M765 640h0M757 548h0M738 491h0M788 656h0M839 657h0M739 518h0M1031 398h0M1067 421h0M1106 372h0M1009 392h0M1018 370h0M1085 382h0M1104 430h0M1099 448h0M1091 425h0M1087 430h0M1011 667h0M1094 578h0M1031 677h0M1086 656h0M1092 654h0M1084 635h0M1047 677h0M1010 645h0M1035 640h0M1088 735h0M1048 817h0M993 655h0M1041 687h0M1046 712h0M1033 636h0M1074 612h0M984 458h0M1089 516h0M1067 542h0M1039 465h0M1043 517h0M986 531h0M1072 508h0M1045 508h0M1050 551h0M1010 571h0M1306 333h0M1335 371h0M1314 442h0M1293 398h0M1304 367h0M1233 425h0M1310 734h0M1239 659h0M1346 770h0M1307 714h0M1341 615h0M1241 683h0M1309 601h0M1342 608h0M1261 647h0M1234 686h0M1308 641h0M1281 757h0M1235 769h0M1233 692h0M1344 633h0M1260 599h0M1307 514h0M1286 519h0M1338 531h0M1278 552h0M1305 522h0M1247 469h0M1236 456h0M1330 452h0M1525 368h0M1531 402h0M1532 406h0M1584 407h0M1526 433h0M1512 370h0M1582 655h0M1572 673h0M1584 719h0M1583 686h0M1594 833h0M1571 639h0M1556 638h0M1543 682h0M1538 660h0M1492 669h0M1506 633h0M1573 712h0M1537 800h0M1524 687h0M1493 776h0M1556 722h0M1491 652h0M1581 704h0M1531 627h0M1580 556h0M1600 466h0M1559 603h0M1562 463h0M1523 468h0M1547 553h0M1570 619h0M1504 476h0M1543 516h0M1579 600h0M1527 474h0M1513 465h0M1517 600h0M1526 627h0M1518 559h0M1559 514h0M1526 510h0M1538 487h0M1577 466h0M1550 490h0M1495 589h0M1505 534h0M1487 566h0M1519 620h0M1581 592h0"/>
<path d="M286 295h0M354 331h0M355 323h0M312 328h0M262 339h0M258 304h0M284 680h0M295 609h0M249 706h0M251 610h0M290 729h0M309 594h0M353 725h0M287 662h0M344 347h0M345 518h0M280 585h0M280 360h0M308 495h0M324 435h0M294 490h0M303 579h0M305 568h0M347 454h0M262 532h0M291 368h0M322 551h0M248 444h0M303 474h0M252 352h0M351 440h0M352 574h0M288 566h0M265 570h0M316 557h0M316 420h0M250 439h0M311 542h0M322 401h0M269 389h0M543 373h0M524 342h0M578 290h0M544 350h0M582 379h0M603 357h0M509 376h0M577 329h0M539 324h0M611 347h0M548 653h0M501 787h0M583 696h0M575 640h0M587 611h0M608 614h0M527 643h0M522 624h0M586 642h0M541 673h0M496 682h0M570 612h0M531 804h0M501 661h0M541 544h0M591 591h0M558 596h0M503 450h0M581 412h0M545 526h0M498 484h0M523 459h0M492 464h0M513 481h0M499 598h0M523 396h0M553 575h0M590 484h0M517 459h0M498 480h0M525 442h0M594 408h0M533 608h0M524 388h0M561 605h0M587 549h0M550 447h0M582 517h0M747 385h0M798 348h0M757 376h0M857 392h0M777 303h0M800 478h0M766 430h0M737 446h0M802 396h0M768 424h0M743 339h0M742 466h0M824 453h0M761 427h0M810 433h0M764 473h0M816 719h0M741 774h0M854 788h0M838 685h0M748 748h0M751 722h0M805 706h0M830 685h0M769 752h0M808 696h0M859 619h0M756 492h0M785 637h0M770 551h0M803 581h0M786 626h0M805 650h0M746 536h0M853 564h0M806 634h0M784 644h0M794 624h0M782 635h0M777 501h0M830 596h0M826 599h0M761 666h0M817 530h0M840 534h0M786 593h0M823 657h0M833 576h0M825 501h0M1047 388h0M1095 399h0M1103 241h0M1056 315h0M1039 423h0M1056 386h0M994 396h0M1082 380h0M1076 438h0M1012 352h0M999 384h0M1097 446h0M1047 373h0M1034 413h0M1101 441h0M1001 666h0M1020 793h0M988 688h0M1087 654h0M1059 666h0M1000 755h0M1068 691h0M1080 635h0M1026 642h0M1076 540h0M1043 532h0M1030 570h0M1084 548h0M1103 465h0M1048 550h0M1078 477h0M1039 545h0M1099 506h0M1013 562h0M1050 499h0M1300 391h0M1303 310h0M1279 395h0M1258 411h0M1267 389h0M1279 360h0M1237 397h0M1321 639h0M1349 647h0M1327 723h0M1262 714h0M1323 639h0M1307 744h0M1339 639h0M1306 617h0M1288 647h0M1322 616h0M1243 618h0M1291 595h0M1307 757h0M1287 631h0M1284 698h0M1260 633h0M1309 614h0M1339 600h0M1272 675h0M1266 791h0M1296 499h0M1347 460h0M1261 586h0M1257 578h0M1282 576h0M1257 530h0M1260 566h0M1340 497h0M1345 546h0M1266 481h0M1292 520h0M1310 593h0M1316 492h0M1242 574h0M1250 512h0M1325 541h0M1332 568h0M1251 496h0M1308 564h0M1329 522h0M1253 546h0M1291 588h0M1348 493h0M1345 523h0M1293 551h0M1351 873h0M1530 396h0M1517 390h0M1568 391h0M1557 424h0M1560 393h0M1528 412h0M1507 382h0M1479 428h0M1529 443h0M1553 639h0M1598 787h0M1527 661h0M1534 684h0M1523 735h0M1566 688h0M1522 740h0M1491 691h0M1537 694h0M1537 740h0M1535 652h0M1483 690h0M1521 741h0M1599 744h0M1508 729h0M1584 691h0M1571 706h0M1482 688h0M1534 705h0M1577 664h0M1532 843h0M1567 645h0M1562 652h0M1543 595h0M1575 483h0M1551 490h0M1556 566h0M1515 599h0M1587 586h0M1495 538h0M1546 504h0M1514 487h0M1557 536h0M1510 565h0M1575 464h0M1574 494h0M1590 629h0M1517 469h0M1592 620h0M1526 590h0M1505 607h0M1595 494h0M1503 606h0M1558 562h0M1516 486h0M1563 583h0"/>
<path d="M305 328h0M251 316h0M270 331h0M285 319h0M261 686h0M275 617h0M343 605h0M274 598h0M309 617h0M336 675h0M343 731h0M339 600h0M332 692h0M334 596h0M310 705h0M285 598h0M330 717h0M343 599h0M329 739h0M288 707h0M242 541h0M333 423h0M256 432h0M362 480h0M276 379h0M240 380h0M334 411h0M257 493h0M289 379h0M244 388h0M348 508h0M309 465h0M339 463h0M254 489h0M347 415h0M350 342h0M268 551h0M329 538h0M275 508h0M240 476h0M252 569h0M280 551h0M300 563h0M342 431h0M304 524h0M325 404h0M318 498h0M258 444h0M243 544h0M527 300h0M508 286h0M488 362h0M537 352h0M560 332h0M512 319h0M562 352h0M588 283h0M532 369h0M524 664h0M549 714h0M576 668h0M500 648h0M517 615h0M541 639h0M565 687h0M589 647h0M557 644h0M596 698h0M555 637h0M603 621h0M607 608h0M543 585h0M540 389h0M568 381h0M562 496h0M603 494h0M507 405h0M602 524h0M557 553h0M534 498h0M552 463h0M523 408h0M570 514h0M496 599h0M520 412h0M511 482h0M491 505h0M491 404h0M550 457h0M538 499h0M509 520h0M532 479h0M555 560h0M570 392h0M543 476h0M517 548h0M504 429h0M736 380h0M831 413h0M771 406h0M821 348h0M855 416h0M817 430h0M762 398h0M769 434h0M792 423h0M764 443h0M851 476h0M772 440h0M840 270h0M842 368h0M783 412h0M786 686h0M838 678h0M750 669h0M838 700h0M848 758h0M755 699h0M840 784h0M753 690h0M837 759h0M758 686h0M755 498h0M825 618h0M785 597h0M789 544h0M749 639h0M849 503h0M781 505h0M830 582h0M781 620h0M788 513h0M843 633h0M858 493h0M841 605h0M840 513h0M783 644h0M736 565h0M831 624h0M749 567h0M993 424h0M1077 404h0M1063 375h0M991 323h0M1074 380h0M1086 384h0M1082 449h0M1064 441h0M1074 372h0M1072 401h0M1067 410h0M993 404h0M1031 436h0M1069 609h0M1060 619h0M1059 641h0M1087 702h0M1035 581h0M996 746h0M995 585h0M1078 592h0M1042 686h0M1081 595h0M1016 552h0M1085 462h0M1092 496h0M1086 556h0M1100 574h0M1020 465h0M1076 511h0M1009 529h0M1017 506h0M1096 540h0M1322 263h0M1291 396h0M1304 423h0M1303 445h0M1273 411h0M1266 346h0M1308 439h0M1275 352h0M1313 395h0M1240 673h0M1312 624h0M1257 674h0M1321 769h0M1230 647h0M1231 716h0M1266 615h0M1268 747h0M1346 708h0M1234 718h0M1318 658h0M1296 632h0M1325 671h0M1263 667h0M1318 558h0M1247 539h0M1238 514h0M1346 487h0M1287 554h0M1253 469h0M1270 568h0M1297 485h0M1353 561h0M1266 482h0M1235 467h0M1280 536h0M1326 511h0M1279 930h0M1546 448h0M1547 380h0M1561 450h0M1506 431h0M1577 449h0M1509 450h0M1493 444h0M1507 442h0M1490 392h0M1557 639h0M1507 714h0M1566 670h0M1526 686h0M1547 851h0M1530 675h0M1519 644h0M1596 824h0M1534 735h0M1600 723h0M1574 637h0M1479 751h0M1599 782h0M1505 651h0M1510 655h0M1591 775h0M1561 855h0M1489 688h0M1491 635h0M1578 585h0M1498 554h0M1502 463h0M1525 598h0M1535 571h0M1581 476h0M1545 593h0M1527 577h0M1554 533h0M1500 549h0M1514 553h0M1561 575h0M1578 542h0M1485 568h0M1589 526h0M1482 528h0M1587 470h0M1545 519h0M1481 580h0M1585 509h0"/>
<path d="M298 301h0M250 721h0M344 620h0M299 622h0M335 626h0M292 615h0M334 438h0M272 463h0M296 410h0M272 419h0M264 395h0M345 485h0M313 473h0M293 586h0M343 480h0M332 401h0M259 569h0M307 575h0M248 441h0M297 412h0M273 577h0M309 433h0M359 583h0M267 347h0M294 439h0M310 557h0M279 434h0M254 357h0M243 447h0M275 388h0M242 441h0M296 473h0M244 565h0M242 370h0M501 361h0M609 293h0M561 361h0M587 318h0M507 357h0M576 317h0M510 614h0M491 737h0M546 639h0M574 657h0M520 733h0M524 723h0M552 694h0M490 652h0M600 675h0M553 624h0M488 721h0M575 653h0M518 484h0M528 462h0M589 461h0M508 388h0M549 457h0M496 561h0M578 582h0M571 606h0M610 595h0M525 388h0M601 500h0M517 508h0M540 594h0M568 392h0M578 496h0M497 396h0M600 413h0M488 592h0M512 580h0M563 547h0M500 583h0M794 409h0M854 461h0M764 428h0M751 313h0M788 451h0M852 466h0M785 467h0M799 342h0M818 345h0M769 296h0M847 396h0M762 442h0M755 771h0M813 683h0M835 688h0M788 740h0M816 667h0M855 769h0M776 565h0M828 485h0M745 643h0M783 524h0M816 586h0M793 600h0M845 507h0M844 545h0M838 617h0M740 645h0M817 637h0M820 600h0M814 649h0M812 553h0M811 516h0M802 483h0M1005 442h0M985 400h0M1092 276h0M991 324h0M1050 319h0M1078 375h0M1065 440h0M1075 388h0M1090 377h0M1016 424h0M991 720h0M1101 651h0M1045 605h0M1013 641h0M985 669h0M1017 634h0M1100 724h0M1020 780h0M1005 604h0M1020 816h0M1028 699h0M1026 612h0M1055 764h0M1064 678h0M1019 574h0M1084 508h0M1098 476h0M1048 462h0M1012 549h0M1101 535h0M1065 554h0M1041 538h0M986 528h0M1095 495h0M1052 553h0M1024 567h0M1001 557h0M1060 472h0M1045 474h0M1011 513h0M1034 503h0M1098 539h0M1040 861h0M1284 437h0M1285 371h0M1242 418h0M1278 421h0M1265 300h0M1240 309h0M1330 380h0M1311 448h0M1290 359h0M1294 707h0M1290 695h0M1351 833h0M1255 670h0M1298 618h0M1270 630h0M1325 674h0M1282 626h0M1276 606h0M1269 708h0M1258 765h0M1346 595h0M1250 862h0M1332 597h0M1250 452h0M1305 504h0M1338 531h0M1314 519h0M1352 577h0M1283 503h0M1244 531h0M1290 463h0M1245 538h0M1241 463h0M1264 555h0M1295 483h0M1234 529h0M1285 579h0M1295 475h0M1290 541h0M1591 456h0M1577 340h0M1493 380h0M1592 412h0M1531 444h0M1584 414h0M1587 457h0M1527 713h0M1478 631h0M1511 666h0M1576 698h0M1573 669h0M1596 700h0M1591 774h0M1556 633h0M1517 857h0M1594 633h0M1527 664h0M1571 634h0M1490 841h0M1506 799h0M1501 640h0M1531 703h0M1532 833h0M1535 508h0M1582 530h0M1528 614h0M1521 461h0M1586 478h0M1560 509h0M1481 566h0M1513 490h0M1492 467h0M1496 489h0M1595 566h0M1555 484h0M1528 620h0M1589 499h0M1546 621h0M1492 507h0M1563 564h0M1601 334h0"/>
<path d="M327 258h0M254 277h0M291 325h0M342 333h0M334 588h0M268 622h0M322 595h0M344 607h0M316 768h0M360 701h0M355 695h0M340 661h0M268 742h0M256 670h0M294 637h0M352 728h0M289 527h0M274 531h0M322 454h0M251 465h0M349 405h0M257 415h0M289 504h0M343 380h0M289 551h0M324 501h0M311 576h0M262 413h0M279 415h0M323 523h0M350 552h0M272 354h0M318 488h0M343 406h0M354 443h0M362 464h0M513 305h0M542 284h0M607 320h0M498 349h0M516 370h0M583 341h0M508 285h0M494 360h0M605 270h0M489 659h0M505 631h0M565 680h0M511 619h0M525 645h0M601 643h0M502 663h0M520 628h0M514 668h0M531 633h0M545 716h0M517 630h0M506 624h0M599 656h0M570 518h0M551 590h0M586 449h0M567 572h0M592 438h0M594 525h0M524 521h0M607 483h0M489 403h0M519 412h0M507 576h0M490 391h0M504 436h0M534 574h0M518 512h0M603 383h0M562 447h0M520 602h0M588 435h0M559 470h0M594 598h0M595 597h0M562 439h0M496 599h0M592 576h0M572 455h0M553 390h0M751 475h0M805 428h0M817 411h0M769 403h0M836 476h0M838 429h0M759 419h0M844 453h0M818 418h0M773 433h0M755 424h0M836 419h0M820 439h0M780 679h0M858 698h0M785 749h0M793 754h0M798 725h0M835 845h0M771 671h0M778 554h0M769 584h0M779 577h0M799 570h0M800 478h0M786 554h0M794 662h0M762 639h0M839 610h0M767 624h0M839 574h0M1030 313h0M1073 304h0M1049 424h0M1032 360h0M1099 404h0M1067 444h0M1025 457h0M1092 372h0M1052 260h0M1029 338h0M1062 620h0M1096 644h0M987 717h0M1000 664h0M1039 596h0M1032 656h0M1014 672h0M1056 652h0M1057 733h0M988 717h0M1089 716h0M1105 591h0M1052 739h0M1085 601h0M1065 684h0M1094 584h0M1085 477h0M1054 542h0M1105 526h0M999 488h0M1019 551h0M1049 569h0M1069 461h0M992 564h0M1084 489h0M1068 504h0M1060 531h0M1096 505h0M1327 439h0M1250 319h0M1305 388h0M1325 437h0M1285 403h0M1238 404h0M1348 442h0M1350 389h0M1274 414h0M1253 419h0M1278 408h0M1341 627h0M1275 606h0M1329 678h0M1247 772h0M1340 626h0M1292 798h0M1326 675h0M1270 608h0M1273 635h0M1320 695h0M1350 611h0M1272 709h0M1298 840h0M1245 874h0M1330 869h0M1317 761h0M1233 688h0M1242 608h0M1341 628h0M1255 601h0M1306 656h0M1327 544h0M1241 496h0M1319 468h0M1346 496h0M1345 535h0M1292 495h0M1343 520h0M1264 483h0M1302 464h0M1294 457h0M1303 520h0M1314 586h0M1258 489h0M1321 567h0M1255 581h0M1340 494h0M1269 562h0M1353 508h0M1277 538h0M1261 505h0M1585 383h0M1510 420h0M1569 399h0M1563 364h0M1488 421h0M1478 442h0M1481 405h0M1545 401h0M1594 636h0M1535 687h0M1489 897h0M1601 647h0M1575 743h0M1534 656h0M1505 821h0M1541 696h0M1515 666h0M1481 672h0M1495 817h0M1530 705h0M1541 670h0M1507 635h0M1589 469h0M1508 549h0M1524 622h0M1578 522h0M1543 612h0M1538 497h0M1553 594h0M1532 495h0M1500 599h0M1509 511h0M1578 597h0M1551 531h0M1597 607h0M1511 492h0M1557 561h0M1539 469h0M1592 572h0M1588 525h0M1502 569h0M1531 473h0M1540 494h0M1536 610h0"/>
<path d="M273 292h0M265 317h0M334 335h0M284 669h0M250 592h0M333 704h0M280 621h0M363 691h0M290 666h0M299 651h0M256 689h0M300 639h0M316 376h0M356 402h0M327 433h0M334 546h0M253 417h0M295 552h0M333 479h0M274 519h0M262 549h0M282 541h0M334 569h0M327 489h0M362 395h0M336 400h0M362 542h0M332 520h0M353 371h0M278 363h0M257 391h0M307 570h0M259 423h0M359 363h0M245 428h0M320 536h0M271 579h0M258 518h0M334 561h0M255 510h0M491 342h0M544 361h0M520 310h0M593 367h0M512 375h0M531 370h0M498 341h0M603 322h0M519 354h0M575 375h0M573 710h0M541 628h0M602 626h0M570 616h0M596 658h0M563 692h0M596 670h0M513 661h0M535 657h0M490 616h0M551 611h0M490 499h0M601 573h0M565 493h0M551 600h0M526 605h0M585 600h0M600 582h0M557 402h0M562 607h0M565 479h0M545 609h0M523 397h0M596 445h0M493 393h0M564 577h0M495 500h0M594 435h0M538 522h0M590 396h0M534 387h0M550 400h0M516 502h0M573 569h0M851 394h0M803 327h0M753 421h0M796 432h0M774 321h0M778 443h0M837 476h0M755 473h0M828 415h0M812 467h0M820 445h0M815 427h0M854 846h0M824 716h0M796 687h0M856 701h0M848 680h0M823 717h0M764 707h0M790 675h0M850 771h0M827 651h0M803 601h0M749 494h0M824 513h0M829 538h0M817 534h0M762 630h0M821 508h0M815 521h0M800 501h0M806 508h0M764 500h0M845 504h0M805 603h0M795 657h0M800 610h0M816 563h0M841 636h0M1001 376h0M1092 393h0M987 416h0M1024 357h0M1100 446h0M989 399h0M1004 359h0M1096 386h0M1009 405h0M1016 398h0M1066 427h0M1093 372h0M1089 314h0M1060 389h0M1066 327h0M984 326h0M1038 590h0M1101 713h0M1056 578h0M1019 608h0M1041 654h0M983 578h0M984 586h0M1004 666h0M1068 631h0M1000 684h0M998 637h0M1043 588h0M1005 770h0M1102 548h0M992 532h0M997 572h0M1019 558h0M1023 507h0M1038 537h0M1035 482h0M997 474h0M1041 561h0M1325 354h0M1341 255h0M1329 398h0M1341 381h0M1239 403h0M1307 444h0M1246 254h0M1257 436h0M1275 418h0M1293 406h0M1277 426h0M1337 427h0M1315 721h0M1260 626h0M1300 736h0M1282 606h0M1290 618h0M1243 681h0M1259 696h0M1283 617h0M1352 753h0M1299 611h0M1342 651h0M1273 869h0M1251 673h0M1327 624h0M1341 605h0M1267 706h0M1244 465h0M1290 577h0M1298 568h0M1337 532h0M1322 543h0M1277 514h0M1282 525h0M1290 543h0M1241 504h0M1297 472h0M1278 523h0M1319 520h0M1305 590h0M1247 890h0M1579 373h0M1506 428h0M1594 420h0M1479 336h0M1503 424h0M1566 733h0M1506 854h0M1497 751h0M1568 696h0M1492 705h0M1507 836h0M1568 760h0M1482 642h0M1498 635h0M1594 776h0M1482 740h0M1507 871h0M1543 653h0M1508 704h0M1540 726h0M1515 640h0M1573 744h0M1538 670h0M1593 846h0M1590 764h0M1524 548h0M1563 566h0M1576 536h0M1557 588h0M1561 613h0M1582 518h0M1523 468h0M1505 583h0M1569 623h0M1490 474h0M1525 476h0M1535 462h0M1574 598h0M1507 616h0M1582 620h0M1496 599h0M1580 560h0M1583 327h0"/>
<path d="M287 331h0M316 324h0M280 589h0M284 611h0M265 616h0M267 749h0M274 639h0M305 644h0M286 657h0M323 593h0M347 479h0M241 436h0M255 580h0M355 400h0M270 583h0M272 342h0M340 442h0M336 418h0M336 347h0M318 377h0M341 345h0M326 511h0M240 354h0M249 523h0M269 495h0M352 352h0M361 367h0M339 357h0M288 396h0M331 494h0M251 584h0M346 495h0M247 507h0M298 494h0M346 385h0M243 341h0M284 449h0M338 447h0M330 431h0M300 400h0M344 363h0M242 520h0M256 273h0M266 849h0M496 319h0M506 288h0M580 332h0M542 342h0M571 345h0M575 353h0M585 324h0M505 378h0M489 629h0M574 676h0M578 617h0M499 619h0M547 696h0M522 617h0M507 720h0M508 540h0M540 582h0M492 445h0M568 447h0M577 380h0M602 537h0M582 548h0M586 518h0M589 589h0M523 553h0M513 523h0M543 388h0M505 465h0M575 586h0M529 542h0M498 424h0M592 413h0M546 541h0M739 423h0M751 445h0M801 358h0M810 417h0M854 474h0M847 377h0M784 397h0M771 460h0M857 410h0M818 424h0M819 402h0M757 358h0M845 464h0M849 432h0M852 460h0M767 700h0M783 720h0M826 691h0M788 696h0M789 799h0M842 738h0M783 683h0M790 748h0M804 716h0M787 707h0M736 615h0M836 529h0M748 637h0M756 654h0M848 518h0M835 486h0M762 572h0M850 643h0M823 552h0M846 579h0M792 542h0M782 607h0M835 502h0M1034 408h0M1024 445h0M1057 422h0M1055 453h0M1008 433h0M1019 340h0M1025 340h0M1101 441h0M1034 399h0M1042 291h0M1051 440h0M1088 393h0M1092 402h0M1002 413h0M1061 644h0M1041 616h0M1004 667h0M985 619h0M1039 698h0M1069 727h0M1053 591h0M1046 721h0M1056 670h0M1022 666h0M1086 644h0M1024 640h0M1102 605h0M991 741h0M1009 460h0M987 484h0M993 463h0M1100 466h0M1013 552h0M1056 519h0M1049 561h0M1090 489h0M1022 536h0M999 466h0M1080 520h0M1065 468h0M1003 572h0M1070 473h0M1104 561h0M1106 464h0M1007 549h0M1246 438h0M1315 325h0M1347 433h0M1232 298h0M1270 413h0M1295 386h0M1317 437h0M1275 407h0M1277 434h0M1315 407h0M1232 326h0M1256 441h0M1231 653h0M1284 601h0M1264 828h0M1267 660h0M1325 600h0M1240 675h0M1262 649h0M1334 699h0M1327 597h0M1312 752h0M1313 717h0M1312 669h0M1320 826h0M1329 688h0M1281 675h0M1283 677h0M1261 711h0M1273 701h0M1307 621h0M1264 680h0M1263 611h0M1308 505h0M1337 460h0M1335 454h0M1293 549h0M1261 458h0M1351 520h0M1323 505h0M1279 539h0M1353 480h0M1267 483h0M1331 466h0M1236 576h0M1288 895h0M1547 414h0M1520 438h0M1580 440h0M1592 415h0M1505 452h0M1595 375h0M1565 719h0M1587 663h0M1559 679h0M1550 877h0M1526 852h0M1494 646h0M1485 724h0M1538 686h0M1565 740h0M1578 798h0M1576 718h0M1601 807h0M1551 818h0M1486 779h0M1483 719h0M1517 701h0M1482 542h0M1496 610h0M1587 489h0M1561 578h0M1554 505h0M1534 602h0M1491 506h0M1581 623h0M1510 612h0M1589 490h0M1580 592h0M1494 549h0M1542 624h0M1535 461h0M1566 604h0M1581 618h0M1500 584h0M1479 590h0M1565 496h0M1537 582h0M1534 502h0M1580 502h0M1537 592h0M1533 544h0M1482 607h0"/>
<path d="M355 332h0M272 325h0M240 603h0M260 764h0M357 623h0M325 744h0M241 611h0M326 675h0M320 773h0M353 641h0M276 650h0M283 599h0M268 613h0M358 583h0M331 538h0M356 348h0M360 403h0M337 536h0M320 389h0M267 373h0M244 358h0M263 394h0M252 398h0M261 344h0M259 484h0M357 468h0M321 366h0M331 585h0M329 433h0M277 569h0M277 450h0M244 816h0M600 339h0M511 356h0M587 348h0M496 348h0M581 727h0M557 684h0M547 625h0M521 627h0M571 624h0M572 610h0M554 631h0M548 646h0M494 615h0M596 722h0M549 758h0M591 629h0M501 570h0M580 536h0M554 520h0M549 448h0M517 494h0M524 461h0M577 435h0M567 480h0M561 471h0M513 511h0M514 462h0M557 608h0M600 574h0M495 591h0M515 590h0M575 561h0M584 525h0M523 516h0M507 423h0M495 500h0M570 542h0M535 465h0M551 386h0M547 479h0M600 494h0M847 397h0M824 345h0M742 440h0M851 468h0M775 417h0M767 433h0M780 412h0M846 369h0M792 414h0M781 476h0M769 365h0M796 477h0M771 458h0M810 367h0M782 444h0M847 413h0M805 279h0M818 420h0M839 718h0M812 774h0M770 773h0M764 696h0M834 704h0M786 696h0M813 668h0M792 746h0M813 675h0M773 728h0M775 670h0M840 690h0M786 706h0M816 728h0M760 675h0M832 637h0M759 588h0M789 515h0M816 598h0M737 522h0M812 510h0M831 592h0M788 621h0M825 538h0M755 582h0M747 660h0M823 659h0M779 494h0M766 552h0M835 631h0M806 550h0M749 594h0M747 551h0M1004 433h0M1057 423h0M1093 404h0M1085 391h0M1056 394h0M1061 426h0M1053 419h0M1069 454h0M1028 389h0M989 666h0M1005 601h0M1054 653h0M1067 586h0M1002 852h0M1090 643h0M1100 678h0M1062 570h0M1090 472h0M1071 569h0M1106 567h0M1002 569h0M983 572h0M1030 507h0M987 532h0M1042 484h0M1103 471h0M1043 467h0M1101 459h0M1086 531h0M997 568h0M1241 352h0M1352 432h0M1343 413h0M1256 391h0M1268 393h0M1302 645h0M1301 675h0M1324 629h0M1338 719h0M1307 724h0M1274 696h0M1294 626h0M1254 671h0M1312 696h0M1351 630h0M1276 611h0M1263 683h0M1296 636h0M1350 593h0M1311 574h0M1252 486h0M1343 478h0M1252 535h0M1263 478h0M1263 562h0M1313 572h0M1305 541h0M1344 541h0M1343 543h0M1315 545h0M1238 510h0M1351 464h0M1281 911h0M1318 974h0M1522 325h0M1591 444h0M1541 423h0M1557 647h0M1559 640h0M1497 766h0M1546 721h0M1521 639h0M1585 871h0M1546 693h0M1587 648h0M1591 755h0M1587 719h0M1520 770h0M1487 837h0M1599 714h0M1583 735h0M1523 872h0M1526 675h0M1494 683h0M1581 661h0M1511 670h0M1577 605h0M1509 570h0M1553 551h0M1581 527h0M1534 493h0M1513 521h0M1532 532h0M1575 463h0M1585 517h0M1601 491h0M1482 505h0M1575 466h0M1585 480h0M1527 567h0M1501 626h0M1539 307h0"/>
<path d="M272 329h0M240 279h0M295 261h0M315 334h0M314 326h0M305 687h0M271 734h0M275 679h0M335 668h0M256 641h0M241 643h0M284 614h0M289 481h0M317 395h0M325 360h0M332 387h0M339 395h0M275 510h0M270 539h0M324 448h0M362 353h0M348 354h0M316 493h0M357 407h0M296 544h0M269 499h0M338 494h0M281 545h0M302 456h0M289 400h0M351 374h0M246 369h0M341 494h0M299 538h0M287 438h0M344 539h0M357 855h0M608 325h0M584 375h0M549 356h0M579 307h0M549 352h0M527 372h0M587 371h0M500 328h0M550 624h0M568 655h0M518 711h0M598 644h0M512 639h0M518 611h0M608 653h0M526 745h0M591 650h0M550 589h0M506 415h0M553 424h0M548 466h0M563 467h0M592 550h0M531 443h0M574 403h0M488 537h0M535 544h0M588 497h0M508 490h0M536 569h0M591 604h0M573 432h0M606 406h0M607 504h0M589 429h0M531 571h0M573 465h0M560 515h0M497 580h0M572 538h0M552 385h0M530 602h0M811 342h0M749 451h0M788 421h0M791 468h0M826 431h0M764 414h0M840 372h0M830 469h0M819 425h0M829 446h0M801 444h0M833 390h0M851 453h0M740 437h0M746 396h0M852 712h0M802 821h0M741 748h0M833 697h0M828 777h0M821 815h0M755 685h0M813 679h0M751 742h0M801 692h0M842 679h0M829 672h0M800 745h0M783 676h0M821 766h0M776 560h0M839 578h0M804 554h0M764 558h0M802 634h0M748 509h0M800 540h0M773 603h0M781 582h0M791 641h0M788 570h0M846 571h0M853 561h0M771 589h0M837 558h0M748 610h0M745 547h0M1101 308h0M1071 302h0M992 346h0M1010 417h0M1027 314h0M1009 331h0M1059 380h0M1081 403h0M1040 455h0M1028 338h0M1031 310h0M1069 355h0M1067 659h0M1106 698h0M1025 581h0M1045 581h0M989 645h0M1029 636h0M1081 583h0M1007 635h0M1049 654h0M1102 586h0M1015 671h0M1079 698h0M1071 599h0M1059 669h0M1057 680h0M992 681h0M1091 560h0M1032 550h0M1058 492h0M1088 542h0M1003 481h0M1035 465h0M1039 562h0M1049 483h0M1036 473h0M1036 545h0M1095 523h0M1338 360h0M1284 437h0M1293 427h0M1251 384h0M1316 420h0M1314 337h0M1321 311h0M1242 406h0M1263 434h0M1341 623h0M1285 636h0M1353 598h0M1349 700h0M1302 711h0M1234 653h0M1244 678h0M1320 626h0M1292 705h0M1333 492h0M1297 476h0M1256 505h0M1272 478h0M1315 532h0M1317 577h0M1275 466h0M1345 537h0M1240 471h0M1297 544h0M1235 545h0M1258 560h0M1335 470h0M1342 536h0M1249 590h0M1285 558h0M1554 418h0M1497 359h0M1526 457h0M1593 422h0M1496 447h0M1562 418h0M1530 423h0M1553 324h0M1578 425h0M1558 422h0M1533 405h0M1479 356h0M1514 769h0M1516 650h0M1518 763h0M1544 715h0M1507 670h0M1492 661h0M1583 675h0M1484 765h0M1483 739h0M1545 656h0M1520 848h0M1483 493h0M1501 552h0M1557 527h0M1599 512h0M1537 474h0M1562 591h0M1544 592h0M1505 585h0M1588 505h0M1577 481h0M1573 552h0M1483 569h0M1501 515h0M1563 523h0M1567 526h0M1504 563h0M1593 496h0M1583 499h0M1576 589h0"/>
<path d="M253 330h0M303 337h0M353 328h0M309 287h0M278 276h0M345 294h0M252 623h0M357 652h0M321 660h0M298 659h0M274 649h0M305 596h0M311 680h0M240 671h0M245 649h0M325 683h0M325 572h0M296 474h0M245 432h0M285 433h0M307 476h0M292 463h0M277 359h0M270 479h0M334 461h0M269 497h0M318 408h0M358 478h0M335 344h0M340 532h0M303 535h0M273 409h0M256 390h0M298 539h0M313 512h0M323 446h0M346 425h0M247 415h0M248 473h0M266 571h0M266 359h0M332 426h0M287 521h0M296 477h0M247 356h0M255 442h0M285 560h0M340 794h0M570 333h0M544 363h0M522 306h0M600 302h0M558 367h0M542 642h0M493 686h0M544 611h0M561 638h0M547 692h0M554 667h0M601 635h0M544 622h0M604 669h0M554 477h0M584 409h0M510 414h0M585 388h0M529 486h0M488 595h0M581 546h0M559 605h0M502 545h0M499 425h0M560 449h0M496 597h0M573 519h0M570 454h0M491 389h0M502 588h0M554 570h0M570 395h0M557 600h0M508 442h0M601 542h0M557 521h0M552 602h0M514 608h0M750 437h0M789 448h0M751 406h0M749 462h0M790 383h0M758 469h0M742 371h0M763 427h0M776 376h0M778 426h0M751 446h0M739 389h0M817 336h0M744 420h0M757 370h0M743 789h0M790 836h0M839 679h0M848 713h0M787 866h0M745 697h0M755 678h0M827 667h0M856 718h0M781 760h0M772 808h0M745 736h0M847 806h0M768 570h0M821 514h0M824 627h0M770 508h0M744 501h0M794 646h0M804 501h0M772 657h0M798 656h0M790 590h0M855 479h0M783 551h0M815 586h0M810 635h0M852 582h0M779 591h0M736 643h0M820 546h0M858 522h0M767 560h0M817 561h0M820 479h0M820 555h0M810 652h0M751 526h0M799 577h0M738 501h0M807 528h0M789 663h0M774 484h0M1047 424h0M1080 396h0M1033 397h0M989 456h0M995 362h0M1038 429h0M1038 408h0M1056 445h0M1019 421h0M1028 402h0M983 365h0M997 414h0M988 661h0M1024 579h0M1000 721h0M1103 731h0M1026 789h0M1004 588h0M1015 696h0M1012 587h0M1103 624h0M1021 651h0M1092 583h0M1009 770h0M1045 613h0M1070 625h0M993 650h0M1047 597h0M1020 555h0M1065 528h0M1045 489h0M999 484h0M1095 561h0M1057 488h0M1237 391h0M1239 425h0M1267 258h0M1350 439h0M1342 384h0M1253 394h0M1242 396h0M1297 402h0M1231 423h0M1274 360h0M1289 663h0M1260 602h0M1344 645h0M1336 625h0M1312 730h0M1255 633h0M1314 802h0M1339 753h0M1286 643h0M1327 722h0M1287 619h0M1255 619h0M1261 620h0M1301 600h0M1237 699h0M1263 452h0M1307 545h0M1326 576h0M1272 512h0M1312 469h0M1304 497h0M1277 554h0M1350 500h0M1286 541h0M1336 564h0M1280 491h0M1527 418h0M1497 424h0M1559 456h0M1538 448h0M1507 391h0M1558 331h0M1483 452h0M1520 424h0M1588 388h0M1576 430h0M1487 642h0M1570 632h0M1589 809h0M1510 643h0M1572 660h0M1547 732h0M1516 787h0M1536 799h0M1493 690h0M1588 637h0M1551 635h0M1534 724h0M1544 734h0M1479 636h0M1528 750h0M1590 655h0M1497 699h0M1533 733h0M1488 631h0M1585 716h0M1502 863h0M1548 668h0M1488 832h0M1598 752h0M1518 765h0M1590 677h0M1520 516h0M1573 545h0M1489 622h0M1532 615h0M1557 540h0M1569 506h0M1490 536h0M1513 556h0M1516 582h0M1557 529h0M1538 540h0M1565 586h0M1502 603h0M1478 596h0M1587 548h0M1583 630h0M1573 463h0M1558 511h0M1594 555h0M1500 506h0M1576 943h0"/>
<path d="M266 320h0M324 317h0M264 229h0M312 684h0M246 744h0M361 694h0M312 642h0M288 635h0M274 675h0M328 640h0M243 596h0M320 704h0M340 643h0M317 637h0M343 649h0M305 592h0M309 639h0M250 570h0M277 563h0M291 552h0M265 516h0M325 549h0M343 395h0M352 445h0M288 561h0M280 384h0M340 456h0M241 381h0M315 526h0M284 423h0M343 522h0M343 473h0M317 558h0M291 346h0M360 489h0M330 401h0M320 410h0M308 368h0M331 496h0M332 461h0M322 375h0M264 436h0M284 509h0M271 341h0M240 351h0M537 329h0M594 358h0M594 649h0M513 666h0M539 652h0M600 655h0M523 689h0M505 664h0M565 669h0M593 814h0M544 670h0M539 426h0M586 585h0M520 588h0M549 425h0M567 445h0M602 593h0M571 432h0M568 453h0M555 470h0M555 482h0M600 445h0M564 567h0M600 597h0M494 477h0M594 392h0M535 465h0M592 399h0M540 385h0M495 447h0M608 385h0M589 490h0M563 505h0M587 425h0M495 535h0M494 578h0M504 384h0M611 410h0M501 517h0M491 383h0M589 386h0M489 578h0M535 265h0M773 472h0M814 448h0M818 427h0M810 312h0M817 466h0M829 457h0M775 452h0M789 383h0M854 476h0M756 442h0M796 452h0M764 431h0M758 378h0M794 435h0M752 467h0M847 473h0M809 415h0M800 695h0M851 754h0M743 778h0M833 771h0M767 774h0M814 718h0M822 724h0M840 785h0M785 716h0M826 673h0M817 691h0M796 686h0M754 690h0M821 494h0M758 619h0M753 625h0M829 657h0M743 514h0M759 530h0M739 493h0M764 589h0M845 614h0M755 509h0M758 516h0M812 641h0M762 553h0M764 644h0M776 638h0M840 577h0M819 580h0M837 587h0M784 526h0M833 489h0M752 493h0M760 594h0M1033 357h0M995 406h0M1030 439h0M997 415h0M1040 396h0M1055 423h0M1044 397h0M1106 411h0M1090 417h0M1106 304h0M1052 347h0M985 313h0M990 411h0M1094 439h0M989 302h0M1026 678h0M1086 640h0M1034 783h0M984 768h0M1000 631h0M1046 590h0M1039 611h0M1096 657h0M1097 615h0M1099 580h0M1041 629h0M1026 811h0M1026 563h0M1097 555h0M1003 489h0M1076 538h0M1082 573h0M1017 527h0M1059 486h0M1000 505h0M999 544h0M994 551h0M1048 560h0M1297 345h0M1252 444h0M1300 336h0M1347 428h0M1330 233h0M1239 362h0M1341 418h0M1282 405h0M1334 353h0M1352 366h0M1291 316h0M1350 379h0M1231 670h0M1235 718h0M1272 634h0M1297 624h0M1335 806h0M1328 730h0M1329 601h0M1240 669h0M1337 645h0M1294 648h0M1266 710h0M1249 639h0M1340 486h0M1309 475h0M1330 580h0M1311 517h0M1317 539h0M1251 513h0M1294 578h0M1248 581h0M1231 542h0M1242 459h0M1248 463h0M1291 547h0M1275 456h0M1268 537h0M1316 532h0M1322 509h0M1286 468h0M1481 428h0M1579 402h0M1487 445h0M1523 455h0M1589 354h0M1585 395h0M1564 410h0M1554 380h0M1578 343h0M1569 434h0M1485 339h0M1502 651h0M1518 731h0M1532 795h0M1526 718h0M1548 631h0M1525 673h0M1593 744h0M1498 672h0M1566 766h0M1574 672h0M1519 706h0M1602 639h0M1544 727h0M1493 685h0M1550 644h0M1557 669h0M1524 695h0M1581 498h0M1560 608h0M1572 537h0M1552 497h0M1536 544h0M1543 622h0M1530 560h0M1563 516h0M1545 476h0M1502 573h0M1584 600h0M1540 491h0M1545 575h0"/>
<path d="M251 326h0M258 739h0M358 593h0M328 713h0M335 748h0M337 594h0M245 645h0M312 592h0M347 710h0M277 676h0M277 700h0M262 607h0M362 642h0M361 779h0M263 389h0M331 495h0M329 553h0M250 374h0M315 454h0M291 560h0M273 354h0M248 356h0M329 397h0M298 578h0M289 566h0M339 449h0M356 490h0M346 472h0M323 425h0M282 476h0M295 511h0M265 377h0M337 351h0M266 359h0M314 479h0M280 411h0M320 419h0M284 403h0M273 516h0M337 567h0M254 505h0M542 351h0M517 372h0M570 363h0M610 637h0M600 612h0M605 634h0M559 683h0M604 620h0M550 768h0M570 641h0M537 719h0M585 520h0M594 482h0M521 529h0M582 480h0M509 411h0M607 431h0M506 409h0M529 430h0M502 430h0M499 402h0M586 444h0M539 502h0M561 422h0M543 597h0M611 565h0M559 576h0M541 584h0M491 396h0M544 538h0M562 590h0M516 413h0M585 238h0M814 453h0M819 346h0M766 412h0M856 257h0M832 469h0M755 455h0M767 451h0M835 731h0M807 724h0M832 669h0M801 733h0M806 821h0M823 752h0M789 703h0M810 763h0M767 711h0M825 670h0M740 558h0M826 509h0M830 644h0M833 517h0M827 652h0M831 495h0M744 645h0M795 613h0M799 632h0M822 616h0M834 605h0M857 526h0M770 502h0M760 591h0M833 571h0M799 598h0M1040 402h0M1023 400h0M1093 368h0M1093 404h0M1038 419h0M1095 405h0M1037 349h0M1075 443h0M1075 413h0M1003 404h0M1074 333h0M1095 398h0M1073 432h0M1056 435h0M1105 623h0M1027 681h0M1032 585h0M1105 626h0M1079 601h0M994 652h0M985 741h0M1052 756h0M989 638h0M1075 749h0M1005 638h0M999 480h0M1032 480h0M1064 536h0M1094 574h0M1052 513h0M998 483h0M1075 530h0M1051 503h0M1084 542h0M1055 478h0M985 550h0M1070 545h0M1075 505h0M1067 537h0M984 507h0M986 552h0M1013 506h0M1261 391h0M1336 351h0M1332 321h0M1310 445h0M1327 423h0M1300 340h0M1314 385h0M1259 621h0M1242 644h0M1314 641h0M1300 681h0M1289 609h0M1245 614h0M1346 616h0M1267 665h0M1313 680h0M1352 688h0M1259 627h0M1326 674h0M1325 804h0M1262 664h0M1266 464h0M1287 530h0M1321 571h0M1333 561h0M1286 561h0M1320 544h0M1350 574h0M1271 543h0M1305 523h0M1232 555h0M1342 551h0M1353 578h0M1260 585h0M1339 465h0M1243 506h0M1327 467h0M1344 933h0M1524 368h0M1508 363h0M1495 398h0M1491 448h0M1486 388h0M1536 439h0M1585 404h0M1575 355h0M1491 440h0M1513 446h0M1518 411h0M1578 430h0M1513 451h0M1484 451h0M1594 776h0M1519 690h0M1503 719h0M1510 715h0M1483 805h0M1519 661h0M1505 632h0M1517 788h0M1576 811h0M1584 855h0M1554 732h0M1520 694h0M1558 819h0M1553 694h0M1492 926h0M1601 717h0M1546 567h0M1553 472h0M1511 595h0M1485 603h0M1547 486h0M1576 479h0M1496 515h0M1505 614h0M1597 538h0M1562 498h0M1524 629h0M1501 487h0M1520 478h0M1508 474h0M1589 585h0M1514 578h0M1485 596h0M1583 561h0M1527 470h0"/>
<path d="M290 337h0M241 305h0M266 307h0M346 605h0M311 618h0M278 620h0M323 635h0M289 590h0M337 620h0M330 593h0M325 728h0M335 570h0M269 482h0M256 378h0M255 459h0M364 520h0M347 507h0M251 550h0M363 478h0M284 531h0M266 419h0M311 488h0M325 366h0M358 404h0M310 525h0M247 443h0M363 363h0M301 466h0M255 504h0M313 501h0M344 580h0M354 508h0M278 347h0M335 500h0M361 382h0M316 407h0M343 430h0M334 458h0M310 402h0M339 353h0M338 370h0M281 469h0M306 416h0M272 404h0M327 411h0M605 369h0M583 349h0M522 331h0M569 376h0M533 353h0M592 363h0M580 323h0M520 667h0M512 619h0M508 610h0M499 679h0M544 647h0M505 617h0M606 664h0M547 643h0M585 623h0M515 717h0M509 562h0M597 563h0M528 473h0M594 479h0M552 598h0M576 470h0M609 393h0M500 577h0M551 565h0M594 443h0M520 549h0M498 532h0M557 397h0M603 510h0M541 547h0M562 557h0M520 426h0M537 549h0M599 420h0M503 471h0M554 515h0M540 551h0M605 501h0M528 579h0M599 411h0M593 534h0M776 419h0M841 389h0M751 476h0M844 462h0M818 477h0M741 402h0M784 478h0M793 427h0M812 258h0M840 474h0M777 434h0M846 416h0M740 464h0M796 698h0M785 681h0M742 736h0M816 686h0M781 774h0M807 731h0M814 738h0M782 777h0M791 685h0M775 815h0M752 682h0M796 716h0M787 708h0M779 678h0M813 675h0M856 684h0M849 816h0M809 586h0M746 495h0M809 601h0M841 607h0M818 605h0M807 637h0M803 524h0M830 495h0M779 520h0M768 649h0M768 579h0M741 646h0M789 662h0M819 635h0M816 478h0M797 552h0M841 650h0M791 611h0M1048 409h0M1025 437h0M1048 448h0M1089 397h0M1095 429h0M992 382h0M1064 390h0M1059 397h0M1041 453h0M1006 374h0M1017 669h0M1101 614h0M1039 591h0M1054 630h0M1019 687h0M1017 622h0M1017 593h0M1093 730h0M1052 586h0M995 599h0M1033 634h0M1070 681h0M988 737h0M1095 565h0M1074 556h0M1062 569h0M989 461h0M983 546h0M992 493h0M1037 508h0M1016 497h0M1066 526h0M1022 575h0M1071 576h0M1035 508h0M1062 548h0M1053 561h0M1252 373h0M1317 352h0M1256 428h0M1331 388h0M1304 375h0M1272 409h0M1349 806h0M1342 723h0M1276 701h0M1304 625h0M1302 608h0M1232 751h0M1289 699h0M1248 660h0M1282 557h0M1341 526h0M1297 579h0M1299 478h0M1317 535h0M1290 532h0M1292 485h0M1242 549h0M1279 576h0M1559 459h0M1487 389h0M1538 358h0M1536 420h0M1487 454h0M1496 427h0M1532 438h0M1560 739h0M1499 719h0M1588 897h0M1497 650h0M1577 661h0M1519 746h0M1487 738h0M1592 666h0M1509 656h0M1566 660h0M1582 536h0M1489 605h0M1547 553h0M1530 482h0M1601 587h0M1522 470h0M1545 506h0M1491 567h0M1542 620h0M1579 596h0M1480 573h0M1584 567h0M1528 579h0M1553 533h0M1488 617h0M1511 541h0"/>
<path d="M282 313h0M247 335h0M328 645h0M284 602h0M339 609h0M282 706h0M320 680h0M244 639h0M323 675h0M252 344h0M257 587h0M295 463h0M265 380h0M344 438h0M278 378h0M321 544h0M335 584h0M252 483h0M271 408h0M280 376h0M331 393h0M330 400h0M271 403h0M269 417h0M277 559h0M325 528h0M342 400h0M303 473h0M271 374h0M323 545h0M251 571h0M249 530h0M260 346h0M351 511h0M512 365h0M511 306h0M503 654h0M603 622h0M512 665h0M491 611h0M555 612h0M600 775h0M593 660h0M579 444h0M544 425h0M519 493h0M495 554h0M513 600h0M500 380h0M578 462h0M599 457h0M511 509h0M584 595h0M591 485h0M500 469h0M539 503h0M550 428h0M496 556h0M518 446h0M545 383h0M536 507h0M520 586h0M500 558h0M605 395h0M587 508h0M539 590h0M571 507h0M577 485h0M594 833h0M796 438h0M739 473h0M759 283h0M748 380h0M814 329h0M838 300h0M844 366h0M838 476h0M793 389h0M738 671h0M814 687h0M834 671h0M770 736h0M736 693h0M815 797h0M842 733h0M748 718h0M828 709h0M831 691h0M783 619h0M754 660h0M747 569h0M750 563h0M754 596h0M820 494h0M797 516h0M760 659h0M823 520h0M835 598h0M806 616h0M786 483h0M798 527h0M827 495h0M856 505h0M818 489h0M765 585h0M835 551h0M840 572h0M757 540h0M770 637h0M764 548h0M833 659h0M773 643h0M794 575h0M769 633h0M828 502h0M780 513h0M758 534h0M1052 447h0M1032 395h0M1036 379h0M1003 435h0M997 405h0M1049 368h0M1044 444h0M1062 377h0M1105 731h0M990 619h0M1045 703h0M1073 671h0M1048 590h0M1091 606h0M1000 601h0M1088 601h0M1021 647h0M985 642h0M1066 581h0M1042 725h0M994 643h0M1037 619h0M1013 574h0M1023 501h0M1002 524h0M1036 508h0M1020 477h0M1096 542h0M1082 536h0M1068 491h0M1047 528h0M995 541h0M1021 554h0M1000 554h0M1028 545h0M1086 545h0M1024 571h0M995 480h0M1054 535h0M1289 406h0M1308 440h0M1289 354h0M1349 331h0M1241 423h0M1345 417h0M1247 443h0M1338 361h0M1293 358h0M1273 386h0M1292 415h0M1297 429h0M1293 232h0M1282 846h0M1306 697h0M1301 661h0M1321 862h0M1256 657h0M1279 630h0M1343 657h0M1312 623h0M1301 627h0M1251 613h0M1307 645h0M1237 606h0M1313 699h0M1327 597h0M1307 654h0M1331 556h0M1249 490h0M1289 453h0M1235 466h0M1276 449h0M1279 539h0M1287 452h0M1276 468h0M1342 453h0M1249 518h0M1565 355h0M1493 451h0M1539 431h0M1540 445h0M1566 422h0M1489 448h0M1566 727h0M1590 716h0M1538 773h0M1601 936h0M1544 688h0M1495 691h0M1534 754h0M1588 749h0M1552 641h0M1541 735h0M1536 811h0M1544 669h0M1517 733h0M1552 710h0M1540 684h0M1497 645h0M1500 580h0M1509 615h0M1556 572h0M1496 546h0M1545 521h0M1584 480h0M1509 465h0M1565 591h0M1488 590h0M1527 610h0M1481 588h0M1565 472h0M1515 602h0M1528 570h0M1549 539h0M1578 619h0M1544 502h0M1565 548h0M1601 490h0M1591 525h0M1596 471h0M1544 595h0M1541 484h0"/>
<path d="M308 671h0M291 642h0M349 681h0M356 679h0M312 646h0M274 661h0M281 636h0M279 762h0M355 778h0M307 596h0M353 678h0M329 769h0M274 669h0M291 594h0M317 343h0M304 572h0M288 547h0M361 372h0M342 575h0M305 472h0M310 477h0M285 519h0M358 484h0M345 448h0M290 421h0M332 428h0M324 439h0M306 582h0M349 402h0M358 392h0M258 384h0M300 455h0M250 574h0M298 365h0M289 541h0M253 408h0M327 347h0M286 493h0M330 400h0M334 546h0M514 373h0M577 374h0M538 357h0M526 356h0M581 365h0M502 760h0M536 644h0M593 644h0M565 651h0M609 678h0M516 679h0M603 685h0M546 695h0M488 648h0M512 650h0M501 636h0M530 617h0M505 660h0M503 614h0M584 705h0M492 634h0M587 396h0M577 412h0M572 486h0M526 379h0M592 564h0M592 493h0M562 414h0M596 431h0M596 416h0M539 438h0M526 523h0M547 531h0M536 495h0M541 426h0M587 489h0M493 440h0M576 483h0M498 512h0M547 429h0M598 566h0M564 419h0M529 459h0M513 539h0M604 486h0M543 530h0M537 445h0M567 500h0M609 551h0M598 465h0M504 603h0M522 480h0M555 382h0M828 279h0M744 366h0M843 359h0M794 444h0M835 366h0M855 429h0M833 470h0M798 453h0M835 428h0M781 284h0M778 439h0M741 379h0M753 360h0M797 364h0M762 337h0M738 450h0M833 441h0M780 423h0M744 868h0M779 694h0M738 752h0M780 786h0M792 695h0M844 690h0M798 747h0M776 690h0M845 685h0M767 661h0M738 544h0M858 655h0M751 525h0M823 559h0M811 633h0M805 519h0M744 595h0M756 638h0M794 562h0M790 623h0M813 661h0M855 560h0M792 564h0M854 625h0M738 551h0M847 658h0M806 479h0M793 510h0M741 486h0M760 501h0M761 664h0M831 495h0M808 510h0M776 660h0M739 635h0M1020 396h0M989 436h0M1051 322h0M1077 331h0M1064 355h0M1079 384h0M1058 392h0M989 396h0M1018 448h0M1006 397h0M1020 393h0M1028 451h0M1089 455h0M1000 408h0M1087 385h0M1086 646h0M1022 597h0M998 743h0M1040 635h0M1029 631h0M1071 591h0M1049 854h0M985 652h0M999 850h0M1050 638h0M1043 634h0M1097 483h0M1018 509h0M1029 539h0M991 518h0M1000 558h0M1097 513h0M1090 470h0M1050 526h0M1059 516h0M1101 542h0M1008 490h0M1025 553h0M1079 478h0M1293 366h0M1304 433h0M1236 383h0M1313 376h0M1330 315h0M1330 414h0M1339 616h0M1353 625h0M1285 678h0M1271 667h0M1300 638h0M1349 771h0M1337 695h0M1279 664h0M1264 635h0M1250 686h0M1255 802h0M1262 756h0M1268 730h0M1243 658h0M1270 810h0M1283 600h0M1283 775h0M1327 637h0M1281 728h0M1243 691h0M1234 627h0M1239 671h0M1323 512h0M1269 514h0M1277 521h0M1353 531h0M1248 477h0M1274 481h0M1294 519h0M1317 554h0M1262 530h0M1265 484h0M1276 574h0M1310 555h0M1330 540h0M1296 589h0M1349 482h0M1321 587h0M1334 453h0M1275 573h0M1502 392h0M1490 387h0M1486 430h0M1536 434h0M1521 693h0M1585 649h0M1521 650h0M1595 748h0M1582 718h0M1510 767h0M1503 728h0M1529 658h0M1506 851h0M1525 684h0M1597 701h0M1548 700h0M1584 719h0M1561 650h0M1599 611h0M1514 518h0M1579 460h0M1495 512h0M1499 611h0M1480 468h0M1516 562h0M1565 545h0M1492 626h0M1599 554h0M1502 567h0M1599 531h0M1512 590h0M1601 490h0M1496 557h0M1578 486h0M1528 581h0M1554 621h0M1536 624h0M1553 586h0M1543 329h0"/>
<path d="M302 289h0M249 329h0M252 623h0M279 681h0M306 595h0M320 667h0M353 611h0M357 742h0M310 699h0M242 645h0M293 674h0M240 627h0M247 635h0M316 644h0M307 609h0M344 744h0M328 753h0M303 610h0M316 488h0M343 389h0M250 443h0M276 514h0M251 395h0M359 466h0M309 479h0M295 455h0M242 474h0M284 367h0M243 357h0M244 421h0M300 558h0M309 351h0M324 544h0M303 523h0M310 350h0M260 516h0M358 545h0M298 348h0M331 509h0M329 395h0M295 423h0M330 492h0M281 374h0M309 509h0M241 497h0M296 343h0M347 403h0M346 443h0M292 233h0M599 376h0M548 355h0M535 377h0M505 354h0M497 283h0M545 348h0M525 308h0M499 371h0M543 672h0M521 710h0M593 705h0M547 647h0M567 779h0M543 750h0M549 700h0M592 703h0M510 664h0M607 716h0M568 618h0M547 706h0M511 633h0M558 676h0M572 643h0M584 531h0M565 447h0M525 534h0M606 547h0M556 442h0M522 490h0M513 557h0M599 430h0M491 568h0M544 444h0M596 589h0M499 530h0M513 602h0M516 584h0M543 598h0M842 355h0M821 389h0M852 393h0M849 440h0M838 451h0M790 356h0M754 369h0M744 454h0M816 420h0M812 677h0M858 746h0M799 804h0M855 683h0M780 746h0M829 703h0M749 687h0M748 751h0M778 695h0M829 735h0M833 702h0M759 789h0M748 769h0M799 723h0M760 536h0M847 647h0M755 511h0M842 646h0M759 537h0M840 542h0M793 635h0M754 638h0M769 530h0M809 661h0M832 501h0M810 596h0M793 585h0M745 539h0M803 521h0M777 559h0M764 606h0M787 570h0M769 627h0M805 607h0M743 663h0M770 649h0M788 488h0M828 487h0M832 591h0M1042 431h0M1077 405h0M1076 452h0M1045 315h0M1096 377h0M1096 407h0M994 454h0M1004 394h0M1011 439h0M1042 453h0M1068 313h0M1037 453h0M1024 419h0M985 372h0M1033 309h0M1076 388h0M1097 454h0M1053 370h0M1007 433h0M1048 709h0M1005 623h0M1032 591h0M1090 648h0M987 590h0M1048 728h0M1038 657h0M1023 656h0M1023 655h0M1003 608h0M1024 661h0M1089 620h0M1048 816h0M1091 657h0M1014 727h0M1087 507h0M1008 462h0M1053 517h0M1068 540h0M1104 470h0M1014 567h0M1058 574h0M1302 436h0M1301 392h0M1323 411h0M1298 438h0M1282 389h0M1304 387h0M1237 394h0M1281 391h0M1298 413h0M1277 661h0M1301 647h0M1302 727h0M1251 617h0M1308 713h0M1279 612h0M1269 721h0M1297 674h0M1332 597h0M1349 772h0M1250 608h0M1338 829h0M1293 586h0M1318 495h0M1314 526h0M1319 481h0M1342 539h0M1257 510h0M1264 579h0M1304 494h0M1304 532h0M1252 927h0M1527 400h0M1533 441h0M1561 320h0M1575 386h0M1569 437h0M1484 432h0M1543 427h0M1554 443h0M1600 828h0M1527 672h0M1503 717h0M1511 811h0M1532 638h0M1482 882h0M1510 829h0M1484 672h0M1591 726h0M1505 699h0M1519 631h0M1499 615h0M1543 552h0M1504 599h0M1504 585h0M1528 464h0M1521 546h0M1593 487h0M1543 544h0M1592 593h0M1550 604h0M1520 510h0M1555 568h0M1509 492h0M1594 620h0M1601 578h0M1597 580h0M1485 610h0M1548 615h0M1597 595h0M1567 341h0"/>
<path d="M360 329h0M262 318h0M288 619h0M331 624h0M265 614h0M361 678h0M344 683h0M271 619h0M348 598h0M294 617h0M315 599h0M326 664h0M276 586h0M279 524h0M295 413h0M288 340h0M254 493h0M330 350h0M355 468h0M293 547h0M317 392h0M276 565h0M355 466h0M250 439h0M240 520h0M310 360h0M286 397h0M327 392h0M326 549h0M286 411h0M265 390h0M358 371h0M249 484h0M316 340h0M298 348h0M301 424h0M303 440h0M332 485h0M274 483h0M552 378h0M537 313h0M566 329h0M495 354h0M561 372h0M590 369h0M545 313h0M515 624h0M562 647h0M495 649h0M501 640h0M570 663h0M524 677h0M517 625h0M550 693h0M547 635h0M527 401h0M529 495h0M511 478h0M583 575h0M498 409h0M595 455h0M550 472h0M567 534h0M593 523h0M520 447h0M502 534h0M585 569h0M586 503h0M543 503h0M591 401h0M494 581h0M517 437h0M569 564h0M606 594h0M531 436h0M572 469h0M493 827h0M803 426h0M798 446h0M804 476h0M844 470h0M839 452h0M812 394h0M742 470h0M758 394h0M781 343h0M825 693h0M737 758h0M754 773h0M744 733h0M832 668h0M791 678h0M816 692h0M755 753h0M812 755h0M841 771h0M829 834h0M830 508h0M762 574h0M829 625h0M853 545h0M827 636h0M813 533h0M822 603h0M849 517h0M747 543h0M797 517h0M859 599h0M789 522h0M835 623h0M759 613h0M739 647h0M769 632h0M787 598h0M824 481h0M808 552h0M760 571h0M831 567h0M738 558h0M839 583h0M822 571h0M785 586h0M856 525h0M775 596h0M821 648h0M1067 421h0M1029 383h0M1010 416h0M1056 373h0M1072 453h0M1083 398h0M1018 341h0M1006 276h0M1089 346h0M1008 362h0M995 452h0M983 417h0M1085 376h0M1049 739h0M999 717h0M1096 806h0M1082 752h0M1104 704h0M1015 670h0M1046 623h0M1015 734h0M983 628h0M1058 672h0M1020 580h0M1073 667h0M1046 584h0M1015 604h0M1046 623h0M1016 638h0M1037 520h0M1092 520h0M1074 563h0M1048 509h0M1014 459h0M1039 523h0M1038 544h0M1079 507h0M1007 571h0M1075 574h0M1091 487h0M1063 482h0M1053 520h0M1302 446h0M1241 417h0M1319 403h0M1333 303h0M1234 400h0M1231 430h0M1291 371h0M1242 253h0M1262 399h0M1270 373h0M1236 387h0M1256 359h0M1257 670h0M1282 687h0M1350 632h0M1348 610h0M1273 644h0M1251 627h0M1308 699h0M1294 607h0M1261 691h0M1256 616h0M1286 724h0M1275 612h0M1281 814h0M1257 749h0M1298 682h0M1320 645h0M1267 717h0M1288 672h0M1239 623h0M1306 677h0M1322 549h0M1282 455h0M1232 448h0M1294 543h0M1247 536h0M1323 522h0M1232 479h0M1238 483h0M1285 555h0M1254 534h0M1241 460h0M1350 472h0M1308 522h0M1322 496h0M1320 556h0M1340 530h0M1351 567h0M1513 455h0M1514 313h0M1516 446h0M1481 431h0M1569 400h0M1597 754h0M1524 635h0M1561 687h0M1566 670h0M1592 769h0M1519 680h0M1575 765h0M1531 642h0M1571 772h0M1561 813h0M1532 737h0M1515 583h0M1531 553h0M1575 619h0M1521 602h0M1499 502h0M1557 567h0M1580 604h0M1500 560h0M1492 461h0M1576 596h0M1507 461h0M1597 473h0M1493 628h0M1532 576h0M1542 542h0M1572 460h0M1543 482h0M1544 513h0M1512 503h0M1527 571h0M1547 586h0M1480 627h0M1596 500h0M1586 607h0M1601 318h0"/>
<path d="M322 333h0M358 312h0M334 606h0M359 666h0M340 656h0M279 613h0M243 602h0M356 611h0M271 680h0M351 711h0M260 622h0M315 610h0M320 775h0M363 612h0M307 526h0M312 576h0M244 554h0M253 546h0M311 484h0M282 490h0M256 356h0M258 419h0M304 506h0M268 481h0M272 459h0M240 449h0M328 514h0M247 585h0M244 405h0M248 375h0M297 490h0M326 417h0M240 586h0M361 463h0M333 445h0M245 460h0M299 447h0M329 363h0M308 553h0M289 374h0M243 410h0M349 392h0M293 523h0M317 545h0M320 526h0M586 333h0M548 287h0M584 377h0M533 377h0M508 279h0M546 373h0M524 300h0M494 334h0M494 347h0M548 346h0M573 323h0M546 642h0M582 647h0M594 697h0M589 682h0M499 630h0M525 653h0M502 620h0M610 649h0M557 522h0M522 414h0M560 595h0M537 496h0M513 575h0M600 570h0M573 510h0M520 386h0M489 443h0M573 408h0M592 437h0M588 547h0M514 380h0M610 499h0M541 402h0M563 453h0M594 507h0M588 554h0M546 558h0M554 608h0M558 504h0M558 466h0M569 518h0M609 517h0M554 531h0M830 422h0M844 406h0M787 407h0M796 447h0M765 371h0M804 463h0M802 472h0M770 406h0M739 401h0M737 399h0M749 454h0M847 463h0M838 396h0M756 472h0M825 724h0M814 737h0M741 823h0M753 709h0M767 822h0M783 749h0M807 692h0M759 859h0M816 770h0M777 775h0M806 789h0M833 622h0M854 540h0M771 613h0M856 491h0M845 662h0M841 608h0M765 665h0M762 557h0M784 495h0M782 492h0M774 484h0M797 627h0M855 548h0M790 550h0M773 561h0M789 533h0M847 616h0M826 655h0M800 523h0M814 622h0M757 566h0M819 666h0M850 661h0M754 615h0M760 594h0M847 635h0M857 593h0M802 557h0M769 588h0M747 519h0M744 590h0M1039 366h0M1079 443h0M1033 305h0M1100 441h0M1088 345h0M1060 429h0M1100 318h0M989 420h0M1045 373h0M1010 365h0M1093 430h0M1063 437h0M1085 338h0M991 435h0M1021 378h0M1076 458h0M987 700h0M1033 755h0M1100 751h0M1022 629h0M1050 589h0M988 677h0M1035 586h0M1049 633h0M997 526h0M1058 500h0M1030 509h0M1005 480h0M1001 542h0M1041 503h0M1027 507h0M1097 504h0M992 487h0M1028 490h0M1081 502h0M1062 510h0M1323 436h0M1327 325h0M1265 445h0M1279 392h0M1278 416h0M1260 366h0M1337 387h0M1315 397h0M1323 368h0M1233 360h0M1249 250h0M1316 656h0M1258 631h0M1302 654h0M1262 691h0M1342 840h0M1274 651h0M1318 626h0M1245 654h0M1353 729h0M1320 656h0M1324 673h0M1232 608h0M1326 748h0M1321 702h0M1324 801h0M1291 619h0M1275 470h0M1316 586h0M1306 581h0M1347 573h0M1332 456h0M1249 510h0M1247 588h0M1262 579h0M1265 520h0M1303 531h0M1235 525h0M1534 335h0M1527 438h0M1492 458h0M1557 453h0M1500 407h0M1528 446h0M1481 389h0M1533 433h0M1539 453h0M1511 359h0M1534 429h0M1542 659h0M1545 808h0M1536 774h0M1566 646h0M1551 670h0M1520 665h0M1592 668h0M1560 657h0M1524 642h0M1576 638h0M1539 729h0M1576 652h0M1478 578h0M1556 540h0M1592 506h0M1573 573h0M1590 502h0M1564 593h0M1588 474h0M1555 580h0M1498 621h0M1520 479h0M1589 615h0M1522 589h0M1523 607h0M1592 569h0M1600 468h0M1596 584h0M1505 627h0M1510 604h0M1569 602h0M1590 345h0M1592 306h0"/>
<path d="M350 326h0M340 334h0M255 290h0M286 323h0M272 332h0M291 314h0M312 707h0M261 691h0M321 620h0M320 639h0M254 601h0M280 594h0M292 358h0M265 480h0M283 358h0M293 494h0M261 514h0M332 559h0M341 511h0M304 550h0M292 536h0M256 345h0M318 449h0M286 473h0M273 516h0M264 497h0M304 497h0M355 497h0M302 492h0M300 388h0M362 355h0M259 440h0M334 382h0M240 496h0M273 544h0M275 525h0M333 576h0M259 344h0M334 399h0M327 428h0M328 395h0M333 430h0M278 437h0M309 451h0M334 481h0M307 576h0M300 521h0M360 381h0M503 363h0M590 365h0M526 336h0M501 350h0M610 274h0M518 368h0M591 354h0M568 349h0M583 340h0M510 326h0M598 622h0M583 660h0M574 695h0M607 613h0M520 654h0M499 623h0M499 680h0M516 631h0M571 620h0M608 683h0M522 649h0M608 655h0M579 532h0M573 464h0M593 433h0M551 541h0M544 395h0M551 405h0M587 523h0M590 433h0M528 466h0M564 439h0M525 515h0M587 546h0M522 504h0M538 436h0M569 429h0M583 481h0M588 461h0M587 540h0M532 424h0M768 376h0M835 466h0M782 476h0M815 438h0M850 428h0M755 372h0M853 275h0M741 468h0M763 409h0M768 471h0M792 416h0M814 451h0M799 326h0M831 370h0M819 797h0M808 741h0M786 676h0M804 717h0M760 691h0M798 832h0M765 671h0M845 727h0M853 829h0M756 736h0M758 823h0M810 624h0M807 596h0M789 566h0M832 512h0M854 663h0M852 601h0M757 637h0M781 526h0M816 603h0M838 595h0M820 621h0M773 640h0M852 514h0M740 513h0M849 531h0M765 551h0M761 616h0M795 561h0M846 578h0M1024 403h0M1078 376h0M1061 401h0M1101 447h0M1035 443h0M1079 383h0M1047 404h0M1057 445h0M983 380h0M1029 626h0M1078 764h0M1057 727h0M1004 714h0M1089 810h0M996 706h0M1015 605h0M1052 680h0M994 674h0M998 580h0M995 615h0M995 664h0M1097 655h0M1069 550h0M1064 477h0M1055 544h0M1065 493h0M994 575h0M1046 483h0M1068 536h0M1062 542h0M1353 420h0M1322 334h0M1325 314h0M1248 399h0M1270 726h0M1342 689h0M1305 693h0M1331 615h0M1263 604h0M1304 778h0M1342 698h0M1245 729h0M1307 601h0M1330 773h0M1254 595h0M1279 729h0M1287 646h0M1257 722h0M1276 687h0M1346 647h0M1343 644h0M1308 511h0M1283 511h0M1316 586h0M1311 593h0M1245 505h0M1268 508h0M1309 522h0M1288 562h0M1344 589h0M1247 546h0M1257 562h0M1238 514h0M1250 514h0M1299 535h0M1544 434h0M1591 450h0M1590 443h0M1580 411h0M1600 408h0M1491 419h0M1515 437h0M1588 434h0M1541 417h0M1564 401h0M1510 435h0M1515 401h0M1489 424h0M1490 665h0M1543 763h0M1569 750h0M1500 698h0M1572 681h0M1501 716h0M1577 662h0M1493 685h0M1502 792h0M1571 634h0M1488 715h0M1534 713h0M1517 696h0M1566 640h0M1510 757h0M1565 665h0M1515 797h0M1492 631h0M1592 742h0M1495 846h0M1561 830h0M1569 568h0M1551 461h0M1525 540h0M1596 508h0M1509 532h0M1595 605h0M1586 489h0M1515 597h0M1491 482h0M1547 532h0M1569 515h0"/>
<path d="M296 321h0M241 309h0M342 327h0M242 320h0M277 329h0M335 734h0M303 618h0M302 738h0M263 594h0M259 612h0M325 607h0M330 602h0M309 591h0M298 647h0M249 563h0M340 417h0M358 448h0M242 463h0M348 450h0M252 504h0M264 512h0M263 487h0M340 494h0M253 485h0M330 393h0M246 396h0M305 430h0M273 424h0M268 574h0M252 371h0M251 543h0M265 393h0M249 339h0M356 423h0M291 406h0M358 419h0M248 373h0M256 411h0M350 343h0M302 512h0M265 540h0M359 513h0M247 347h0M355 581h0M241 525h0M276 448h0M337 487h0M286 525h0M500 372h0M494 350h0M548 378h0M537 367h0M550 361h0M504 353h0M513 330h0M587 368h0M579 355h0M490 668h0M594 651h0M595 625h0M548 648h0M539 669h0M561 619h0M590 625h0M575 487h0M558 540h0M488 546h0M603 533h0M595 391h0M490 439h0M596 482h0M592 502h0M530 467h0M603 433h0M496 485h0M499 575h0M505 589h0M553 438h0M586 431h0M541 588h0M526 386h0M494 558h0M551 579h0M591 522h0M547 528h0M589 528h0M584 549h0M606 425h0M534 544h0M570 493h0M508 522h0M588 399h0M492 427h0M781 440h0M825 380h0M858 345h0M796 474h0M791 432h0M758 400h0M737 363h0M797 402h0M744 477h0M760 457h0M751 471h0M814 411h0M796 414h0M809 381h0M784 324h0M776 469h0M793 377h0M857 431h0M816 324h0M855 452h0M835 399h0M735 475h0M788 458h0M742 405h0M761 465h0M767 717h0M825 715h0M824 729h0M848 682h0M763 818h0M766 703h0M825 729h0M831 786h0M756 698h0M737 793h0M780 670h0M828 755h0M817 688h0M802 749h0M739 677h0M771 667h0M852 665h0M753 511h0M831 559h0M821 638h0M776 593h0M747 549h0M858 606h0M806 502h0M858 620h0M803 641h0M838 606h0M782 503h0M801 577h0M763 497h0M845 536h0M760 557h0M781 612h0M803 525h0M849 571h0M809 623h0M812 554h0M790 666h0M822 527h0M798 510h0M1032 448h0M1087 447h0M1051 388h0M1053 338h0M1045 359h0M1091 306h0M1056 320h0M1035 255h0M1008 379h0M999 442h0M1105 667h0M1006 660h0M993 686h0M992 578h0M1093 735h0M1046 597h0M1042 748h0M1035 637h0M1088 680h0M1031 613h0M984 584h0M1018 591h0M1058 602h0M1026 709h0M1025 587h0M1064 555h0M1006 559h0M1030 547h0M1071 528h0M1083 498h0M1084 458h0M1014 493h0M1020 559h0M1033 459h0M1022 504h0M1052 498h0M1004 492h0M1070 489h0M1084 567h0M1006 484h0M1042 459h0M1065 496h0M1103 460h0M1286 423h0M1336 427h0M1246 311h0M1316 391h0M1232 389h0M1254 419h0M1281 283h0M1321 440h0M1323 404h0M1351 316h0M1287 631h0M1337 750h0M1277 703h0M1230 647h0M1241 642h0M1279 720h0M1291 720h0M1231 741h0M1233 872h0M1304 691h0M1246 652h0M1349 693h0M1293 842h0M1305 643h0M1262 606h0M1311 721h0M1231 764h0M1313 523h0M1291 588h0M1302 472h0M1354 508h0M1278 503h0M1339 505h0M1319 587h0M1347 581h0M1311 528h0M1265 475h0M1339 574h0M1345 506h0M1349 543h0M1290 513h0M1234 564h0M1303 569h0M1287 567h0M1264 481h0M1590 384h0M1592 425h0M1560 432h0M1485 458h0M1535 390h0M1506 440h0M1485 402h0M1495 407h0M1494 366h0M1478 438h0M1543 453h0M1588 665h0M1503 711h0M1519 785h0M1483 647h0M1570 639h0M1571 553h0M1593 584h0M1596 560h0M1485 558h0M1571 586h0M1501 531h0M1573 543h0M1573 509h0M1539 624h0M1590 528h0M1582 500h0M1556 496h0M1486 535h0M1555 573h0M1562 559h0M1569 484h0M1522 478h0M1492 477h0M1483 336h0M1549 982h0"/>
<path d="M341 299h0M244 307h0M252 335h0M315 614h0M356 720h0M242 603h0M349 597h0M252 752h0M351 647h0M270 650h0M309 626h0M299 661h0M360 616h0M355 747h0M335 730h0M286 604h0M336 760h0M287 482h0M281 479h0M261 569h0M362 477h0M299 365h0M248 428h0M317 396h0M343 510h0M348 560h0M314 372h0M291 408h0M308 356h0M321 361h0M307 386h0M292 537h0M268 365h0M351 436h0M310 385h0M291 381h0M246 554h0M307 586h0M306 404h0M345 396h0M267 793h0M321 793h0M505 304h0M515 361h0M593 738h0M542 648h0M499 713h0M580 616h0M489 686h0M544 662h0M515 634h0M495 639h0M537 782h0M598 455h0M493 454h0M591 528h0M583 467h0M491 527h0M574 433h0M555 563h0M543 594h0M560 498h0M606 562h0M574 570h0M505 381h0M490 437h0M539 486h0M604 442h0M572 436h0M518 575h0M599 588h0M528 562h0M521 465h0M493 449h0M530 565h0M593 574h0M598 536h0M505 581h0M590 418h0M510 510h0M494 874h0M803 427h0M742 380h0M849 475h0M772 424h0M775 444h0M838 426h0M742 340h0M738 465h0M829 400h0M804 418h0M827 424h0M742 474h0M845 456h0M738 771h0M761 700h0M764 718h0M855 671h0M794 730h0M763 683h0M856 688h0M846 807h0M851 693h0M800 809h0M836 692h0M816 635h0M807 486h0M806 486h0M748 541h0M832 560h0M782 643h0M795 657h0M751 568h0M799 591h0M747 517h0M807 590h0M857 559h0M794 524h0M826 516h0M782 639h0M830 526h0M737 583h0M789 620h0M840 619h0M737 627h0M849 596h0M764 602h0M1043 452h0M989 395h0M988 417h0M1072 314h0M1083 347h0M1054 408h0M1068 419h0M1058 422h0M1056 305h0M1073 442h0M1032 314h0M1056 299h0M983 426h0M1083 415h0M1020 250h0M1029 452h0M1006 452h0M1075 380h0M1057 621h0M1032 634h0M1019 598h0M1000 731h0M1057 577h0M1090 621h0M1072 640h0M1078 661h0M983 622h0M1070 587h0M1050 673h0M1025 584h0M1047 606h0M1042 622h0M1070 667h0M1028 627h0M1045 533h0M1022 490h0M1087 509h0M1005 500h0M998 536h0M1088 515h0M1071 482h0M1083 508h0M1025 475h0M1063 478h0M997 493h0M1078 525h0M1342 397h0M1265 428h0M1320 423h0M1291 355h0M1250 430h0M1319 396h0M1284 648h0M1272 611h0M1263 707h0M1333 726h0M1231 690h0M1282 656h0M1276 771h0M1271 733h0M1323 813h0M1273 597h0M1332 631h0M1251 687h0M1273 628h0M1330 574h0M1252 483h0M1294 525h0M1349 457h0M1326 557h0M1338 472h0M1330 476h0M1244 571h0M1232 548h0M1345 510h0M1237 582h0M1300 560h0M1304 501h0M1322 567h0M1272 504h0M1346 457h0M1331 449h0M1542 435h0M1570 458h0M1594 392h0M1547 405h0M1521 435h0M1490 350h0M1584 460h0M1480 444h0M1558 398h0M1547 450h0M1502 379h0M1525 452h0M1557 791h0M1489 651h0M1480 650h0M1574 706h0M1533 820h0M1540 737h0M1500 770h0M1596 765h0M1550 800h0M1529 705h0M1578 735h0M1595 644h0M1492 715h0M1545 715h0M1542 689h0M1595 462h0M1519 467h0M1541 559h0M1534 537h0M1528 492h0M1568 518h0M1573 524h0M1500 585h0M1520 480h0M1568 489h0M1539 519h0M1591 462h0M1595 555h0M1558 588h0M1578 556h0M1569 507h0M1512 479h0M1542 532h0M1559 527h0M1567 527h0M1546 544h0M1569 307h0"/>
<path d="M354 330h0M320 333h0M296 301h0M274 326h0M303 328h0M269 328h0M284 635h0M246 670h0M245 729h0M354 629h0M341 635h0M243 604h0M254 689h0M261 614h0M265 690h0M265 668h0M310 713h0M240 561h0M265 476h0M333 388h0M293 516h0M356 512h0M283 550h0M340 372h0M248 577h0M321 512h0M343 554h0M288 460h0M273 558h0M303 424h0M318 513h0M341 351h0M298 485h0M256 558h0M254 497h0M267 425h0M308 387h0M302 514h0M340 473h0M248 516h0M325 487h0M339 445h0M307 540h0M274 580h0M291 373h0M253 391h0M337 552h0M335 451h0M588 360h0M505 356h0M548 362h0M530 326h0M576 270h0M537 647h0M530 694h0M561 699h0M553 680h0M518 624h0M600 664h0M571 609h0M496 643h0M549 659h0M544 693h0M593 637h0M514 669h0M507 513h0M587 494h0M570 462h0M550 549h0M493 583h0M562 529h0M602 382h0M585 568h0M607 537h0M492 592h0M513 483h0M518 593h0M560 498h0M566 603h0M492 442h0M609 433h0M535 602h0M495 413h0M578 474h0M549 513h0M756 472h0M775 475h0M785 412h0M787 418h0M810 426h0M742 347h0M856 469h0M739 423h0M749 356h0M743 441h0M857 443h0M736 457h0M794 453h0M738 701h0M844 674h0M789 697h0M774 778h0M832 773h0M783 828h0M815 845h0M769 687h0M829 707h0M745 759h0M766 633h0M755 620h0M830 605h0M796 555h0M798 644h0M853 631h0M850 550h0M834 605h0M796 661h0M827 666h0M846 531h0M854 593h0M829 505h0M852 481h0M790 604h0M858 613h0M805 495h0M827 624h0M747 533h0M745 594h0M796 608h0M815 644h0M1057 406h0M1016 326h0M1015 456h0M1001 401h0M1058 430h0M1009 424h0M1059 397h0M1029 414h0M1014 426h0M985 352h0M1079 437h0M1059 275h0M1018 416h0M1075 348h0M1079 725h0M1062 635h0M1021 595h0M1081 745h0M1074 603h0M1087 625h0M1012 631h0M1068 613h0M988 669h0M991 643h0M1099 669h0M1034 496h0M1104 506h0M1105 561h0M1010 552h0M1009 497h0M1063 570h0M1056 541h0M998 542h0M988 565h0M1080 539h0M1036 562h0M1312 361h0M1340 435h0M1311 404h0M1309 415h0M1255 347h0M1344 423h0M1334 390h0M1239 318h0M1294 284h0M1344 394h0M1312 396h0M1348 431h0M1298 600h0M1254 743h0M1347 675h0M1257 716h0M1284 682h0M1238 665h0M1260 668h0M1277 819h0M1334 642h0M1327 620h0M1282 657h0M1278 706h0M1351 710h0M1266 748h0M1266 608h0M1291 613h0M1309 636h0M1329 618h0M1322 495h0M1330 452h0M1231 514h0M1311 510h0M1230 537h0M1273 517h0M1268 495h0M1338 490h0M1263 579h0M1245 523h0M1302 591h0M1298 475h0M1279 486h0M1265 547h0M1281 583h0M1329 578h0M1290 526h0M1292 994h0M1507 386h0M1557 428h0M1493 398h0M1588 411h0M1514 384h0M1569 421h0M1549 457h0M1530 285h0M1544 437h0M1570 451h0M1513 655h0M1566 717h0M1555 650h0M1575 675h0M1502 699h0M1591 665h0M1555 673h0M1559 792h0M1491 660h0M1518 824h0M1555 684h0M1498 875h0M1507 724h0M1540 655h0M1543 698h0M1495 637h0M1541 500h0M1539 610h0M1519 615h0M1541 493h0M1504 466h0M1513 575h0M1530 623h0M1505 515h0M1559 628h0M1481 568h0M1531 564h0M1529 611h0M1595 540h0M1519 481h0M1533 512h0M1593 544h0M1503 593h0M1552 493h0M1483 315h0"/>
<path d="M246 335h0M335 281h0M326 306h0M324 609h0M295 589h0M265 602h0M288 662h0M269 710h0M313 664h0M260 625h0M308 618h0M361 640h0M350 616h0M305 610h0M273 614h0M324 641h0M270 712h0M290 642h0M326 683h0M287 525h0M317 526h0M260 378h0M334 561h0M332 564h0M297 356h0M298 410h0M260 543h0M249 562h0M317 502h0M298 473h0M245 345h0M269 515h0M360 526h0M290 377h0M324 508h0M512 334h0M507 378h0M489 375h0M509 334h0M563 341h0M581 378h0M553 374h0M564 657h0M595 667h0M575 673h0M529 702h0M518 705h0M593 629h0M571 683h0M519 685h0M580 626h0M571 700h0M588 649h0M509 629h0M595 465h0M587 482h0M520 555h0M516 512h0M557 502h0M573 422h0M515 534h0M507 473h0M581 552h0M493 431h0M490 388h0M527 549h0M587 513h0M591 400h0M565 510h0M543 560h0M571 396h0M554 395h0M523 479h0M573 456h0M604 594h0M571 489h0M535 564h0M563 542h0M508 507h0M577 522h0M582 407h0M499 451h0M533 473h0M599 553h0M490 539h0M544 379h0M545 427h0M514 546h0M573 423h0M804 415h0M781 410h0M803 423h0M797 384h0M857 466h0M840 468h0M792 424h0M768 387h0M740 761h0M749 788h0M834 674h0M817 768h0M741 668h0M779 739h0M788 740h0M775 835h0M843 748h0M806 708h0M794 761h0M787 699h0M833 775h0M749 851h0M828 743h0M743 603h0M766 574h0M782 666h0M825 549h0M846 510h0M780 499h0M802 518h0M842 655h0M762 643h0M760 502h0M785 504h0M743 628h0M784 659h0M826 506h0M764 521h0M750 513h0M819 619h0M1020 401h0M990 426h0M1005 324h0M1028 408h0M1079 411h0M1086 426h0M1019 282h0M1079 302h0M1024 428h0M1057 610h0M1084 645h0M998 580h0M1014 658h0M1088 599h0M1033 612h0M1062 606h0M1096 652h0M1024 829h0M1011 656h0M1102 595h0M1043 645h0M1018 581h0M1078 686h0M1032 626h0M1019 588h0M1070 632h0M991 505h0M1077 500h0M1061 513h0M1054 548h0M1086 561h0M1071 528h0M1047 499h0M995 559h0M1032 567h0M1082 495h0M1095 526h0M985 514h0M1014 878h0M1329 446h0M1309 436h0M1254 431h0M1267 447h0M1252 331h0M1340 445h0M1292 397h0M1307 321h0M1339 353h0M1277 397h0M1280 445h0M1292 793h0M1295 750h0M1268 677h0M1351 616h0M1313 631h0M1317 643h0M1264 631h0M1283 707h0M1273 683h0M1296 708h0M1336 669h0M1350 615h0M1269 482h0M1260 526h0M1286 547h0M1243 568h0M1323 491h0M1235 521h0M1322 492h0M1231 533h0M1300 520h0M1320 511h0M1269 547h0M1274 588h0M1538 362h0M1506 456h0M1493 356h0M1519 338h0M1533 412h0M1492 375h0M1536 438h0M1532 412h0M1505 397h0M1549 753h0M1487 670h0M1537 846h0M1590 631h0M1540 710h0M1522 766h0M1523 808h0M1537 708h0M1584 749h0M1532 814h0M1542 635h0M1527 883h0M1582 717h0M1600 638h0M1601 906h0M1570 588h0M1509 483h0M1541 601h0M1537 466h0M1555 564h0M1558 465h0M1583 580h0M1534 581h0M1487 624h0M1545 494h0M1553 465h0M1536 619h0M1527 589h0M1572 552h0M1595 580h0M1500 588h0M1494 567h0M1579 524h0M1539 606h0M1599 607h0M1521 587h0M1582 523h0"/>
<path d="M357 320h0M318 335h0M274 310h0M326 337h0M357 332h0M356 337h0M333 329h0M356 600h0M295 627h0M340 683h0M310 664h0M304 681h0M353 590h0M309 657h0M348 732h0M270 692h0M359 498h0M310 448h0M298 409h0M308 564h0M284 568h0M247 554h0M349 546h0M358 577h0M328 347h0M296 555h0M361 535h0M326 565h0M273 535h0M322 482h0M288 414h0M277 401h0M260 403h0M265 501h0M272 396h0M359 412h0M284 568h0M314 410h0M248 449h0M332 375h0M270 806h0M554 336h0M572 365h0M493 355h0M515 352h0M590 352h0M524 706h0M533 776h0M490 614h0M546 619h0M590 704h0M584 611h0M491 660h0M489 617h0M562 628h0M527 416h0M606 523h0M493 394h0M536 407h0M512 522h0M514 564h0M489 478h0M598 528h0M511 409h0M511 592h0M500 547h0M572 487h0M537 429h0M595 545h0M559 421h0M568 590h0M553 441h0M572 532h0M540 605h0M537 434h0M594 591h0M578 570h0M534 530h0M600 581h0M605 471h0M571 539h0M500 423h0M568 525h0M537 550h0M580 887h0M807 427h0M746 401h0M851 472h0M838 394h0M786 362h0M828 477h0M847 465h0M812 412h0M830 467h0M829 386h0M797 391h0M847 442h0M830 684h0M785 711h0M792 707h0M762 695h0M854 794h0M836 681h0M828 697h0M741 784h0M776 703h0M827 802h0M831 723h0M772 711h0M770 772h0M784 613h0M810 523h0M851 602h0M857 531h0M812 509h0M837 526h0M802 586h0M743 660h0M753 499h0M790 633h0M858 518h0M854 496h0M799 528h0M845 614h0M755 513h0M769 662h0M777 481h0M834 480h0M758 636h0M831 640h0M759 624h0M747 626h0M752 626h0M821 545h0M830 663h0M1083 319h0M989 443h0M1099 357h0M1077 405h0M1025 405h0M1064 318h0M1025 435h0M1079 362h0M1037 757h0M1099 658h0M1042 692h0M1098 647h0M1081 633h0M1098 641h0M1010 698h0M1065 619h0M1079 606h0M1061 690h0M1049 602h0M986 616h0M985 690h0M1025 619h0M1095 649h0M1047 509h0M1078 536h0M1009 521h0M1086 481h0M1090 541h0M1020 536h0M1072 575h0M1001 500h0M1021 550h0M1048 466h0M1095 508h0M1338 408h0M1280 398h0M1254 358h0M1246 406h0M1238 428h0M1279 411h0M1295 374h0M1267 350h0M1275 357h0M1354 347h0M1331 429h0M1278 337h0M1295 355h0M1274 364h0M1276 403h0M1232 359h0M1262 684h0M1348 695h0M1308 631h0M1251 832h0M1348 698h0M1246 596h0M1338 704h0M1324 596h0M1233 681h0M1317 597h0M1292 596h0M1247 514h0M1301 453h0M1281 479h0M1297 495h0M1294 558h0M1348 554h0M1250 497h0M1314 527h0M1293 550h0M1344 456h0M1311 535h0M1277 498h0M1346 487h0M1313 506h0M1290 521h0M1256 526h0M1248 456h0M1307 557h0M1309 524h0M1554 301h0M1555 420h0M1553 446h0M1508 430h0M1588 417h0M1579 435h0M1559 686h0M1511 854h0M1524 786h0M1527 682h0M1533 667h0M1588 640h0M1595 777h0M1542 636h0M1601 780h0M1557 656h0M1494 770h0M1561 683h0M1526 509h0M1503 621h0M1585 548h0M1594 622h0M1525 470h0M1489 504h0M1595 510h0M1515 472h0M1516 484h0M1522 538h0M1542 483h0M1553 596h0M1566 515h0M1489 467h0M1580 580h0M1508 529h0M1570 551h0M1580 553h0M1587 472h0M1555 536h0M1533 570h0M1583 612h0M1592 483h0M1577 492h0M1534 491h0M1559 601h0M1533 568h0M1486 628h0M1576 476h0M1499 501h0M1551 285h0"/>
<path d="M287 310h0M255 329h0M276 335h0M283 337h0M307 619h0M254 770h0M334 599h0M337 660h0M283 680h0M343 653h0M260 634h0M291 530h0M351 531h0M281 452h0M240 344h0M265 345h0M300 351h0M329 377h0M253 472h0M332 563h0M267 343h0M287 503h0M295 480h0M254 393h0M305 373h0M300 453h0M357 437h0M249 503h0M284 587h0M344 507h0M328 474h0M300 452h0M346 531h0M319 392h0M296 452h0M348 558h0M242 396h0M297 521h0M593 341h0M597 336h0M496 352h0M506 352h0M542 336h0M575 367h0M548 363h0M588 354h0M521 320h0M499 660h0M527 638h0M521 705h0M516 725h0M504 641h0M546 671h0M513 640h0M524 681h0M580 610h0M511 700h0M603 476h0M568 381h0M518 413h0M588 586h0M561 577h0M504 511h0M509 506h0M525 535h0M603 488h0M572 593h0M563 542h0M567 447h0M584 565h0M611 455h0M578 594h0M509 572h0M501 469h0M597 482h0M585 486h0M501 566h0M506 586h0M545 510h0M498 426h0M553 523h0M507 424h0M792 340h0M818 385h0M779 421h0M844 428h0M858 322h0M768 454h0M840 400h0M766 429h0M777 289h0M755 401h0M809 456h0M782 468h0M783 456h0M779 474h0M798 749h0M786 795h0M837 707h0M838 763h0M784 757h0M846 686h0M780 770h0M853 826h0M745 732h0M793 792h0M845 558h0M777 612h0M821 603h0M768 628h0M751 604h0M778 585h0M836 614h0M737 639h0M761 665h0M857 615h0M779 500h0M824 578h0M810 571h0M810 515h0M794 647h0M819 665h0M774 483h0M1018 425h0M1025 293h0M1091 413h0M1000 420h0M1086 306h0M1099 364h0M1058 400h0M1002 422h0M1106 307h0M987 260h0M1038 365h0M1065 448h0M1091 391h0M1098 407h0M1005 433h0M1067 438h0M1022 439h0M1033 406h0M1005 600h0M1075 602h0M1098 620h0M983 581h0M1019 606h0M1032 676h0M1063 594h0M989 512h0M1075 520h0M991 482h0M1025 525h0M1003 459h0M997 556h0M1002 525h0M1061 534h0M1080 507h0M1050 460h0M1066 567h0M992 522h0M1016 494h0M1106 462h0M1061 502h0M1073 547h0M1040 522h0M1262 435h0M1280 418h0M1339 425h0M1244 424h0M1235 375h0M1310 369h0M1236 397h0M1329 334h0M1240 425h0M1309 425h0M1335 394h0M1343 441h0M1348 390h0M1253 415h0M1254 401h0M1324 646h0M1238 686h0M1291 739h0M1306 606h0M1353 658h0M1337 737h0M1311 784h0M1285 742h0M1250 638h0M1274 752h0M1350 702h0M1352 661h0M1332 635h0M1308 606h0M1241 494h0M1256 527h0M1279 523h0M1340 459h0M1272 554h0M1242 529h0M1290 580h0M1236 577h0M1332 496h0M1327 476h0M1276 559h0M1308 452h0M1282 574h0M1271 463h0M1289 540h0M1587 412h0M1544 337h0M1575 444h0M1499 447h0M1539 374h0M1572 692h0M1580 701h0M1566 678h0M1550 665h0M1486 669h0M1581 794h0M1545 726h0M1582 656h0M1570 777h0M1481 653h0M1563 490h0M1506 603h0M1479 593h0M1531 472h0M1555 610h0M1564 493h0M1485 513h0M1495 568h0M1574 481h0M1577 577h0M1523 550h0M1492 527h0M1553 497h0M1502 521h0M1587 528h0M1557 629h0M1498 463h0M1580 578h0M1489 526h0M1597 613h0M1596 485h0M1581 329h0"/>
<path d="M347 322h0M284 299h0M241 317h0M287 646h0M263 667h0M276 644h0M287 599h0M349 635h0M310 771h0M356 618h0M282 359h0M361 346h0M265 555h0M344 524h0M253 549h0M322 410h0M327 429h0M349 543h0M247 533h0M280 390h0M363 378h0M301 359h0M306 444h0M303 493h0M274 575h0M246 482h0M322 377h0M259 566h0M300 391h0M280 409h0M319 521h0M342 497h0M333 528h0M362 444h0M301 467h0M354 434h0M296 392h0M580 347h0M561 350h0M585 331h0M503 358h0M561 346h0M502 361h0M501 328h0M569 611h0M518 706h0M515 612h0M570 694h0M515 685h0M543 609h0M494 674h0M576 621h0M570 667h0M590 627h0M536 636h0M609 685h0M545 672h0M585 440h0M504 487h0M513 594h0M607 561h0M583 494h0M535 494h0M524 532h0M523 463h0M607 401h0M580 481h0M593 578h0M550 567h0M501 401h0M525 473h0M490 521h0M569 517h0M587 463h0M492 430h0M610 587h0M550 604h0M555 381h0M607 426h0M534 574h0M563 591h0M607 534h0M562 573h0M611 485h0M538 594h0M604 451h0M565 466h0M550 417h0M573 414h0M522 564h0M587 868h0M747 363h0M830 427h0M814 453h0M840 396h0M814 473h0M754 450h0M847 454h0M786 360h0M796 714h0M838 743h0M853 795h0M744 688h0M803 783h0M763 668h0M826 712h0M853 677h0M743 768h0M758 709h0M810 781h0M774 621h0M786 629h0M745 485h0M833 501h0M841 526h0M855 607h0M741 517h0M805 511h0M802 564h0M833 571h0M825 484h0M793 632h0M780 565h0M767 575h0M795 653h0M856 654h0M772 591h0M765 625h0M1008 447h0M1044 268h0M1043 397h0M1014 390h0M1038 404h0M1021 412h0M1021 412h0M1067 441h0M1000 334h0M1026 435h0M1015 278h0M1091 347h0M1050 408h0M1086 440h0M1086 369h0M1017 289h0M1080 366h0M1011 380h0M1088 667h0M1080 682h0M1067 618h0M1053 620h0M1015 579h0M993 628h0M1079 711h0M988 692h0M1018 671h0M1043 608h0M990 727h0M1035 600h0M1103 725h0M1035 614h0M1019 576h0M1028 775h0M1019 644h0M1067 580h0M1098 733h0M1093 467h0M1064 549h0M1026 519h0M1019 479h0M1013 530h0M1103 479h0M1079 491h0M986 562h0M1101 576h0M983 554h0M1081 540h0M1095 550h0M1075 566h0M1048 540h0M1327 443h0M1235 420h0M1256 392h0M1283 441h0M1267 339h0M1333 342h0M1352 653h0M1236 681h0M1340 701h0M1327 693h0M1315 663h0M1306 650h0M1339 598h0M1305 490h0M1252 522h0M1278 526h0M1267 469h0M1284 474h0M1297 479h0M1307 510h0M1354 461h0M1265 512h0M1339 576h0M1258 498h0M1306 542h0M1278 484h0M1265 493h0M1556 441h0M1509 395h0M1510 416h0M1536 383h0M1484 449h0M1491 355h0M1538 438h0M1532 679h0M1579 710h0M1519 792h0M1510 699h0M1557 702h0M1492 690h0M1537 646h0M1590 703h0M1570 677h0M1499 711h0M1588 723h0M1515 643h0M1580 834h0M1533 636h0M1579 778h0M1578 712h0M1538 645h0M1595 764h0M1558 745h0M1497 637h0M1512 815h0M1599 636h0M1530 645h0M1493 746h0M1590 468h0M1563 537h0M1547 484h0M1522 553h0M1597 621h0M1528 622h0M1564 599h0M1509 614h0M1552 564h0M1528 558h0M1485 601h0M1574 629h0M1559 492h0M1564 562h0"/>
<path d="M356 301h0M303 310h0M339 302h0M291 329h0M289 313h0M305 313h0M332 697h0M252 652h0M253 690h0M305 680h0M266 616h0M285 597h0M323 623h0M335 630h0M341 650h0M271 604h0M299 621h0M282 591h0M298 627h0M319 635h0M340 474h0M265 408h0M331 437h0M285 453h0M283 380h0M293 353h0M330 445h0M256 385h0M301 396h0M286 348h0M256 481h0M333 366h0M332 401h0M344 529h0M246 516h0M334 558h0M290 521h0M315 481h0M344 489h0M271 423h0M290 455h0M301 547h0M290 511h0M270 428h0M300 479h0M354 571h0M246 423h0M298 478h0M303 423h0M287 364h0M325 399h0M304 435h0M341 497h0M288 450h0M340 583h0M347 371h0M254 571h0M250 483h0M311 430h0M250 361h0M558 332h0M506 361h0M601 357h0M501 339h0M538 344h0M591 372h0M492 359h0M510 332h0M531 649h0M514 610h0M505 671h0M578 649h0M581 694h0M604 741h0M497 665h0M561 456h0M511 409h0M611 506h0M492 443h0M545 540h0M606 509h0M568 562h0M496 601h0M502 426h0M522 420h0M511 549h0M491 574h0M528 538h0M517 536h0M575 596h0M517 496h0M539 468h0M584 397h0M547 432h0M498 404h0M557 437h0M591 394h0M556 512h0M536 566h0M534 399h0M820 408h0M844 469h0M772 349h0M829 452h0M747 430h0M852 466h0M851 473h0M853 429h0M778 419h0M836 323h0M825 358h0M771 428h0M859 449h0M848 744h0M751 689h0M751 778h0M811 727h0M806 783h0M754 716h0M775 762h0M779 735h0M852 720h0M826 717h0M819 774h0M849 684h0M768 681h0M779 852h0M849 711h0M757 696h0M766 634h0M826 656h0M844 597h0M805 545h0M762 487h0M742 580h0M809 636h0M751 511h0M762 502h0M738 630h0M849 505h0M826 526h0M790 647h0M739 552h0M827 620h0M836 582h0M842 576h0M795 622h0M854 610h0M801 527h0M845 572h0M797 578h0M798 558h0M779 624h0M1075 410h0M1091 268h0M1078 347h0M1090 358h0M1094 377h0M1022 389h0M1049 416h0M988 447h0M1040 454h0M1094 701h0M1047 668h0M985 576h0M1021 604h0M1036 675h0M1064 723h0M1011 658h0M1056 480h0M1085 530h0M1076 559h0M1056 521h0M1051 492h0M1000 573h0M1060 542h0M1003 878h0M1234 416h0M1234 442h0M1247 367h0M1273 435h0M1246 403h0M1335 435h0M1274 437h0M1314 420h0M1288 343h0M1263 335h0M1239 446h0M1260 446h0M1337 427h0M1300 702h0M1342 602h0M1251 865h0M1313 615h0M1323 810h0M1312 632h0M1315 602h0M1252 662h0M1246 670h0M1341 777h0M1302 819h0M1276 607h0M1327 633h0M1247 479h0M1329 499h0M1238 485h0M1292 534h0M1260 579h0M1309 497h0M1254 570h0M1232 570h0M1268 517h0M1301 499h0M1322 523h0M1345 581h0M1259 525h0M1322 501h0M1232 552h0M1240 498h0M1285 535h0M1317 502h0M1284 479h0M1599 312h0M1587 400h0M1597 436h0M1502 449h0M1591 442h0M1592 322h0M1479 443h0M1560 440h0M1489 692h0M1583 632h0M1571 712h0M1482 773h0M1563 676h0M1505 851h0M1580 736h0M1484 638h0M1522 731h0M1518 778h0M1483 715h0M1493 784h0M1521 634h0M1587 658h0M1526 471h0M1480 470h0M1480 548h0M1540 481h0M1559 575h0M1504 584h0M1562 622h0M1583 466h0M1581 526h0M1536 464h0M1571 464h0M1537 493h0M1600 463h0M1497 522h0M1543 512h0M1580 524h0M1543 607h0M1544 629h0M1529 475h0"/>
<path d="M329 310h0M332 333h0M322 672h0M282 593h0M318 624h0M351 601h0M277 628h0M332 750h0M334 654h0M326 427h0M319 435h0M270 492h0M361 389h0M299 515h0M247 523h0M343 579h0M318 461h0M266 378h0M291 550h0M335 364h0M336 572h0M273 412h0M356 527h0M268 355h0M339 496h0M321 379h0M278 431h0M357 356h0M357 462h0M357 445h0M304 368h0M305 406h0M328 398h0M358 354h0M244 373h0M254 381h0M356 450h0M299 392h0M250 551h0M324 426h0M353 350h0M262 420h0M326 356h0M315 566h0M584 379h0M566 343h0M586 304h0M579 368h0M556 356h0M579 639h0M543 633h0M553 733h0M548 647h0M566 630h0M597 671h0M524 618h0M590 672h0M566 668h0M607 664h0M525 675h0M501 644h0M564 684h0M530 618h0M588 713h0M600 571h0M536 479h0M566 583h0M499 446h0M508 417h0M522 502h0M512 552h0M515 506h0M575 518h0M589 537h0M497 527h0M575 476h0M526 519h0M590 576h0M525 553h0M499 396h0M497 510h0M541 578h0M550 407h0M534 426h0M602 413h0M556 439h0M531 530h0M591 468h0M563 543h0M595 459h0M569 386h0M504 507h0M601 518h0M528 574h0M595 472h0M741 457h0M816 472h0M851 297h0M794 407h0M848 341h0M765 389h0M753 457h0M842 427h0M821 384h0M808 829h0M840 697h0M769 727h0M796 684h0M856 725h0M800 808h0M763 758h0M746 870h0M850 734h0M816 781h0M790 814h0M811 695h0M765 733h0M808 572h0M752 556h0M794 666h0M827 600h0M803 581h0M857 541h0M741 539h0M743 537h0M757 532h0M841 655h0M821 586h0M804 576h0M835 479h0M809 644h0M749 502h0M742 524h0M770 502h0M793 606h0M813 511h0M762 591h0M841 652h0M793 497h0M791 627h0M763 507h0M840 497h0M749 607h0M785 636h0M830 624h0M818 528h0M812 546h0M758 548h0M814 1023h0M1080 408h0M1040 400h0M1068 411h0M1061 313h0M1100 454h0M1021 404h0M1095 368h0M1073 419h0M997 307h0M984 410h0M1018 768h0M1006 682h0M1084 727h0M1050 696h0M1029 651h0M1105 725h0M1019 614h0M1032 628h0M1081 632h0M1013 620h0M1040 610h0M1072 825h0M1067 678h0M1099 691h0M1104 635h0M1004 579h0M1013 819h0M997 624h0M997 745h0M1081 647h0M1055 503h0M1001 504h0M1000 515h0M1042 467h0M1056 459h0M1021 512h0M995 551h0M1103 502h0M1007 495h0M984 470h0M1091 561h0M1069 558h0M996 514h0M1053 550h0M1261 433h0M1313 374h0M1243 412h0M1303 362h0M1282 423h0M1314 396h0M1259 382h0M1316 414h0M1294 443h0M1345 415h0M1349 678h0M1306 698h0M1353 638h0M1319 693h0M1316 634h0M1270 677h0M1342 727h0M1283 772h0M1289 644h0M1274 650h0M1329 738h0M1257 685h0M1262 772h0M1234 597h0M1278 740h0M1340 616h0M1348 709h0M1242 746h0M1286 639h0M1274 708h0M1268 685h0M1260 560h0M1237 505h0M1289 513h0M1233 505h0M1258 541h0M1241 515h0M1257 492h0M1273 589h0M1332 451h0M1285 464h0M1297 460h0M1342 591h0M1234 551h0M1288 518h0M1243 906h0M1593 405h0M1586 429h0M1498 448h0M1570 426h0M1596 406h0M1600 801h0M1569 675h0M1588 813h0M1551 673h0M1516 639h0M1487 714h0M1579 846h0M1500 677h0M1537 640h0M1502 764h0M1521 929h0M1544 721h0M1602 724h0M1516 646h0M1524 674h0M1592 720h0M1561 684h0M1493 740h0M1596 686h0M1565 504h0M1569 565h0M1534 627h0M1531 504h0M1502 520h0M1500 559h0M1532 575h0M1545 628h0M1502 589h0M1525 604h0M1485 600h0M1521 546h0M1546 553h0M1511 476h0M1552 606h0M1554 493h0M1529 564h0M1580 523h0M1574 511h0"/>
<path d="M307 294h0M253 329h0M285 339h0M317 335h0M302 310h0M243 635h0M295 633h0M274 645h0M259 645h0M277 621h0M304 607h0M317 651h0M300 649h0M355 694h0M271 664h0M258 701h0M305 712h0M345 596h0M259 349h0M310 528h0M332 460h0M332 414h0M349 538h0M286 427h0M363 355h0M288 479h0M265 566h0M248 438h0M248 381h0M331 523h0M359 372h0M254 566h0M267 544h0M285 491h0M261 553h0M261 480h0M266 400h0M343 517h0M280 394h0M277 403h0M310 339h0M342 458h0M356 830h0M510 334h0M557 343h0M563 325h0M505 640h0M608 700h0M548 611h0M547 655h0M565 687h0M490 646h0M605 681h0M506 621h0M555 656h0M526 451h0M605 441h0M563 599h0M549 501h0M532 605h0M501 391h0M568 577h0M545 388h0M573 401h0M583 476h0M541 436h0M611 429h0M543 574h0M518 577h0M507 557h0M516 436h0M499 608h0M508 410h0M565 450h0M524 411h0M523 606h0M526 449h0M587 564h0M583 600h0M578 497h0M580 532h0M593 265h0M534 861h0M840 449h0M859 425h0M805 436h0M837 404h0M749 476h0M798 450h0M749 424h0M750 469h0M838 469h0M798 329h0M806 390h0M811 742h0M758 802h0M760 717h0M837 697h0M825 689h0M813 719h0M763 831h0M739 708h0M794 682h0M735 806h0M772 741h0M783 512h0M739 479h0M851 522h0M847 527h0M749 537h0M781 492h0M795 515h0M747 531h0M774 526h0M748 508h0M758 615h0M841 621h0M1039 444h0M1045 331h0M984 334h0M1074 388h0M985 419h0M996 359h0M1004 410h0M1067 430h0M1011 428h0M1070 287h0M1017 411h0M1065 405h0M1008 419h0M1092 454h0M1073 826h0M1022 700h0M1000 638h0M1053 695h0M986 657h0M1098 605h0M984 650h0M1000 792h0M1006 616h0M1021 664h0M1003 749h0M1060 691h0M999 622h0M1091 668h0M1067 519h0M1028 555h0M1089 548h0M1100 477h0M1084 499h0M1003 503h0M1087 556h0M1061 539h0M1044 464h0M1019 524h0M1022 526h0M1025 555h0M1067 527h0M1100 467h0M1293 426h0M1282 423h0M1350 382h0M1278 376h0M1294 430h0M1320 378h0M1311 413h0M1343 260h0M1259 439h0M1305 379h0M1291 391h0M1232 412h0M1264 257h0M1241 446h0M1353 376h0M1299 633h0M1285 674h0M1235 643h0M1274 611h0M1250 645h0M1281 755h0M1234 708h0M1262 683h0M1344 684h0M1249 625h0M1319 838h0M1271 635h0M1340 658h0M1275 601h0M1343 814h0M1326 640h0M1268 695h0M1289 594h0M1325 631h0M1259 536h0M1305 584h0M1277 563h0M1305 527h0M1281 535h0M1233 534h0M1233 554h0M1328 584h0M1344 473h0M1293 456h0M1247 498h0M1272 546h0M1326 449h0M1340 561h0M1323 450h0M1336 515h0M1296 481h0M1247 513h0M1342 481h0M1248 526h0M1253 573h0M1342 578h0M1286 488h0M1240 552h0M1350 484h0M1598 450h0M1579 436h0M1487 424h0M1590 369h0M1491 408h0M1571 715h0M1531 640h0M1514 637h0M1504 656h0M1494 727h0M1502 721h0M1583 764h0M1595 834h0M1503 632h0M1557 829h0M1489 808h0M1482 722h0M1566 768h0M1591 642h0M1574 469h0M1496 628h0M1504 510h0M1570 528h0M1592 520h0M1502 505h0M1500 545h0M1532 603h0M1574 584h0M1496 577h0M1480 625h0M1526 613h0M1585 536h0M1486 618h0"/>
<path d="M314 316h0M263 313h0M362 302h0M291 315h0M360 305h0M244 332h0M346 305h0M274 338h0M352 699h0M268 703h0M286 620h0M307 686h0M327 588h0M333 606h0M332 647h0M337 616h0M265 622h0M318 686h0M341 625h0M264 594h0M354 680h0M251 597h0M277 488h0M337 365h0M276 478h0M265 527h0M313 526h0M281 411h0M324 423h0M303 380h0M359 421h0M305 510h0M284 409h0M345 383h0M252 576h0M351 549h0M357 435h0M337 406h0M280 539h0M248 530h0M258 519h0M348 468h0M322 457h0M323 382h0M280 367h0M504 297h0M490 318h0M507 326h0M515 339h0M512 357h0M542 339h0M601 338h0M506 686h0M595 655h0M538 799h0M522 640h0M557 623h0M598 683h0M560 716h0M547 637h0M530 628h0M543 695h0M604 652h0M534 395h0M592 541h0M569 577h0M588 533h0M547 391h0M576 401h0M508 493h0M576 593h0M543 415h0M595 461h0M501 545h0M512 538h0M528 446h0M499 541h0M603 411h0M601 432h0M532 511h0M537 589h0M551 608h0M567 441h0M523 479h0M548 415h0M501 396h0M608 595h0M511 918h0M838 365h0M813 421h0M786 421h0M782 458h0M832 394h0M801 336h0M828 465h0M778 412h0M752 421h0M821 406h0M748 704h0M851 830h0M739 765h0M812 832h0M840 671h0M834 686h0M758 688h0M793 718h0M748 681h0M840 673h0M799 779h0M775 761h0M776 737h0M776 769h0M754 668h0M739 777h0M758 568h0M760 495h0M778 524h0M857 586h0M816 500h0M744 665h0M823 538h0M810 507h0M816 494h0M829 576h0M744 621h0M1052 320h0M987 370h0M1043 414h0M1022 426h0M1041 309h0M1075 406h0M998 444h0M1029 375h0M1089 397h0M1068 405h0M1090 320h0M1014 368h0M1095 451h0M1055 416h0M1052 332h0M1104 368h0M1049 605h0M1038 620h0M1014 710h0M1056 579h0M1098 606h0M1081 621h0M1042 642h0M1052 669h0M1011 706h0M1082 604h0M1061 662h0M1031 652h0M991 679h0M1090 601h0M1105 674h0M989 590h0M1034 682h0M1053 625h0M1026 781h0M1095 691h0M992 662h0M984 685h0M1039 601h0M994 659h0M1084 466h0M985 556h0M1056 525h0M1072 466h0M1079 474h0M1085 473h0M1096 556h0M983 538h0M1310 329h0M1255 405h0M1254 395h0M1233 389h0M1332 434h0M1297 429h0M1245 381h0M1277 408h0M1310 428h0M1271 382h0M1353 416h0M1329 407h0M1310 444h0M1254 448h0M1277 374h0M1349 398h0M1255 325h0M1249 380h0M1354 390h0M1233 391h0M1256 432h0M1305 399h0M1236 620h0M1318 760h0M1271 624h0M1288 726h0M1315 693h0M1340 601h0M1338 615h0M1269 650h0M1335 626h0M1280 631h0M1340 610h0M1329 676h0M1292 650h0M1244 626h0M1314 505h0M1354 584h0M1276 498h0M1311 457h0M1256 450h0M1255 570h0M1282 461h0M1299 572h0M1235 516h0M1277 493h0M1233 469h0M1278 534h0M1251 465h0M1263 491h0M1279 530h0M1342 558h0M1298 591h0M1251 592h0M1328 477h0M1322 560h0M1504 439h0M1531 368h0M1554 447h0M1484 432h0M1509 384h0M1591 427h0M1489 452h0M1526 429h0M1586 396h0M1506 420h0M1488 382h0M1588 338h0M1498 438h0M1561 356h0M1527 453h0M1548 436h0M1487 699h0M1517 680h0M1522 773h0M1598 734h0M1543 677h0M1558 794h0M1519 653h0M1573 696h0M1555 783h0M1522 809h0M1544 671h0M1506 812h0M1515 643h0M1494 776h0M1540 850h0M1512 529h0M1500 626h0M1505 498h0M1560 495h0M1511 572h0M1571 519h0M1601 612h0M1529 601h0M1558 585h0M1598 544h0M1478 460h0M1518 535h0M1517 461h0M1560 556h0M1501 471h0M1532 549h0M1558 469h0M1519 331h0"/>
<path d="M263 319h0M329 330h0M271 284h0M349 328h0M362 636h0M242 676h0M350 589h0M315 727h0M281 595h0M260 591h0M253 707h0M291 589h0M295 613h0M304 595h0M347 428h0M356 565h0M319 530h0M299 372h0M262 502h0M290 442h0M330 588h0M326 441h0M286 353h0M302 568h0M352 380h0M328 371h0M268 533h0M331 484h0M303 452h0M256 565h0M306 572h0M270 482h0M344 421h0M336 429h0M287 369h0M287 399h0M352 464h0M324 551h0M330 538h0M600 376h0M575 333h0M549 347h0M575 361h0M522 376h0M510 621h0M606 769h0M533 721h0M508 655h0M523 639h0M523 386h0M539 399h0M610 493h0M557 538h0M610 467h0M572 579h0M580 588h0M600 600h0M515 448h0M598 519h0M560 551h0M593 567h0M525 575h0M520 442h0M509 546h0M581 413h0M520 503h0M493 543h0M510 510h0M582 480h0M566 517h0M550 380h0M544 508h0M603 244h0M750 426h0M781 398h0M791 286h0M822 334h0M792 435h0M738 433h0M793 440h0M788 437h0M800 677h0M761 689h0M821 685h0M765 667h0M796 796h0M824 800h0M799 755h0M736 689h0M781 841h0M835 681h0M745 724h0M839 789h0M839 758h0M737 587h0M801 633h0M857 559h0M738 479h0M794 660h0M777 667h0M761 584h0M793 586h0M858 489h0M772 616h0M806 515h0M757 629h0M809 570h0M786 542h0M749 496h0M804 499h0M775 588h0M742 512h0M1102 394h0M1009 442h0M1049 423h0M1012 403h0M1060 414h0M1047 389h0M1075 399h0M985 353h0M1079 377h0M1080 338h0M1063 389h0M1030 689h0M1063 603h0M1086 652h0M1051 728h0M999 585h0M1081 641h0M1030 669h0M1032 606h0M1049 619h0M1034 739h0M1091 603h0M1072 706h0M1106 631h0M1073 650h0M1020 687h0M1043 587h0M1006 608h0M1053 759h0M1067 634h0M1082 683h0M1017 726h0M1031 831h0M1067 625h0M1059 502h0M1034 517h0M989 558h0M1012 558h0M997 525h0M1097 562h0M1100 514h0M986 460h0M1034 499h0M988 503h0M1081 515h0M1046 559h0M1029 474h0M1262 405h0M1285 446h0M1276 342h0M1326 440h0M1351 423h0M1321 375h0M1309 643h0M1301 790h0M1239 640h0M1279 656h0M1338 784h0M1238 644h0M1280 643h0M1352 801h0M1285 620h0M1234 619h0M1344 636h0M1317 596h0M1301 704h0M1347 599h0M1316 612h0M1351 742h0M1281 792h0M1297 619h0M1254 710h0M1267 599h0M1247 673h0M1278 651h0M1276 710h0M1251 580h0M1265 518h0M1310 539h0M1274 463h0M1311 569h0M1316 468h0M1336 589h0M1235 554h0M1283 476h0M1319 513h0M1314 593h0M1276 588h0M1280 478h0M1336 567h0M1257 462h0M1252 593h0M1288 482h0M1299 557h0M1251 542h0M1512 404h0M1542 373h0M1584 439h0M1479 431h0M1588 457h0M1486 457h0M1566 423h0M1515 381h0M1557 373h0M1481 764h0M1539 798h0M1582 736h0M1536 686h0M1487 701h0M1526 674h0M1553 685h0M1581 691h0M1494 742h0M1547 660h0M1532 665h0M1571 685h0M1526 485h0M1561 505h0M1490 550h0M1533 525h0M1481 570h0M1509 602h0M1496 465h0M1598 538h0M1479 505h0M1550 577h0M1543 514h0M1581 468h0M1522 555h0M1580 611h0M1560 479h0M1585 531h0M1502 279h0"/>
</g>
<rect x="201.9" y="961.9" width="194.5" height="132.2" rx="12" ry="12" fill="#fff" fill-opacity="0.8" stroke="#a0a0a0" stroke-width="1.9"/>
<circle cx="241.5" cy="1001.2" r="10.5" fill="#e99a9a" fill-opacity="0.50"/>
<circle cx="241.5" cy="1058.5" r="10.5" fill="#7692b2" fill-opacity="0.50"/>
<text x="296.4" y="1013.1" font-size="38.5" fill="#000">Sp</text>
<text x="298.7" y="1070.3" font-size="38.5" fill="#000">Sn</text>
<text x="148.7" y="32.1" font-size="41.67" fill="#242424" stroke="#242424" text-anchor="end">1.00</text>
<text x="148.7" y="216.5" font-size="41.67" fill="#242424" stroke="#242424" text-anchor="end">0.95</text>
<text x="148.7" y="400.9" font-size="41.67" fill="#242424" stroke="#242424" text-anchor="end">0.90</text>
<text x="148.7" y="585.4" font-size="41.67" fill="#242424" stroke="#242424" text-anchor="end">0.85</text>
<text x="148.7" y="769.8" font-size="41.67" fill="#242424" stroke="#242424" text-anchor="end">0.80</text>
<text x="148.7" y="954.2" font-size="41.67" fill="#242424" stroke="#242424" text-anchor="end">0.75</text>
<text x="148.7" y="1138.6" font-size="41.67" fill="#242424" stroke="#242424" text-anchor="end">0.70</text>
<text x="302.5" y="1182.8" font-size="41.67" fill="#242424" stroke="#242424" text-anchor="middle">PDN_NOS1</text>
<text x="549.8" y="1182.8" font-size="41.67" fill="#242424" stroke="#242424" text-anchor="middle">PDN_NOS2</text>
<text x="797.2" y="1182.8" font-size="41.67" fill="#242424" stroke="#242424" text-anchor="middle">PDN_NOS3</text>
<text x="1044.5" y="1182.8" font-size="41.67" fill="#242424" stroke="#242424" text-anchor="middle">PDN_OS1</text>
<text x="1291.8" y="1182.8" font-size="41.67" fill="#242424" stroke="#242424" text-anchor="middle">PDN_OS2</text>
<text x="1539.2" y="1182.8" font-size="41.67" fill="#242424" stroke="#242424" text-anchor="middle">PDN_OS3</text>
<text x="920.8" y="1240.9" font-size="41.67" fill="#242424" stroke="#242424" text-anchor="middle">strategy</text>
<text transform="translate(32.2 572.8) rotate(-90)" font-size="41.67" fill="#242424" stroke="#242424" text-anchor="middle">similarity</text>
</svg></body></html>
